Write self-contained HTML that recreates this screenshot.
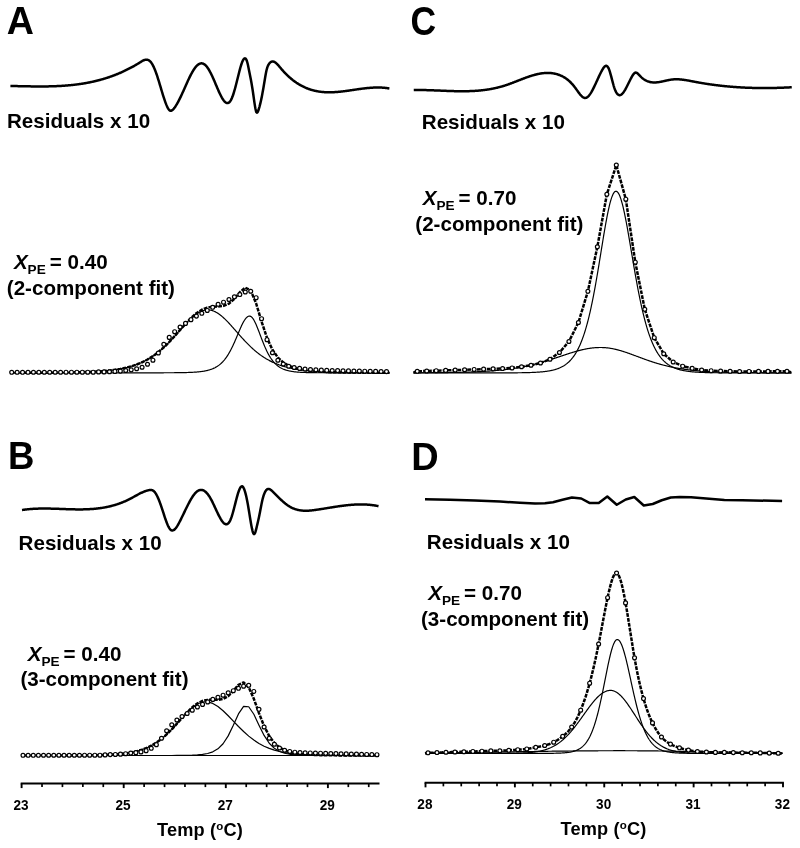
<!DOCTYPE html>
<html><head><meta charset="utf-8"><title>Figure</title>
<style>
html,body{margin:0;padding:0;background:#fff;}
body{width:800px;height:848px;overflow:hidden;}
svg{display:block;will-change:transform;}
text{font-family:"Liberation Sans", sans-serif;font-weight:bold;fill:#000;stroke:none;}
.pl{font-size:35.5px;}
.lb{font-size:20.6px;}
.it{font-style:italic;}
.sub{font-size:13.6px;}
.tl{font-size:13.6px;}
.tt{font-size:18.2px;letter-spacing:0.15px;}
.sup{font-size:11.5px;}
</style></head><body>
<svg width="800" height="848" viewBox="0 0 800 848">
<rect width="800" height="848" fill="#fff"/>
<g>
<path d="M10.00 372.78 L10.50 372.78 L11.00 372.78 L11.50 372.78 L12.00 372.78 L12.50 372.78 L13.00 372.78 L13.50 372.78 L14.00 372.78 L14.50 372.78 L15.00 372.78 L15.50 372.78 L16.00 372.77 L16.50 372.77 L17.00 372.77 L17.50 372.77 L18.00 372.77 L18.50 372.77 L19.00 372.77 L19.50 372.77 L20.00 372.77 L20.50 372.77 L21.00 372.77 L21.50 372.77 L22.00 372.77 L22.50 372.77 L23.00 372.76 L23.50 372.76 L24.00 372.76 L24.50 372.76 L25.00 372.76 L25.50 372.76 L26.00 372.76 L26.50 372.76 L27.00 372.76 L27.50 372.76 L28.00 372.75 L28.50 372.75 L29.00 372.75 L29.50 372.75 L30.00 372.75 L30.50 372.75 L31.00 372.75 L31.50 372.75 L32.00 372.74 L32.50 372.74 L33.00 372.74 L33.50 372.74 L34.00 372.74 L34.50 372.74 L35.00 372.74 L35.50 372.73 L36.00 372.73 L36.50 372.73 L37.00 372.73 L37.50 372.73 L38.00 372.73 L38.50 372.72 L39.00 372.72 L39.50 372.72 L40.00 372.72 L40.50 372.72 L41.00 372.71 L41.50 372.71 L42.00 372.71 L42.50 372.71 L43.00 372.71 L43.50 372.70 L44.00 372.70 L44.50 372.70 L45.00 372.70 L45.50 372.69 L46.00 372.69 L46.50 372.69 L47.00 372.69 L47.50 372.68 L48.00 372.68 L48.50 372.68 L49.00 372.67 L49.50 372.67 L50.00 372.67 L50.50 372.66 L51.00 372.66 L51.50 372.66 L52.00 372.65 L52.50 372.65 L53.00 372.65 L53.50 372.64 L54.00 372.64 L54.50 372.64 L55.00 372.63 L55.50 372.63 L56.00 372.62 L56.50 372.62 L57.00 372.61 L57.50 372.61 L58.00 372.60 L58.50 372.60 L59.00 372.59 L59.50 372.59 L60.00 372.58 L60.50 372.58 L61.00 372.57 L61.50 372.57 L62.00 372.56 L62.50 372.56 L63.00 372.55 L63.50 372.54 L64.00 372.54 L64.50 372.53 L65.00 372.53 L65.50 372.52 L66.00 372.51 L66.50 372.50 L67.00 372.50 L67.50 372.49 L68.00 372.48 L68.50 372.47 L69.00 372.47 L69.50 372.46 L70.00 372.45 L70.50 372.44 L71.00 372.43 L71.50 372.42 L72.00 372.41 L72.50 372.40 L73.00 372.39 L73.50 372.38 L74.00 372.37 L74.50 372.36 L75.00 372.35 L75.50 372.34 L76.00 372.33 L76.50 372.32 L77.00 372.31 L77.50 372.30 L78.00 372.28 L78.50 372.27 L79.00 372.26 L79.50 372.24 L80.00 372.23 L80.50 372.22 L81.00 372.20 L81.50 372.19 L82.00 372.17 L82.50 372.16 L83.00 372.14 L83.50 372.13 L84.00 372.11 L84.50 372.09 L85.00 372.07 L85.50 372.06 L86.00 372.04 L86.50 372.02 L87.00 372.00 L87.50 371.98 L88.00 371.96 L88.50 371.94 L89.00 371.92 L89.50 371.90 L90.00 371.88 L90.50 371.85 L91.00 371.83 L91.50 371.81 L92.00 371.78 L92.50 371.76 L93.00 371.73 L93.50 371.71 L94.00 371.68 L94.50 371.65 L95.00 371.63 L95.50 371.60 L96.00 371.57 L96.50 371.54 L97.00 371.51 L97.50 371.48 L98.00 371.44 L98.50 371.41 L99.00 371.38 L99.50 371.34 L100.00 371.31 L100.50 371.27 L101.00 371.23 L101.50 371.20 L102.00 371.16 L102.50 371.12 L103.00 371.08 L103.50 371.03 L104.00 370.99 L104.50 370.95 L105.00 370.90 L105.50 370.86 L106.00 370.81 L106.50 370.76 L107.00 370.71 L107.50 370.66 L108.00 370.61 L108.50 370.56 L109.00 370.50 L109.50 370.45 L110.00 370.39 L110.50 370.34 L111.00 370.28 L111.50 370.22 L112.00 370.15 L112.50 370.09 L113.00 370.03 L113.50 369.96 L114.00 369.89 L114.50 369.82 L115.00 369.75 L115.50 369.68 L116.00 369.60 L116.50 369.53 L117.00 369.45 L117.50 369.37 L118.00 369.29 L118.50 369.20 L119.00 369.12 L119.50 369.03 L120.00 368.94 L120.50 368.85 L121.00 368.76 L121.50 368.66 L122.00 368.56 L122.50 368.47 L123.00 368.36 L123.50 368.26 L124.00 368.15 L124.50 368.04 L125.00 367.93 L125.50 367.82 L126.00 367.70 L126.50 367.58 L127.00 367.46 L127.50 367.34 L128.00 367.21 L128.50 367.08 L129.00 366.95 L129.50 366.81 L130.00 366.67 L130.50 366.53 L131.00 366.39 L131.50 366.24 L132.00 366.09 L132.50 365.93 L133.00 365.78 L133.50 365.61 L134.00 365.45 L134.50 365.28 L135.00 365.11 L135.50 364.94 L136.00 364.76 L136.50 364.58 L137.00 364.39 L137.50 364.20 L138.00 364.01 L138.50 363.81 L139.00 363.61 L139.50 363.40 L140.00 363.19 L140.50 362.98 L141.00 362.76 L141.50 362.54 L142.00 362.31 L142.50 362.08 L143.00 361.84 L143.50 361.60 L144.00 361.36 L144.50 361.11 L145.00 360.85 L145.50 360.59 L146.00 360.33 L146.50 360.06 L147.00 359.79 L147.50 359.51 L148.00 359.22 L148.50 358.93 L149.00 358.64 L149.50 358.34 L150.00 358.03 L150.50 357.72 L151.00 357.41 L151.50 357.09 L152.00 356.76 L152.50 356.43 L153.00 356.09 L153.50 355.75 L154.00 355.40 L154.50 355.04 L155.00 354.68 L155.50 354.32 L156.00 353.94 L156.50 353.57 L157.00 353.18 L157.50 352.79 L158.00 352.40 L158.50 352.00 L159.00 351.59 L159.50 351.18 L160.00 350.76 L160.50 350.34 L161.00 349.91 L161.50 349.47 L162.00 349.03 L162.50 348.59 L163.00 348.14 L163.50 347.68 L164.00 347.22 L164.50 346.75 L165.00 346.27 L165.50 345.79 L166.00 345.31 L166.50 344.82 L167.00 344.33 L167.50 343.83 L168.00 343.32 L168.50 342.81 L169.00 342.30 L169.50 341.78 L170.00 341.26 L170.50 340.73 L171.00 340.20 L171.50 339.67 L172.00 339.13 L172.50 338.59 L173.00 338.05 L173.50 337.50 L174.00 336.95 L174.50 336.39 L175.00 335.84 L175.50 335.28 L176.00 334.72 L176.50 334.16 L177.00 333.59 L177.50 333.03 L178.00 332.46 L178.50 331.90 L179.00 331.33 L179.50 330.76 L180.00 330.20 L180.50 329.63 L181.00 329.06 L181.50 328.50 L182.00 327.94 L182.50 327.38 L183.00 326.82 L183.50 326.26 L184.00 325.71 L184.50 325.16 L185.00 324.61 L185.50 324.07 L186.00 323.53 L186.50 323.00 L187.00 322.47 L187.50 321.95 L188.00 321.43 L188.50 320.92 L189.00 320.42 L189.50 319.93 L190.00 319.44 L190.50 318.96 L191.00 318.48 L191.50 318.02 L192.00 317.57 L192.50 317.12 L193.00 316.69 L193.50 316.26 L194.00 315.85 L194.50 315.45 L195.00 315.06 L195.50 314.68 L196.00 314.31 L196.50 313.96 L197.00 313.62 L197.50 313.29 L198.00 312.97 L198.50 312.67 L199.00 312.38 L199.50 312.11 L200.00 311.85 L200.50 311.61 L201.00 311.38 L201.50 311.17 L202.00 310.97 L202.50 310.79 L203.00 310.62 L203.50 310.48 L204.00 310.34 L204.50 310.23 L205.00 310.13 L205.50 310.04 L206.00 309.98 L206.50 309.93 L207.00 309.89 L207.50 309.88 L208.00 309.88 L208.50 309.90 L209.00 309.93 L209.50 309.99 L210.00 310.06 L210.50 310.14 L211.00 310.25 L211.50 310.37 L212.00 310.50 L212.50 310.66 L213.00 310.83 L213.50 311.01 L214.00 311.21 L214.50 311.43 L215.00 311.66 L215.50 311.91 L216.00 312.18 L216.50 312.46 L217.00 312.75 L217.50 313.06 L218.00 313.38 L218.50 313.71 L219.00 314.06 L219.50 314.42 L220.00 314.79 L220.50 315.18 L221.00 315.58 L221.50 315.99 L222.00 316.41 L222.50 316.84 L223.00 317.28 L223.50 317.73 L224.00 318.19 L224.50 318.66 L225.00 319.14 L225.50 319.63 L226.00 320.12 L226.50 320.63 L227.00 321.14 L227.50 321.65 L228.00 322.17 L228.50 322.70 L229.00 323.24 L229.50 323.78 L230.00 324.32 L230.50 324.87 L231.00 325.42 L231.50 325.98 L232.00 326.53 L232.50 327.10 L233.00 327.66 L233.50 328.23 L234.00 328.79 L234.50 329.36 L235.00 329.93 L235.50 330.50 L236.00 331.08 L236.50 331.65 L237.00 332.22 L237.50 332.79 L238.00 333.36 L238.50 333.93 L239.00 334.49 L239.50 335.06 L240.00 335.62 L240.50 336.18 L241.00 336.74 L241.50 337.30 L242.00 337.85 L242.50 338.40 L243.00 338.95 L243.50 339.49 L244.00 340.03 L244.50 340.57 L245.00 341.10 L245.50 341.62 L246.00 342.15 L246.50 342.67 L247.00 343.18 L247.50 343.69 L248.00 344.19 L248.50 344.69 L249.00 345.19 L249.50 345.68 L250.00 346.16 L250.50 346.64 L251.00 347.11 L251.50 347.58 L252.00 348.04 L252.50 348.50 L253.00 348.95 L253.50 349.40 L254.00 349.83 L254.50 350.27 L255.00 350.70 L255.50 351.12 L256.00 351.53 L256.50 351.94 L257.00 352.35 L257.50 352.75 L258.00 353.14 L258.50 353.53 L259.00 353.91 L259.50 354.28 L260.00 354.65 L260.50 355.02 L261.00 355.37 L261.50 355.73 L262.00 356.07 L262.50 356.41 L263.00 356.75 L263.50 357.08 L264.00 357.40 L264.50 357.72 L265.00 358.03 L265.50 358.34 L266.00 358.64 L266.50 358.94 L267.00 359.23 L267.50 359.52 L268.00 359.80 L268.50 360.07 L269.00 360.34 L269.50 360.61 L270.00 360.87 L270.50 361.13 L271.00 361.38 L271.50 361.63 L272.00 361.87 L272.50 362.10 L273.00 362.34 L273.50 362.57 L274.00 362.79 L274.50 363.01 L275.00 363.22 L275.50 363.43 L276.00 363.64 L276.50 363.84 L277.00 364.04 L277.50 364.24 L278.00 364.43 L278.50 364.61 L279.00 364.80 L279.50 364.97 L280.00 365.15 L280.50 365.32 L281.00 365.49 L281.50 365.65 L282.00 365.82 L282.50 365.97 L283.00 366.13 L283.50 366.28 L284.00 366.43 L284.50 366.57 L285.00 366.71 L285.50 366.85 L286.00 366.99 L286.50 367.12 L287.00 367.25 L287.50 367.38 L288.00 367.50 L288.50 367.62 L289.00 367.74 L289.50 367.86 L290.00 367.97 L290.50 368.08 L291.00 368.19 L291.50 368.30 L292.00 368.40 L292.50 368.51 L293.00 368.61 L293.50 368.70 L294.00 368.80 L294.50 368.89 L295.00 368.98 L295.50 369.07 L296.00 369.16 L296.50 369.24 L297.00 369.33 L297.50 369.41 L298.00 369.49 L298.50 369.57 L299.00 369.64 L299.50 369.72 L300.00 369.79 L300.50 369.86 L301.00 369.93 L301.50 370.00 L302.00 370.06 L302.50 370.13 L303.00 370.19 L303.50 370.25 L304.00 370.31 L304.50 370.37 L305.00 370.43 L305.50 370.48 L306.00 370.54 L306.50 370.59 L307.00 370.64 L307.50 370.70 L308.00 370.75 L308.50 370.79 L309.00 370.84 L309.50 370.89 L310.00 370.93 L310.50 370.98 L311.00 371.02 L311.50 371.06 L312.00 371.10 L312.50 371.15 L313.00 371.18 L313.50 371.22 L314.00 371.26 L314.50 371.30 L315.00 371.33 L315.50 371.37 L316.00 371.40 L316.50 371.44 L317.00 371.47 L317.50 371.50 L318.00 371.53 L318.50 371.56 L319.00 371.59 L319.50 371.62 L320.00 371.65 L320.50 371.68 L321.00 371.70 L321.50 371.73 L322.00 371.76 L322.50 371.78 L323.00 371.80 L323.50 371.83 L324.00 371.85 L324.50 371.87 L325.00 371.90 L325.50 371.92 L326.00 371.94 L326.50 371.96 L327.00 371.98 L327.50 372.00 L328.00 372.02 L328.50 372.04 L329.00 372.06 L329.50 372.07 L330.00 372.09 L330.50 372.11 L331.00 372.13 L331.50 372.14 L332.00 372.16 L332.50 372.17 L333.00 372.19 L333.50 372.20 L334.00 372.22 L334.50 372.23 L335.00 372.25 L335.50 372.26 L336.00 372.27 L336.50 372.28 L337.00 372.30 L337.50 372.31 L338.00 372.32 L338.50 372.33 L339.00 372.34 L339.50 372.35 L340.00 372.37 L340.50 372.38 L341.00 372.39 L341.50 372.40 L342.00 372.41 L342.50 372.42 L343.00 372.42 L343.50 372.43 L344.00 372.44 L344.50 372.45 L345.00 372.46 L345.50 372.47 L346.00 372.48 L346.50 372.48 L347.00 372.49 L347.50 372.50 L348.00 372.51 L348.50 372.51 L349.00 372.52 L349.50 372.53 L350.00 372.53 L350.50 372.54 L351.00 372.55 L351.50 372.55 L352.00 372.56 L352.50 372.56 L353.00 372.57 L353.50 372.58 L354.00 372.58 L354.50 372.59 L355.00 372.59 L355.50 372.60 L356.00 372.60 L356.50 372.61 L357.00 372.61 L357.50 372.62 L358.00 372.62 L358.50 372.62 L359.00 372.63 L359.50 372.63 L360.00 372.64 L360.50 372.64 L361.00 372.64 L361.50 372.65 L362.00 372.65 L362.50 372.66 L363.00 372.66 L363.50 372.66 L364.00 372.67 L364.50 372.67 L365.00 372.67 L365.50 372.68 L366.00 372.68 L366.50 372.68 L367.00 372.68 L367.50 372.69 L368.00 372.69 L368.50 372.69 L369.00 372.70 L369.50 372.70 L370.00 372.70 L370.50 372.70 L371.00 372.70 L371.50 372.71 L372.00 372.71 L372.50 372.71 L373.00 372.71 L373.50 372.72 L374.00 372.72 L374.50 372.72 L375.00 372.72 L375.50 372.72 L376.00 372.73 L376.50 372.73 L377.00 372.73 L377.50 372.73 L378.00 372.73 L378.50 372.73 L379.00 372.74 L379.50 372.74 L380.00 372.74 L380.50 372.74 L381.00 372.74 L381.50 372.74 L382.00 372.74 L382.50 372.75 L383.00 372.75 L383.50 372.75 L384.00 372.75 L384.50 372.75 L385.00 372.75 L385.50 372.75 L386.00 372.75 L386.50 372.76 L387.00 372.76 L387.50 372.76 L388.00 372.76 L388.50 372.76 L389.00 372.76 L389.50 372.76" fill="none" stroke="#000" stroke-width="1.20" stroke-linejoin="round"/>
<path d="M10.00 372.80 L10.50 372.80 L11.00 372.80 L11.50 372.80 L12.00 372.80 L12.50 372.80 L13.00 372.80 L13.50 372.80 L14.00 372.80 L14.50 372.80 L15.00 372.80 L15.50 372.80 L16.00 372.80 L16.50 372.80 L17.00 372.80 L17.50 372.80 L18.00 372.80 L18.50 372.80 L19.00 372.80 L19.50 372.80 L20.00 372.80 L20.50 372.80 L21.00 372.80 L21.50 372.80 L22.00 372.80 L22.50 372.80 L23.00 372.80 L23.50 372.80 L24.00 372.80 L24.50 372.80 L25.00 372.80 L25.50 372.80 L26.00 372.80 L26.50 372.80 L27.00 372.80 L27.50 372.80 L28.00 372.80 L28.50 372.80 L29.00 372.80 L29.50 372.80 L30.00 372.80 L30.50 372.80 L31.00 372.80 L31.50 372.80 L32.00 372.80 L32.50 372.80 L33.00 372.80 L33.50 372.80 L34.00 372.80 L34.50 372.80 L35.00 372.80 L35.50 372.80 L36.00 372.80 L36.50 372.80 L37.00 372.80 L37.50 372.80 L38.00 372.80 L38.50 372.80 L39.00 372.80 L39.50 372.80 L40.00 372.80 L40.50 372.80 L41.00 372.80 L41.50 372.80 L42.00 372.80 L42.50 372.80 L43.00 372.80 L43.50 372.80 L44.00 372.80 L44.50 372.80 L45.00 372.80 L45.50 372.80 L46.00 372.80 L46.50 372.80 L47.00 372.80 L47.50 372.80 L48.00 372.80 L48.50 372.80 L49.00 372.80 L49.50 372.80 L50.00 372.80 L50.50 372.80 L51.00 372.80 L51.50 372.80 L52.00 372.80 L52.50 372.80 L53.00 372.80 L53.50 372.80 L54.00 372.80 L54.50 372.80 L55.00 372.80 L55.50 372.80 L56.00 372.80 L56.50 372.80 L57.00 372.80 L57.50 372.80 L58.00 372.80 L58.50 372.80 L59.00 372.80 L59.50 372.80 L60.00 372.80 L60.50 372.80 L61.00 372.80 L61.50 372.80 L62.00 372.80 L62.50 372.80 L63.00 372.80 L63.50 372.80 L64.00 372.80 L64.50 372.80 L65.00 372.80 L65.50 372.80 L66.00 372.80 L66.50 372.80 L67.00 372.80 L67.50 372.80 L68.00 372.80 L68.50 372.80 L69.00 372.80 L69.50 372.80 L70.00 372.80 L70.50 372.80 L71.00 372.80 L71.50 372.80 L72.00 372.80 L72.50 372.80 L73.00 372.80 L73.50 372.80 L74.00 372.80 L74.50 372.80 L75.00 372.80 L75.50 372.80 L76.00 372.80 L76.50 372.80 L77.00 372.80 L77.50 372.80 L78.00 372.80 L78.50 372.80 L79.00 372.80 L79.50 372.80 L80.00 372.80 L80.50 372.80 L81.00 372.80 L81.50 372.80 L82.00 372.80 L82.50 372.80 L83.00 372.80 L83.50 372.80 L84.00 372.80 L84.50 372.80 L85.00 372.80 L85.50 372.80 L86.00 372.80 L86.50 372.80 L87.00 372.80 L87.50 372.80 L88.00 372.80 L88.50 372.80 L89.00 372.80 L89.50 372.80 L90.00 372.80 L90.50 372.80 L91.00 372.80 L91.50 372.80 L92.00 372.80 L92.50 372.80 L93.00 372.80 L93.50 372.80 L94.00 372.80 L94.50 372.80 L95.00 372.80 L95.50 372.80 L96.00 372.80 L96.50 372.80 L97.00 372.80 L97.50 372.80 L98.00 372.80 L98.50 372.80 L99.00 372.80 L99.50 372.80 L100.00 372.80 L100.50 372.80 L101.00 372.80 L101.50 372.80 L102.00 372.80 L102.50 372.80 L103.00 372.80 L103.50 372.80 L104.00 372.80 L104.50 372.80 L105.00 372.80 L105.50 372.80 L106.00 372.80 L106.50 372.80 L107.00 372.80 L107.50 372.80 L108.00 372.80 L108.50 372.80 L109.00 372.80 L109.50 372.80 L110.00 372.80 L110.50 372.80 L111.00 372.80 L111.50 372.80 L112.00 372.80 L112.50 372.80 L113.00 372.80 L113.50 372.80 L114.00 372.80 L114.50 372.80 L115.00 372.80 L115.50 372.80 L116.00 372.80 L116.50 372.80 L117.00 372.80 L117.50 372.80 L118.00 372.80 L118.50 372.80 L119.00 372.80 L119.50 372.80 L120.00 372.80 L120.50 372.80 L121.00 372.80 L121.50 372.80 L122.00 372.80 L122.50 372.80 L123.00 372.80 L123.50 372.80 L124.00 372.80 L124.50 372.80 L125.00 372.80 L125.50 372.80 L126.00 372.80 L126.50 372.80 L127.00 372.80 L127.50 372.80 L128.00 372.80 L128.50 372.80 L129.00 372.80 L129.50 372.80 L130.00 372.80 L130.50 372.80 L131.00 372.80 L131.50 372.80 L132.00 372.80 L132.50 372.80 L133.00 372.80 L133.50 372.80 L134.00 372.80 L134.50 372.80 L135.00 372.80 L135.50 372.80 L136.00 372.80 L136.50 372.80 L137.00 372.80 L137.50 372.80 L138.00 372.80 L138.50 372.80 L139.00 372.80 L139.50 372.80 L140.00 372.80 L140.50 372.80 L141.00 372.80 L141.50 372.80 L142.00 372.80 L142.50 372.80 L143.00 372.80 L143.50 372.80 L144.00 372.80 L144.50 372.80 L145.00 372.80 L145.50 372.80 L146.00 372.80 L146.50 372.80 L147.00 372.80 L147.50 372.80 L148.00 372.80 L148.50 372.79 L149.00 372.79 L149.50 372.79 L150.00 372.79 L150.50 372.79 L151.00 372.79 L151.50 372.79 L152.00 372.79 L152.50 372.79 L153.00 372.79 L153.50 372.79 L154.00 372.79 L154.50 372.79 L155.00 372.79 L155.50 372.79 L156.00 372.79 L156.50 372.79 L157.00 372.79 L157.50 372.79 L158.00 372.79 L158.50 372.79 L159.00 372.78 L159.50 372.78 L160.00 372.78 L160.50 372.78 L161.00 372.78 L161.50 372.78 L162.00 372.78 L162.50 372.78 L163.00 372.78 L163.50 372.78 L164.00 372.77 L164.50 372.77 L165.00 372.77 L165.50 372.77 L166.00 372.77 L166.50 372.77 L167.00 372.77 L167.50 372.76 L168.00 372.76 L168.50 372.76 L169.00 372.76 L169.50 372.75 L170.00 372.75 L170.50 372.75 L171.00 372.75 L171.50 372.74 L172.00 372.74 L172.50 372.74 L173.00 372.73 L173.50 372.73 L174.00 372.73 L174.50 372.72 L175.00 372.72 L175.50 372.72 L176.00 372.71 L176.50 372.71 L177.00 372.70 L177.50 372.70 L178.00 372.69 L178.50 372.68 L179.00 372.68 L179.50 372.67 L180.00 372.66 L180.50 372.66 L181.00 372.65 L181.50 372.64 L182.00 372.63 L182.50 372.62 L183.00 372.61 L183.50 372.60 L184.00 372.59 L184.50 372.58 L185.00 372.57 L185.50 372.56 L186.00 372.55 L186.50 372.53 L187.00 372.52 L187.50 372.50 L188.00 372.49 L188.50 372.47 L189.00 372.45 L189.50 372.43 L190.00 372.41 L190.50 372.39 L191.00 372.37 L191.50 372.35 L192.00 372.32 L192.50 372.30 L193.00 372.27 L193.50 372.24 L194.00 372.21 L194.50 372.18 L195.00 372.15 L195.50 372.11 L196.00 372.08 L196.50 372.04 L197.00 372.00 L197.50 371.96 L198.00 371.91 L198.50 371.86 L199.00 371.81 L199.50 371.76 L200.00 371.70 L200.50 371.65 L201.00 371.58 L201.50 371.52 L202.00 371.45 L202.50 371.38 L203.00 371.30 L203.50 371.22 L204.00 371.14 L204.50 371.05 L205.00 370.96 L205.50 370.86 L206.00 370.76 L206.50 370.65 L207.00 370.54 L207.50 370.42 L208.00 370.29 L208.50 370.16 L209.00 370.02 L209.50 369.87 L210.00 369.72 L210.50 369.55 L211.00 369.38 L211.50 369.20 L212.00 369.01 L212.50 368.82 L213.00 368.61 L213.50 368.39 L214.00 368.16 L214.50 367.92 L215.00 367.67 L215.50 367.40 L216.00 367.12 L216.50 366.83 L217.00 366.52 L217.50 366.20 L218.00 365.86 L218.50 365.51 L219.00 365.14 L219.50 364.75 L220.00 364.34 L220.50 363.92 L221.00 363.47 L221.50 363.01 L222.00 362.52 L222.50 362.02 L223.00 361.49 L223.50 360.93 L224.00 360.36 L224.50 359.76 L225.00 359.13 L225.50 358.48 L226.00 357.80 L226.50 357.10 L227.00 356.37 L227.50 355.61 L228.00 354.82 L228.50 354.01 L229.00 353.17 L229.50 352.30 L230.00 351.40 L230.50 350.47 L231.00 349.52 L231.50 348.54 L232.00 347.53 L232.50 346.50 L233.00 345.44 L233.50 344.36 L234.00 343.26 L234.50 342.14 L235.00 341.00 L235.50 339.85 L236.00 338.68 L236.50 337.50 L237.00 336.31 L237.50 335.12 L238.00 333.93 L238.50 332.73 L239.00 331.55 L239.50 330.38 L240.00 329.22 L240.50 328.08 L241.00 326.96 L241.50 325.87 L242.00 324.82 L242.50 323.81 L243.00 322.83 L243.50 321.91 L244.00 321.04 L244.50 320.23 L245.00 319.48 L245.50 318.80 L246.00 318.18 L246.50 317.64 L247.00 317.18 L247.50 316.80 L248.00 316.50 L248.50 316.28 L249.00 316.15 L249.50 316.11 L250.00 316.16 L250.50 316.33 L251.00 316.59 L251.50 316.96 L252.00 317.44 L252.50 318.01 L253.00 318.67 L253.50 319.43 L254.00 320.26 L254.50 321.18 L255.00 322.16 L255.50 323.21 L256.00 324.32 L256.50 325.47 L257.00 326.68 L257.50 327.92 L258.00 329.19 L258.50 330.48 L259.00 331.80 L259.50 333.12 L260.00 334.45 L260.50 335.78 L261.00 337.11 L261.50 338.43 L262.00 339.74 L262.50 341.03 L263.00 342.30 L263.50 343.55 L264.00 344.77 L264.50 345.96 L265.00 347.13 L265.50 348.26 L266.00 349.36 L266.50 350.43 L267.00 351.47 L267.50 352.46 L268.00 353.43 L268.50 354.36 L269.00 355.25 L269.50 356.11 L270.00 356.93 L270.50 357.73 L271.00 358.48 L271.50 359.21 L272.00 359.90 L272.50 360.56 L273.00 361.20 L273.50 361.80 L274.00 362.38 L274.50 362.92 L275.00 363.45 L275.50 363.94 L276.00 364.41 L276.50 364.86 L277.00 365.29 L277.50 365.69 L278.00 366.08 L278.50 366.44 L279.00 366.79 L279.50 367.12 L280.00 367.43 L280.50 367.72 L281.00 368.00 L281.50 368.27 L282.00 368.52 L282.50 368.75 L283.00 368.98 L283.50 369.19 L284.00 369.39 L284.50 369.58 L285.00 369.76 L285.50 369.93 L286.00 370.09 L286.50 370.24 L287.00 370.38 L287.50 370.52 L288.00 370.65 L288.50 370.77 L289.00 370.88 L289.50 370.99 L290.00 371.09 L290.50 371.19 L291.00 371.28 L291.50 371.36 L292.00 371.44 L292.50 371.52 L293.00 371.59 L293.50 371.66 L294.00 371.73 L294.50 371.79 L295.00 371.84 L295.50 371.90 L296.00 371.95 L296.50 372.00 L297.00 372.04 L297.50 372.08 L298.00 372.13 L298.50 372.16 L299.00 372.20 L299.50 372.23 L300.00 372.27 L300.50 372.30 L301.00 372.32 L301.50 372.35 L302.00 372.38 L302.50 372.40 L303.00 372.42 L303.50 372.44 L304.00 372.46 L304.50 372.48 L305.00 372.50 L305.50 372.52 L306.00 372.53 L306.50 372.55 L307.00 372.56 L307.50 372.58 L308.00 372.59 L308.50 372.60 L309.00 372.61 L309.50 372.62 L310.00 372.63 L310.50 372.64 L311.00 372.65 L311.50 372.66 L312.00 372.67 L312.50 372.68 L313.00 372.68 L313.50 372.69 L314.00 372.70 L314.50 372.70 L315.00 372.71 L315.50 372.71 L316.00 372.72 L316.50 372.72 L317.00 372.73 L317.50 372.73 L318.00 372.73 L318.50 372.74 L319.00 372.74 L319.50 372.75 L320.00 372.75 L320.50 372.75 L321.00 372.75 L321.50 372.76 L322.00 372.76 L322.50 372.76 L323.00 372.76 L323.50 372.77 L324.00 372.77 L324.50 372.77 L325.00 372.77 L325.50 372.77 L326.00 372.77 L326.50 372.78 L327.00 372.78 L327.50 372.78 L328.00 372.78 L328.50 372.78 L329.00 372.78 L329.50 372.78 L330.00 372.78 L330.50 372.78 L331.00 372.79 L331.50 372.79 L332.00 372.79 L332.50 372.79 L333.00 372.79 L333.50 372.79 L334.00 372.79 L334.50 372.79 L335.00 372.79 L335.50 372.79 L336.00 372.79 L336.50 372.79 L337.00 372.79 L337.50 372.79 L338.00 372.79 L338.50 372.79 L339.00 372.79 L339.50 372.79 L340.00 372.80 L340.50 372.80 L341.00 372.80 L341.50 372.80 L342.00 372.80 L342.50 372.80 L343.00 372.80 L343.50 372.80 L344.00 372.80 L344.50 372.80 L345.00 372.80 L345.50 372.80 L346.00 372.80 L346.50 372.80 L347.00 372.80 L347.50 372.80 L348.00 372.80 L348.50 372.80 L349.00 372.80 L349.50 372.80 L350.00 372.80 L350.50 372.80 L351.00 372.80 L351.50 372.80 L352.00 372.80 L352.50 372.80 L353.00 372.80 L353.50 372.80 L354.00 372.80 L354.50 372.80 L355.00 372.80 L355.50 372.80 L356.00 372.80 L356.50 372.80 L357.00 372.80 L357.50 372.80 L358.00 372.80 L358.50 372.80 L359.00 372.80 L359.50 372.80 L360.00 372.80 L360.50 372.80 L361.00 372.80 L361.50 372.80 L362.00 372.80 L362.50 372.80 L363.00 372.80 L363.50 372.80 L364.00 372.80 L364.50 372.80 L365.00 372.80 L365.50 372.80 L366.00 372.80 L366.50 372.80 L367.00 372.80 L367.50 372.80 L368.00 372.80 L368.50 372.80 L369.00 372.80 L369.50 372.80 L370.00 372.80 L370.50 372.80 L371.00 372.80 L371.50 372.80 L372.00 372.80 L372.50 372.80 L373.00 372.80 L373.50 372.80 L374.00 372.80 L374.50 372.80 L375.00 372.80 L375.50 372.80 L376.00 372.80 L376.50 372.80 L377.00 372.80 L377.50 372.80 L378.00 372.80 L378.50 372.80 L379.00 372.80 L379.50 372.80 L380.00 372.80 L380.50 372.80 L381.00 372.80 L381.50 372.80 L382.00 372.80 L382.50 372.80 L383.00 372.80 L383.50 372.80 L384.00 372.80 L384.50 372.80 L385.00 372.80 L385.50 372.80 L386.00 372.80 L386.50 372.80 L387.00 372.80 L387.50 372.80 L388.00 372.80 L388.50 372.80 L389.00 372.80 L389.50 372.80" fill="none" stroke="#000" stroke-width="1.20" stroke-linejoin="round"/>
<path d="M10.00 372.78 L11.70 372.78 L17.13 372.77 L22.56 372.77 L28.00 372.75 L33.43 372.74 L38.86 372.72 L44.29 372.70 L49.72 372.67 L55.16 372.63 L60.59 372.58 L66.02 372.51 L71.45 372.42 L76.88 372.31 L82.32 372.16 L87.75 371.97 L93.18 371.72 L98.61 371.40 L104.04 370.99 L109.48 370.45 L114.91 369.76 L120.34 368.88 L125.77 367.75 L131.20 366.32 L136.64 364.52 L142.07 362.28 L147.50 359.50 L152.93 356.13 L158.36 352.09 L163.80 347.38 L169.23 342.02 L174.66 336.14 L180.09 329.95 L185.52 323.80 L190.96 318.10 L196.39 313.28 L201.82 309.72 L207.25 307.56 L212.68 306.66 L218.12 306.43 L223.55 305.85 L228.98 303.62 L234.41 298.80 L239.84 292.22 L245.28 287.68 L250.71 290.46 L256.14 303.49 L261.57 321.60 L267.00 337.91 L272.44 349.76 L277.87 357.56 L283.30 362.52 L288.73 365.70 L294.16 367.78 L299.60 369.17 L305.03 370.13 L310.46 370.82 L315.89 371.31 L321.32 371.68 L326.76 371.95 L332.19 372.15 L337.62 372.31 L343.05 372.42 L348.48 372.51 L353.92 372.58 L359.35 372.63 L364.78 372.67 L370.21 372.70 L375.64 372.72 L381.08 372.74 L386.51 372.76 L389.50 372.76" fill="none" stroke="#000" stroke-width="2.50" stroke-dasharray="3.8 1.1" stroke-linejoin="round"/>
<circle cx="11.70" cy="372.30" r="1.95" fill="#fff" stroke="#000" stroke-width="1.20"/>
<circle cx="17.13" cy="372.29" r="1.95" fill="#fff" stroke="#000" stroke-width="1.20"/>
<circle cx="22.56" cy="372.28" r="1.95" fill="#fff" stroke="#000" stroke-width="1.20"/>
<circle cx="28.00" cy="372.28" r="1.95" fill="#fff" stroke="#000" stroke-width="1.20"/>
<circle cx="33.43" cy="372.27" r="1.95" fill="#fff" stroke="#000" stroke-width="1.20"/>
<circle cx="38.86" cy="372.26" r="1.95" fill="#fff" stroke="#000" stroke-width="1.20"/>
<circle cx="44.29" cy="372.25" r="1.95" fill="#fff" stroke="#000" stroke-width="1.20"/>
<circle cx="49.72" cy="372.25" r="1.95" fill="#fff" stroke="#000" stroke-width="1.20"/>
<circle cx="55.16" cy="372.24" r="1.95" fill="#fff" stroke="#000" stroke-width="1.20"/>
<circle cx="60.59" cy="372.23" r="1.95" fill="#fff" stroke="#000" stroke-width="1.20"/>
<circle cx="66.02" cy="372.22" r="1.95" fill="#fff" stroke="#000" stroke-width="1.20"/>
<circle cx="71.45" cy="372.22" r="1.95" fill="#fff" stroke="#000" stroke-width="1.20"/>
<circle cx="76.88" cy="372.21" r="1.95" fill="#fff" stroke="#000" stroke-width="1.20"/>
<circle cx="82.32" cy="372.20" r="1.95" fill="#fff" stroke="#000" stroke-width="1.20"/>
<circle cx="87.75" cy="372.20" r="1.95" fill="#fff" stroke="#000" stroke-width="1.20"/>
<circle cx="93.18" cy="372.20" r="1.95" fill="#fff" stroke="#000" stroke-width="1.20"/>
<circle cx="98.61" cy="371.90" r="1.95" fill="#fff" stroke="#000" stroke-width="1.20"/>
<circle cx="104.04" cy="371.90" r="1.95" fill="#fff" stroke="#000" stroke-width="1.20"/>
<circle cx="109.48" cy="371.75" r="1.95" fill="#fff" stroke="#000" stroke-width="1.20"/>
<circle cx="114.91" cy="371.40" r="1.95" fill="#fff" stroke="#000" stroke-width="1.20"/>
<circle cx="120.34" cy="371.10" r="1.95" fill="#fff" stroke="#000" stroke-width="1.20"/>
<circle cx="125.77" cy="370.50" r="1.95" fill="#fff" stroke="#000" stroke-width="1.20"/>
<circle cx="131.20" cy="369.80" r="1.95" fill="#fff" stroke="#000" stroke-width="1.20"/>
<circle cx="136.64" cy="368.75" r="1.95" fill="#fff" stroke="#000" stroke-width="1.20"/>
<circle cx="142.07" cy="367.25" r="1.95" fill="#fff" stroke="#000" stroke-width="1.20"/>
<circle cx="147.50" cy="364.25" r="1.95" fill="#fff" stroke="#000" stroke-width="1.20"/>
<circle cx="152.93" cy="360.20" r="1.95" fill="#fff" stroke="#000" stroke-width="1.20"/>
<circle cx="158.36" cy="353.00" r="1.95" fill="#fff" stroke="#000" stroke-width="1.20"/>
<circle cx="163.80" cy="344.30" r="1.95" fill="#fff" stroke="#000" stroke-width="1.20"/>
<circle cx="169.23" cy="337.40" r="1.95" fill="#fff" stroke="#000" stroke-width="1.20"/>
<circle cx="174.66" cy="331.70" r="1.95" fill="#fff" stroke="#000" stroke-width="1.20"/>
<circle cx="180.09" cy="327.00" r="1.95" fill="#fff" stroke="#000" stroke-width="1.20"/>
<circle cx="185.52" cy="323.40" r="1.95" fill="#fff" stroke="#000" stroke-width="1.20"/>
<circle cx="190.96" cy="319.70" r="1.95" fill="#fff" stroke="#000" stroke-width="1.20"/>
<circle cx="196.39" cy="316.10" r="1.95" fill="#fff" stroke="#000" stroke-width="1.20"/>
<circle cx="201.82" cy="313.30" r="1.95" fill="#fff" stroke="#000" stroke-width="1.20"/>
<circle cx="207.25" cy="310.45" r="1.95" fill="#fff" stroke="#000" stroke-width="1.20"/>
<circle cx="212.68" cy="307.30" r="1.95" fill="#fff" stroke="#000" stroke-width="1.20"/>
<circle cx="218.12" cy="304.30" r="1.95" fill="#fff" stroke="#000" stroke-width="1.20"/>
<circle cx="223.55" cy="302.20" r="1.95" fill="#fff" stroke="#000" stroke-width="1.20"/>
<circle cx="228.98" cy="299.50" r="1.95" fill="#fff" stroke="#000" stroke-width="1.20"/>
<circle cx="234.41" cy="296.80" r="1.95" fill="#fff" stroke="#000" stroke-width="1.20"/>
<circle cx="239.84" cy="294.55" r="1.95" fill="#fff" stroke="#000" stroke-width="1.20"/>
<circle cx="245.28" cy="292.00" r="1.95" fill="#fff" stroke="#000" stroke-width="1.20"/>
<circle cx="250.71" cy="291.25" r="1.95" fill="#fff" stroke="#000" stroke-width="1.20"/>
<circle cx="256.14" cy="297.70" r="1.95" fill="#fff" stroke="#000" stroke-width="1.20"/>
<circle cx="261.57" cy="318.70" r="1.95" fill="#fff" stroke="#000" stroke-width="1.20"/>
<circle cx="267.00" cy="339.70" r="1.95" fill="#fff" stroke="#000" stroke-width="1.20"/>
<circle cx="272.44" cy="352.75" r="1.95" fill="#fff" stroke="#000" stroke-width="1.20"/>
<circle cx="277.87" cy="360.25" r="1.95" fill="#fff" stroke="#000" stroke-width="1.20"/>
<circle cx="283.30" cy="364.00" r="1.95" fill="#fff" stroke="#000" stroke-width="1.20"/>
<circle cx="288.73" cy="366.25" r="1.95" fill="#fff" stroke="#000" stroke-width="1.20"/>
<circle cx="294.16" cy="367.50" r="1.95" fill="#fff" stroke="#000" stroke-width="1.20"/>
<circle cx="299.60" cy="368.40" r="1.95" fill="#fff" stroke="#000" stroke-width="1.20"/>
<circle cx="305.03" cy="369.10" r="1.95" fill="#fff" stroke="#000" stroke-width="1.20"/>
<circle cx="310.46" cy="369.50" r="1.95" fill="#fff" stroke="#000" stroke-width="1.20"/>
<circle cx="315.89" cy="369.80" r="1.95" fill="#fff" stroke="#000" stroke-width="1.20"/>
<circle cx="321.32" cy="370.15" r="1.95" fill="#fff" stroke="#000" stroke-width="1.20"/>
<circle cx="326.76" cy="370.40" r="1.95" fill="#fff" stroke="#000" stroke-width="1.20"/>
<circle cx="332.19" cy="370.50" r="1.95" fill="#fff" stroke="#000" stroke-width="1.20"/>
<circle cx="337.62" cy="370.60" r="1.95" fill="#fff" stroke="#000" stroke-width="1.20"/>
<circle cx="343.05" cy="370.75" r="1.95" fill="#fff" stroke="#000" stroke-width="1.20"/>
<circle cx="348.48" cy="370.90" r="1.95" fill="#fff" stroke="#000" stroke-width="1.20"/>
<circle cx="353.92" cy="371.00" r="1.95" fill="#fff" stroke="#000" stroke-width="1.20"/>
<circle cx="359.35" cy="371.10" r="1.95" fill="#fff" stroke="#000" stroke-width="1.20"/>
<circle cx="364.78" cy="371.20" r="1.95" fill="#fff" stroke="#000" stroke-width="1.20"/>
<circle cx="370.21" cy="371.30" r="1.95" fill="#fff" stroke="#000" stroke-width="1.20"/>
<circle cx="375.64" cy="371.40" r="1.95" fill="#fff" stroke="#000" stroke-width="1.20"/>
<circle cx="381.08" cy="371.50" r="1.95" fill="#fff" stroke="#000" stroke-width="1.20"/>
<circle cx="386.51" cy="371.60" r="1.95" fill="#fff" stroke="#000" stroke-width="1.20"/>
<path d="M10.40 85.98 L10.90 85.99 L11.40 86.00 L11.90 86.01 L12.40 86.02 L12.90 86.03 L13.40 86.04 L13.90 86.05 L14.40 86.06 L14.90 86.07 L15.40 86.08 L15.90 86.09 L16.40 86.10 L16.90 86.11 L17.40 86.12 L17.90 86.13 L18.40 86.14 L18.90 86.15 L19.40 86.16 L19.90 86.17 L20.40 86.18 L20.90 86.20 L21.40 86.21 L21.90 86.22 L22.40 86.23 L22.90 86.24 L23.40 86.25 L23.90 86.26 L24.40 86.27 L24.90 86.28 L25.40 86.29 L25.90 86.30 L26.40 86.31 L26.90 86.31 L27.40 86.32 L27.90 86.33 L28.40 86.34 L28.90 86.35 L29.40 86.36 L29.90 86.37 L30.40 86.37 L30.90 86.38 L31.40 86.39 L31.90 86.39 L32.40 86.40 L32.90 86.41 L33.40 86.41 L33.90 86.42 L34.40 86.42 L34.90 86.43 L35.40 86.43 L35.90 86.44 L36.40 86.44 L36.90 86.44 L37.40 86.45 L37.90 86.45 L38.40 86.45 L38.90 86.45 L39.40 86.45 L39.90 86.45 L40.40 86.45 L40.90 86.45 L41.40 86.45 L41.90 86.45 L42.40 86.45 L42.90 86.45 L43.40 86.44 L43.90 86.44 L44.40 86.44 L44.90 86.43 L45.40 86.43 L45.90 86.42 L46.40 86.41 L46.90 86.41 L47.40 86.40 L47.90 86.39 L48.40 86.38 L48.90 86.37 L49.40 86.36 L49.90 86.35 L50.40 86.34 L50.90 86.33 L51.40 86.31 L51.90 86.30 L52.40 86.29 L52.90 86.27 L53.40 86.25 L53.90 86.24 L54.40 86.22 L54.90 86.20 L55.40 86.18 L55.90 86.16 L56.40 86.14 L56.90 86.12 L57.40 86.10 L57.90 86.07 L58.40 86.05 L58.90 86.03 L59.40 86.00 L59.90 85.97 L60.40 85.94 L60.90 85.92 L61.40 85.89 L61.90 85.86 L62.40 85.82 L62.90 85.79 L63.40 85.76 L63.90 85.72 L64.40 85.69 L64.90 85.65 L65.40 85.61 L65.90 85.58 L66.40 85.54 L66.90 85.49 L67.40 85.45 L67.90 85.41 L68.40 85.37 L68.90 85.32 L69.40 85.28 L69.90 85.23 L70.40 85.18 L70.90 85.13 L71.40 85.08 L71.90 85.03 L72.40 84.98 L72.90 84.92 L73.40 84.87 L73.90 84.81 L74.40 84.75 L74.90 84.69 L75.40 84.63 L75.90 84.57 L76.40 84.51 L76.90 84.44 L77.40 84.38 L77.90 84.31 L78.40 84.24 L78.90 84.17 L79.40 84.10 L79.90 84.03 L80.40 83.96 L80.90 83.88 L81.40 83.81 L81.90 83.73 L82.40 83.65 L82.90 83.57 L83.40 83.49 L83.90 83.41 L84.40 83.32 L84.90 83.24 L85.40 83.15 L85.90 83.06 L86.40 82.97 L86.90 82.88 L87.40 82.79 L87.90 82.69 L88.40 82.59 L88.90 82.50 L89.40 82.40 L89.90 82.30 L90.40 82.19 L90.90 82.09 L91.40 81.98 L91.90 81.88 L92.40 81.77 L92.90 81.66 L93.40 81.55 L93.90 81.43 L94.40 81.32 L94.90 81.20 L95.40 81.08 L95.90 80.96 L96.40 80.84 L96.90 80.71 L97.40 80.59 L97.90 80.46 L98.40 80.33 L98.90 80.20 L99.40 80.07 L99.90 79.93 L100.40 79.80 L100.90 79.66 L101.40 79.52 L101.90 79.38 L102.40 79.24 L102.90 79.09 L103.40 78.94 L103.90 78.79 L104.40 78.64 L104.90 78.49 L105.40 78.34 L105.90 78.18 L106.40 78.02 L106.90 77.86 L107.40 77.70 L107.90 77.53 L108.40 77.37 L108.90 77.20 L109.40 77.03 L109.90 76.86 L110.40 76.68 L110.90 76.51 L111.40 76.33 L111.90 76.15 L112.40 75.97 L112.90 75.78 L113.40 75.60 L113.90 75.41 L114.40 75.22 L114.90 75.02 L115.40 74.83 L115.90 74.63 L116.40 74.43 L116.90 74.23 L117.40 74.03 L117.90 73.82 L118.40 73.62 L118.90 73.41 L119.40 73.19 L119.90 72.98 L120.40 72.76 L120.90 72.55 L121.40 72.32 L121.90 72.10 L122.40 71.88 L122.90 71.65 L123.40 71.42 L123.90 71.19 L124.40 70.95 L124.90 70.71 L125.40 70.47 L125.90 70.23 L126.40 69.99 L126.90 69.74 L127.40 69.49 L127.90 69.24 L128.40 68.99 L128.90 68.73 L129.40 68.47 L129.90 68.21 L130.40 67.95 L130.90 67.69 L131.40 67.42 L131.90 67.15 L132.40 66.87 L132.90 66.60 L133.40 66.32 L133.90 66.04 L134.40 65.76 L134.90 65.47 L135.40 65.18 L135.90 64.89 L136.40 64.60 L136.90 64.30 L137.40 64.00 L137.90 63.70 L138.40 63.40 L138.90 63.09 L139.40 62.78 L139.90 62.47 L140.40 62.16 L140.90 61.84 L141.40 61.54 L141.90 61.24 L142.40 60.95 L142.90 60.68 L143.40 60.43 L143.90 60.21 L144.40 60.02 L144.90 59.86 L145.40 59.75 L145.90 59.67 L146.40 59.64 L146.90 59.66 L147.40 59.74 L147.90 59.87 L148.40 60.07 L148.90 60.34 L149.40 60.67 L149.90 61.09 L150.40 61.58 L150.90 62.16 L151.40 62.83 L151.90 63.58 L152.40 64.41 L152.90 65.33 L153.40 66.33 L153.90 67.40 L154.40 68.54 L154.90 69.75 L155.40 71.02 L155.90 72.36 L156.40 73.75 L156.90 75.21 L157.40 76.71 L157.90 78.26 L158.40 79.86 L158.90 81.48 L159.40 83.13 L159.90 84.80 L160.40 86.47 L160.90 88.16 L161.40 89.84 L161.90 91.51 L162.40 93.16 L162.90 94.78 L163.40 96.38 L163.90 97.93 L164.40 99.44 L164.90 100.90 L165.40 102.30 L165.90 103.63 L166.40 104.88 L166.90 106.05 L167.40 107.12 L167.90 108.07 L168.40 108.90 L168.90 109.60 L169.40 110.14 L169.90 110.52 L170.40 110.73 L170.90 110.78 L171.40 110.67 L171.90 110.44 L172.40 110.09 L172.90 109.64 L173.40 109.11 L173.90 108.51 L174.40 107.87 L174.90 107.19 L175.40 106.46 L175.90 105.69 L176.40 104.89 L176.90 104.05 L177.40 103.18 L177.90 102.28 L178.40 101.35 L178.90 100.40 L179.40 99.42 L179.90 98.41 L180.40 97.38 L180.90 96.34 L181.40 95.27 L181.90 94.20 L182.40 93.10 L182.90 92.00 L183.40 90.89 L183.90 89.77 L184.40 88.65 L184.90 87.52 L185.40 86.40 L185.90 85.27 L186.40 84.15 L186.90 83.04 L187.40 81.94 L187.90 80.85 L188.40 79.77 L188.90 78.71 L189.40 77.66 L189.90 76.64 L190.40 75.64 L190.90 74.66 L191.40 73.71 L191.90 72.79 L192.40 71.90 L192.90 71.04 L193.40 70.22 L193.90 69.44 L194.40 68.70 L194.90 68.00 L195.40 67.35 L195.90 66.74 L196.40 66.18 L196.90 65.67 L197.40 65.20 L197.90 64.79 L198.40 64.42 L198.90 64.11 L199.40 63.85 L199.90 63.64 L200.40 63.49 L200.90 63.39 L201.40 63.35 L201.90 63.37 L202.40 63.44 L202.90 63.57 L203.40 63.76 L203.90 64.01 L204.40 64.32 L204.90 64.70 L205.40 65.13 L205.90 65.63 L206.40 66.19 L206.90 66.80 L207.40 67.47 L207.90 68.18 L208.40 68.95 L208.90 69.77 L209.40 70.62 L209.90 71.53 L210.40 72.47 L210.90 73.44 L211.40 74.45 L211.90 75.50 L212.40 76.57 L212.90 77.67 L213.40 78.80 L213.90 79.95 L214.40 81.11 L214.90 82.29 L215.40 83.47 L215.90 84.66 L216.40 85.85 L216.90 87.03 L217.40 88.20 L217.90 89.36 L218.40 90.51 L218.90 91.63 L219.40 92.72 L219.90 93.79 L220.40 94.82 L220.90 95.81 L221.40 96.75 L221.90 97.65 L222.40 98.50 L222.90 99.29 L223.40 100.02 L223.90 100.68 L224.40 101.28 L224.90 101.80 L225.40 102.24 L225.90 102.60 L226.40 102.86 L226.90 103.03 L227.40 103.09 L227.90 103.04 L228.40 102.88 L228.90 102.60 L229.40 102.19 L229.90 101.65 L230.40 100.97 L230.90 100.15 L231.40 99.18 L231.90 98.07 L232.40 96.83 L232.90 95.46 L233.40 93.99 L233.90 92.41 L234.40 90.73 L234.90 88.98 L235.40 87.15 L235.90 85.25 L236.40 83.31 L236.90 81.32 L237.40 79.30 L237.90 77.26 L238.40 75.23 L238.90 73.22 L239.40 71.26 L239.90 69.36 L240.40 67.54 L240.90 65.83 L241.40 64.25 L241.90 62.81 L242.40 61.53 L242.90 60.45 L243.40 59.56 L243.90 58.90 L244.40 58.49 L244.90 58.34 L245.40 58.48 L245.90 58.95 L246.40 59.78 L246.90 61.04 L247.40 62.74 L247.90 64.83 L248.40 67.16 L248.90 69.63 L249.40 72.13 L249.90 74.65 L250.40 77.21 L250.90 79.84 L251.40 82.59 L251.90 85.48 L252.40 88.55 L252.90 91.81 L253.40 95.30 L253.90 98.89 L254.40 102.41 L254.90 105.67 L255.40 108.52 L255.90 110.76 L256.40 112.23 L256.90 112.77 L257.40 112.50 L257.90 111.61 L258.40 110.29 L258.90 108.75 L259.40 107.04 L259.90 105.16 L260.40 103.13 L260.90 100.95 L261.40 98.62 L261.90 96.16 L262.40 93.56 L262.90 90.85 L263.40 88.01 L263.90 85.06 L264.40 82.01 L264.90 78.95 L265.40 75.98 L265.90 73.23 L266.40 70.79 L266.90 68.77 L267.40 67.16 L267.90 65.88 L268.40 64.86 L268.90 64.05 L269.40 63.37 L269.90 62.80 L270.40 62.34 L270.90 61.99 L271.40 61.73 L271.90 61.57 L272.40 61.49 L272.90 61.50 L273.40 61.58 L273.90 61.73 L274.40 61.95 L274.90 62.23 L275.40 62.57 L275.90 62.95 L276.40 63.38 L276.90 63.85 L277.40 64.36 L277.90 64.89 L278.40 65.45 L278.90 66.02 L279.40 66.61 L279.90 67.21 L280.40 67.81 L280.90 68.40 L281.40 68.99 L281.90 69.57 L282.40 70.14 L282.90 70.70 L283.40 71.25 L283.90 71.80 L284.40 72.33 L284.90 72.86 L285.40 73.37 L285.90 73.88 L286.40 74.38 L286.90 74.87 L287.40 75.36 L287.90 75.83 L288.40 76.30 L288.90 76.75 L289.40 77.20 L289.90 77.64 L290.40 78.08 L290.90 78.50 L291.40 78.92 L291.90 79.33 L292.40 79.73 L292.90 80.13 L293.40 80.51 L293.90 80.89 L294.40 81.26 L294.90 81.63 L295.40 81.98 L295.90 82.33 L296.40 82.68 L296.90 83.01 L297.40 83.34 L297.90 83.66 L298.40 83.97 L298.90 84.28 L299.40 84.58 L299.90 84.87 L300.40 85.16 L300.90 85.43 L301.40 85.71 L301.90 85.97 L302.40 86.23 L302.90 86.49 L303.40 86.73 L303.90 86.97 L304.40 87.21 L304.90 87.43 L305.40 87.65 L305.90 87.87 L306.40 88.08 L306.90 88.28 L307.40 88.48 L307.90 88.67 L308.40 88.86 L308.90 89.04 L309.40 89.21 L309.90 89.38 L310.40 89.54 L310.90 89.70 L311.40 89.86 L311.90 90.00 L312.40 90.14 L312.90 90.28 L313.40 90.41 L313.90 90.54 L314.40 90.66 L314.90 90.78 L315.40 90.89 L315.90 91.00 L316.40 91.10 L316.90 91.20 L317.40 91.29 L317.90 91.38 L318.40 91.46 L318.90 91.54 L319.40 91.62 L319.90 91.69 L320.40 91.75 L320.90 91.81 L321.40 91.87 L321.90 91.93 L322.40 91.98 L322.90 92.02 L323.40 92.06 L323.90 92.10 L324.40 92.14 L324.90 92.17 L325.40 92.20 L325.90 92.22 L326.40 92.24 L326.90 92.26 L327.40 92.27 L327.90 92.28 L328.40 92.29 L328.90 92.29 L329.40 92.29 L329.90 92.29 L330.40 92.28 L330.90 92.28 L331.40 92.27 L331.90 92.25 L332.40 92.23 L332.90 92.22 L333.40 92.19 L333.90 92.17 L334.40 92.14 L334.90 92.11 L335.40 92.08 L335.90 92.05 L336.40 92.01 L336.90 91.97 L337.40 91.93 L337.90 91.89 L338.40 91.85 L338.90 91.80 L339.40 91.75 L339.90 91.70 L340.40 91.65 L340.90 91.60 L341.40 91.54 L341.90 91.48 L342.40 91.43 L342.90 91.37 L343.40 91.31 L343.90 91.24 L344.40 91.18 L344.90 91.12 L345.40 91.05 L345.90 90.98 L346.40 90.92 L346.90 90.85 L347.40 90.78 L347.90 90.71 L348.40 90.64 L348.90 90.57 L349.40 90.50 L349.90 90.42 L350.40 90.35 L350.90 90.28 L351.40 90.20 L351.90 90.13 L352.40 90.06 L352.90 89.98 L353.40 89.91 L353.90 89.83 L354.40 89.76 L354.90 89.69 L355.40 89.61 L355.90 89.54 L356.40 89.47 L356.90 89.39 L357.40 89.32 L357.90 89.25 L358.40 89.18 L358.90 89.11 L359.40 89.04 L359.90 88.97 L360.40 88.90 L360.90 88.83 L361.40 88.76 L361.90 88.70 L362.40 88.63 L362.90 88.57 L363.40 88.51 L363.90 88.45 L364.40 88.39 L364.90 88.33 L365.40 88.27 L365.90 88.22 L366.40 88.16 L366.90 88.11 L367.40 88.06 L367.90 88.01 L368.40 87.96 L368.90 87.92 L369.40 87.88 L369.90 87.83 L370.40 87.80 L370.90 87.76 L371.40 87.72 L371.90 87.69 L372.40 87.66 L372.90 87.63 L373.40 87.61 L373.90 87.59 L374.40 87.57 L374.90 87.55 L375.40 87.53 L375.90 87.52 L376.40 87.51 L376.90 87.51 L377.40 87.50 L377.90 87.50 L378.40 87.51 L378.90 87.51 L379.40 87.52 L379.90 87.54 L380.40 87.55 L380.90 87.57 L381.40 87.59 L381.90 87.62 L382.40 87.65 L382.90 87.68 L383.40 87.72 L383.90 87.76 L384.40 87.81 L384.90 87.86 L385.40 87.91 L385.90 87.97 L386.40 88.03 L386.90 88.09 L387.40 88.16 L387.90 88.24 L388.40 88.31 L388.90 88.40 L389.40 88.48" fill="none" stroke="#000" stroke-width="2.50" stroke-linejoin="round" stroke-linecap="butt"/>
<path d="M22.00 755.50 L23.00 755.50 L28.13 755.50 L33.26 755.50 L38.39 755.49 L43.52 755.49 L48.65 755.49 L53.78 755.48 L58.91 755.48 L64.04 755.47 L69.17 755.45 L74.30 755.43 L79.43 755.40 L84.56 755.36 L89.69 755.30 L94.82 755.22 L99.95 755.11 L105.08 754.95 L110.21 754.72 L115.34 754.41 L120.47 753.98 L125.60 753.39 L130.73 752.58 L135.86 751.50 L140.99 750.06 L146.12 748.17 L151.25 745.73 L156.38 742.67 L161.51 738.91 L166.64 734.44 L171.77 729.32 L176.90 723.73 L182.03 717.95 L187.16 712.40 L192.29 707.57 L197.42 703.96 L202.55 701.98 L207.68 701.85 L212.81 703.42 L217.94 706.48 L223.07 710.71 L228.20 715.73 L233.33 721.10 L238.46 726.47 L243.59 731.54 L248.72 736.11 L253.85 740.09 L258.98 743.43 L264.11 746.18 L269.24 748.39 L274.37 750.13 L279.50 751.47 L284.63 752.50 L289.76 753.29 L294.89 753.87 L300.02 754.31 L305.15 754.63 L310.28 754.87 L315.41 755.04 L320.54 755.17 L325.67 755.26 L330.80 755.33 L335.93 755.37 L341.06 755.41 L346.19 755.44 L351.32 755.45 L356.45 755.47 L361.58 755.48 L366.71 755.48 L371.84 755.49 L376.97 755.49 L379.00 755.49" fill="none" stroke="#000" stroke-width="1.20" stroke-linejoin="round"/>
<path d="M22.00 755.50 L23.00 755.50 L28.13 755.50 L33.26 755.50 L38.39 755.50 L43.52 755.50 L48.65 755.50 L53.78 755.50 L58.91 755.50 L64.04 755.50 L69.17 755.50 L74.30 755.50 L79.43 755.50 L84.56 755.50 L89.69 755.50 L94.82 755.50 L99.95 755.50 L105.08 755.50 L110.21 755.50 L115.34 755.50 L120.47 755.50 L125.60 755.50 L130.73 755.50 L135.86 755.50 L140.99 755.50 L146.12 755.50 L151.25 755.50 L156.38 755.50 L161.51 755.49 L166.64 755.49 L171.77 755.48 L176.90 755.46 L182.03 755.42 L187.16 755.35 L192.29 755.21 L197.42 754.95 L202.55 754.45 L207.68 753.53 L212.81 751.85 L217.94 748.85 L223.07 743.77 L228.20 735.88 L233.33 725.22 L238.46 713.92 L243.59 706.44 L248.72 706.75 L253.85 714.27 L258.98 725.15 L264.11 735.44 L269.24 743.21 L274.37 748.34 L279.50 751.46 L284.63 753.26 L289.76 754.28 L294.89 754.84 L300.02 755.14 L305.15 755.31 L310.28 755.40 L315.41 755.44 L320.54 755.47 L325.67 755.48 L330.80 755.49 L335.93 755.50 L341.06 755.50 L346.19 755.50 L351.32 755.50 L356.45 755.50 L361.58 755.50 L366.71 755.50 L371.84 755.50 L376.97 755.50 L379.00 755.50" fill="none" stroke="#000" stroke-width="1.20" stroke-linejoin="round"/>
<path d="M22.00 755.50 L23.00 755.50 L28.13 755.50 L33.26 755.50 L38.39 755.50 L43.52 755.50 L48.65 755.50 L53.78 755.50 L58.91 755.50 L64.04 755.50 L69.17 755.50 L74.30 755.50 L79.43 755.50 L84.56 755.50 L89.69 755.50 L94.82 755.50 L99.95 755.50 L105.08 755.50 L110.21 755.50 L115.34 755.50 L120.47 755.50 L125.60 755.50 L130.73 755.50 L135.86 755.50 L140.99 755.50 L146.12 755.50 L151.25 755.50 L156.38 755.50 L161.51 755.50 L166.64 755.50 L171.77 755.50 L176.90 755.50 L182.03 755.50 L187.16 755.50 L192.29 755.50 L197.42 755.50 L202.55 755.50 L207.68 755.50 L212.81 755.50 L217.94 755.50 L223.07 755.50 L228.20 755.50 L233.33 755.50 L238.46 755.50 L243.59 755.50 L248.72 755.50 L253.85 755.50 L258.98 755.50 L264.11 755.50 L269.24 755.50 L274.37 755.50 L279.50 755.50 L284.63 755.50 L289.76 755.50 L294.89 755.50 L300.02 755.50 L305.15 755.50 L310.28 755.50 L315.41 755.50 L320.54 755.50 L325.67 755.50 L330.80 755.50 L335.93 755.50 L341.06 755.50 L346.19 755.50 L351.32 755.50 L356.45 755.50 L361.58 755.50 L366.71 755.50 L371.84 755.50 L376.97 755.50 L379.00 755.50" fill="none" stroke="#000" stroke-width="1.20" stroke-linejoin="round"/>
<path d="M22.00 755.50 L23.00 755.50 L28.13 755.50 L33.26 755.50 L38.39 755.49 L43.52 755.49 L48.65 755.49 L53.78 755.48 L58.91 755.48 L64.04 755.47 L69.17 755.45 L74.30 755.43 L79.43 755.40 L84.56 755.36 L89.69 755.30 L94.82 755.22 L99.95 755.11 L105.08 754.95 L110.21 754.72 L115.34 754.41 L120.47 753.98 L125.60 753.39 L130.73 752.58 L135.86 751.50 L140.99 750.06 L146.12 748.17 L151.25 745.73 L156.38 742.66 L161.51 738.90 L166.64 734.42 L171.77 729.30 L176.90 723.68 L182.03 717.87 L187.16 712.25 L192.29 707.28 L197.42 703.41 L202.55 700.93 L207.68 699.88 L212.81 699.76 L217.94 699.82 L223.07 698.98 L228.20 696.10 L233.33 690.83 L238.46 684.89 L243.59 682.48 L248.72 687.36 L253.85 698.85 L258.98 713.09 L264.11 726.12 L269.24 736.10 L274.37 742.97 L279.50 747.43 L284.63 750.27 L289.76 752.06 L294.89 753.21 L300.02 753.95 L305.15 754.44 L310.28 754.76 L315.41 754.98 L320.54 755.14 L325.67 755.24 L330.80 755.32 L335.93 755.37 L341.06 755.41 L346.19 755.43 L351.32 755.45 L356.45 755.47 L361.58 755.48 L366.71 755.48 L371.84 755.49 L376.97 755.49 L379.00 755.49" fill="none" stroke="#000" stroke-width="2.50" stroke-dasharray="3.8 1.1" stroke-linejoin="round"/>
<circle cx="23.00" cy="755.30" r="1.95" fill="#fff" stroke="#000" stroke-width="1.20"/>
<circle cx="28.13" cy="755.29" r="1.95" fill="#fff" stroke="#000" stroke-width="1.20"/>
<circle cx="33.26" cy="755.29" r="1.95" fill="#fff" stroke="#000" stroke-width="1.20"/>
<circle cx="38.39" cy="755.28" r="1.95" fill="#fff" stroke="#000" stroke-width="1.20"/>
<circle cx="43.52" cy="755.27" r="1.95" fill="#fff" stroke="#000" stroke-width="1.20"/>
<circle cx="48.65" cy="755.27" r="1.95" fill="#fff" stroke="#000" stroke-width="1.20"/>
<circle cx="53.78" cy="755.26" r="1.95" fill="#fff" stroke="#000" stroke-width="1.20"/>
<circle cx="58.91" cy="755.25" r="1.95" fill="#fff" stroke="#000" stroke-width="1.20"/>
<circle cx="64.04" cy="755.25" r="1.95" fill="#fff" stroke="#000" stroke-width="1.20"/>
<circle cx="69.17" cy="755.24" r="1.95" fill="#fff" stroke="#000" stroke-width="1.20"/>
<circle cx="74.30" cy="755.23" r="1.95" fill="#fff" stroke="#000" stroke-width="1.20"/>
<circle cx="79.43" cy="755.23" r="1.95" fill="#fff" stroke="#000" stroke-width="1.20"/>
<circle cx="84.56" cy="755.22" r="1.95" fill="#fff" stroke="#000" stroke-width="1.20"/>
<circle cx="89.69" cy="755.21" r="1.95" fill="#fff" stroke="#000" stroke-width="1.20"/>
<circle cx="94.82" cy="755.21" r="1.95" fill="#fff" stroke="#000" stroke-width="1.20"/>
<circle cx="99.95" cy="755.20" r="1.95" fill="#fff" stroke="#000" stroke-width="1.20"/>
<circle cx="105.08" cy="754.90" r="1.95" fill="#fff" stroke="#000" stroke-width="1.20"/>
<circle cx="110.21" cy="754.60" r="1.95" fill="#fff" stroke="#000" stroke-width="1.20"/>
<circle cx="115.34" cy="754.45" r="1.95" fill="#fff" stroke="#000" stroke-width="1.20"/>
<circle cx="120.47" cy="754.15" r="1.95" fill="#fff" stroke="#000" stroke-width="1.20"/>
<circle cx="125.60" cy="753.70" r="1.95" fill="#fff" stroke="#000" stroke-width="1.20"/>
<circle cx="130.73" cy="753.10" r="1.95" fill="#fff" stroke="#000" stroke-width="1.20"/>
<circle cx="135.86" cy="752.65" r="1.95" fill="#fff" stroke="#000" stroke-width="1.20"/>
<circle cx="140.99" cy="751.90" r="1.95" fill="#fff" stroke="#000" stroke-width="1.20"/>
<circle cx="146.12" cy="750.70" r="1.95" fill="#fff" stroke="#000" stroke-width="1.20"/>
<circle cx="151.25" cy="748.30" r="1.95" fill="#fff" stroke="#000" stroke-width="1.20"/>
<circle cx="156.38" cy="744.70" r="1.95" fill="#fff" stroke="#000" stroke-width="1.20"/>
<circle cx="161.51" cy="738.25" r="1.95" fill="#fff" stroke="#000" stroke-width="1.20"/>
<circle cx="166.64" cy="730.75" r="1.95" fill="#fff" stroke="#000" stroke-width="1.20"/>
<circle cx="171.77" cy="724.75" r="1.95" fill="#fff" stroke="#000" stroke-width="1.20"/>
<circle cx="176.90" cy="720.00" r="1.95" fill="#fff" stroke="#000" stroke-width="1.20"/>
<circle cx="182.03" cy="716.50" r="1.95" fill="#fff" stroke="#000" stroke-width="1.20"/>
<circle cx="187.16" cy="713.50" r="1.95" fill="#fff" stroke="#000" stroke-width="1.20"/>
<circle cx="192.29" cy="710.20" r="1.95" fill="#fff" stroke="#000" stroke-width="1.20"/>
<circle cx="197.42" cy="707.00" r="1.95" fill="#fff" stroke="#000" stroke-width="1.20"/>
<circle cx="202.55" cy="704.40" r="1.95" fill="#fff" stroke="#000" stroke-width="1.20"/>
<circle cx="207.68" cy="701.90" r="1.95" fill="#fff" stroke="#000" stroke-width="1.20"/>
<circle cx="212.81" cy="699.40" r="1.95" fill="#fff" stroke="#000" stroke-width="1.20"/>
<circle cx="217.94" cy="697.30" r="1.95" fill="#fff" stroke="#000" stroke-width="1.20"/>
<circle cx="223.07" cy="695.20" r="1.95" fill="#fff" stroke="#000" stroke-width="1.20"/>
<circle cx="228.20" cy="692.80" r="1.95" fill="#fff" stroke="#000" stroke-width="1.20"/>
<circle cx="233.33" cy="690.70" r="1.95" fill="#fff" stroke="#000" stroke-width="1.20"/>
<circle cx="238.46" cy="688.30" r="1.95" fill="#fff" stroke="#000" stroke-width="1.20"/>
<circle cx="243.59" cy="686.20" r="1.95" fill="#fff" stroke="#000" stroke-width="1.20"/>
<circle cx="248.72" cy="685.30" r="1.95" fill="#fff" stroke="#000" stroke-width="1.20"/>
<circle cx="253.85" cy="691.45" r="1.95" fill="#fff" stroke="#000" stroke-width="1.20"/>
<circle cx="258.98" cy="709.30" r="1.95" fill="#fff" stroke="#000" stroke-width="1.20"/>
<circle cx="264.11" cy="727.00" r="1.95" fill="#fff" stroke="#000" stroke-width="1.20"/>
<circle cx="269.24" cy="738.25" r="1.95" fill="#fff" stroke="#000" stroke-width="1.20"/>
<circle cx="274.37" cy="744.25" r="1.95" fill="#fff" stroke="#000" stroke-width="1.20"/>
<circle cx="279.50" cy="748.00" r="1.95" fill="#fff" stroke="#000" stroke-width="1.20"/>
<circle cx="284.63" cy="750.25" r="1.95" fill="#fff" stroke="#000" stroke-width="1.20"/>
<circle cx="289.76" cy="751.45" r="1.95" fill="#fff" stroke="#000" stroke-width="1.20"/>
<circle cx="294.89" cy="752.20" r="1.95" fill="#fff" stroke="#000" stroke-width="1.20"/>
<circle cx="300.02" cy="752.50" r="1.95" fill="#fff" stroke="#000" stroke-width="1.20"/>
<circle cx="305.15" cy="752.80" r="1.95" fill="#fff" stroke="#000" stroke-width="1.20"/>
<circle cx="310.28" cy="752.94" r="1.95" fill="#fff" stroke="#000" stroke-width="1.20"/>
<circle cx="315.41" cy="753.07" r="1.95" fill="#fff" stroke="#000" stroke-width="1.20"/>
<circle cx="320.54" cy="753.21" r="1.95" fill="#fff" stroke="#000" stroke-width="1.20"/>
<circle cx="325.67" cy="753.34" r="1.95" fill="#fff" stroke="#000" stroke-width="1.20"/>
<circle cx="330.80" cy="753.48" r="1.95" fill="#fff" stroke="#000" stroke-width="1.20"/>
<circle cx="335.93" cy="753.61" r="1.95" fill="#fff" stroke="#000" stroke-width="1.20"/>
<circle cx="341.06" cy="753.75" r="1.95" fill="#fff" stroke="#000" stroke-width="1.20"/>
<circle cx="346.19" cy="753.89" r="1.95" fill="#fff" stroke="#000" stroke-width="1.20"/>
<circle cx="351.32" cy="754.02" r="1.95" fill="#fff" stroke="#000" stroke-width="1.20"/>
<circle cx="356.45" cy="754.16" r="1.95" fill="#fff" stroke="#000" stroke-width="1.20"/>
<circle cx="361.58" cy="754.29" r="1.95" fill="#fff" stroke="#000" stroke-width="1.20"/>
<circle cx="366.71" cy="754.43" r="1.95" fill="#fff" stroke="#000" stroke-width="1.20"/>
<circle cx="371.84" cy="754.56" r="1.95" fill="#fff" stroke="#000" stroke-width="1.20"/>
<circle cx="376.97" cy="754.70" r="1.95" fill="#fff" stroke="#000" stroke-width="1.20"/>
<path d="M22.00 510.01 L22.50 509.94 L23.00 509.87 L23.50 509.80 L24.00 509.73 L24.50 509.66 L25.00 509.60 L25.50 509.54 L26.00 509.48 L26.50 509.42 L27.00 509.37 L27.50 509.32 L28.00 509.26 L28.50 509.22 L29.00 509.17 L29.50 509.12 L30.00 509.08 L30.50 509.04 L31.00 509.00 L31.50 508.97 L32.00 508.93 L32.50 508.90 L33.00 508.86 L33.50 508.83 L34.00 508.81 L34.50 508.78 L35.00 508.75 L35.50 508.73 L36.00 508.71 L36.50 508.69 L37.00 508.67 L37.50 508.65 L38.00 508.64 L38.50 508.62 L39.00 508.61 L39.50 508.60 L40.00 508.58 L40.50 508.58 L41.00 508.57 L41.50 508.56 L42.00 508.56 L42.50 508.55 L43.00 508.55 L43.50 508.55 L44.00 508.54 L44.50 508.54 L45.00 508.55 L45.50 508.55 L46.00 508.55 L46.50 508.55 L47.00 508.56 L47.50 508.57 L48.00 508.57 L48.50 508.58 L49.00 508.59 L49.50 508.60 L50.00 508.61 L50.50 508.62 L51.00 508.63 L51.50 508.64 L52.00 508.65 L52.50 508.67 L53.00 508.68 L53.50 508.69 L54.00 508.71 L54.50 508.72 L55.00 508.74 L55.50 508.75 L56.00 508.77 L56.50 508.79 L57.00 508.80 L57.50 508.82 L58.00 508.84 L58.50 508.86 L59.00 508.87 L59.50 508.89 L60.00 508.91 L60.50 508.93 L61.00 508.95 L61.50 508.97 L62.00 508.98 L62.50 509.00 L63.00 509.02 L63.50 509.04 L64.00 509.06 L64.50 509.07 L65.00 509.09 L65.50 509.11 L66.00 509.13 L66.50 509.15 L67.00 509.16 L67.50 509.18 L68.00 509.20 L68.50 509.21 L69.00 509.23 L69.50 509.24 L70.00 509.26 L70.50 509.27 L71.00 509.28 L71.50 509.30 L72.00 509.31 L72.50 509.32 L73.00 509.33 L73.50 509.34 L74.00 509.35 L74.50 509.36 L75.00 509.37 L75.50 509.38 L76.00 509.39 L76.50 509.39 L77.00 509.40 L77.50 509.40 L78.00 509.40 L78.50 509.41 L79.00 509.41 L79.50 509.41 L80.00 509.41 L80.50 509.41 L81.00 509.40 L81.50 509.40 L82.00 509.39 L82.50 509.39 L83.00 509.38 L83.50 509.37 L84.00 509.36 L84.50 509.35 L85.00 509.33 L85.50 509.32 L86.00 509.30 L86.50 509.29 L87.00 509.27 L87.50 509.25 L88.00 509.23 L88.50 509.20 L89.00 509.18 L89.50 509.15 L90.00 509.12 L90.50 509.09 L91.00 509.06 L91.50 509.03 L92.00 508.99 L92.50 508.96 L93.00 508.92 L93.50 508.88 L94.00 508.84 L94.50 508.79 L95.00 508.74 L95.50 508.70 L96.00 508.65 L96.50 508.59 L97.00 508.54 L97.50 508.48 L98.00 508.42 L98.50 508.36 L99.00 508.30 L99.50 508.24 L100.00 508.17 L100.50 508.10 L101.00 508.03 L101.50 507.95 L102.00 507.87 L102.50 507.80 L103.00 507.71 L103.50 507.63 L104.00 507.54 L104.50 507.45 L105.00 507.36 L105.50 507.27 L106.00 507.17 L106.50 507.07 L107.00 506.97 L107.50 506.87 L108.00 506.76 L108.50 506.65 L109.00 506.54 L109.50 506.42 L110.00 506.30 L110.50 506.18 L111.00 506.06 L111.50 505.93 L112.00 505.80 L112.50 505.66 L113.00 505.53 L113.50 505.39 L114.00 505.25 L114.50 505.10 L115.00 504.95 L115.50 504.80 L116.00 504.64 L116.50 504.49 L117.00 504.32 L117.50 504.16 L118.00 503.99 L118.50 503.82 L119.00 503.65 L119.50 503.47 L120.00 503.29 L120.50 503.10 L121.00 502.91 L121.50 502.72 L122.00 502.52 L122.50 502.32 L123.00 502.12 L123.50 501.91 L124.00 501.70 L124.50 501.49 L125.00 501.27 L125.50 501.05 L126.00 500.83 L126.50 500.60 L127.00 500.36 L127.50 500.13 L128.00 499.89 L128.50 499.64 L129.00 499.39 L129.50 499.14 L130.00 498.88 L130.50 498.62 L131.00 498.36 L131.50 498.09 L132.00 497.82 L132.50 497.55 L133.00 497.27 L133.50 497.00 L134.00 496.72 L134.50 496.44 L135.00 496.16 L135.50 495.89 L136.00 495.61 L136.50 495.34 L137.00 495.06 L137.50 494.79 L138.00 494.52 L138.50 494.26 L139.00 493.99 L139.50 493.73 L140.00 493.48 L140.50 493.23 L141.00 492.99 L141.50 492.75 L142.00 492.51 L142.50 492.29 L143.00 492.07 L143.50 491.86 L144.00 491.65 L144.50 491.46 L145.00 491.27 L145.50 491.09 L146.00 490.92 L146.50 490.76 L147.00 490.62 L147.50 490.48 L148.00 490.35 L148.50 490.24 L149.00 490.14 L149.50 490.05 L150.00 489.98 L150.50 489.95 L151.00 489.95 L151.50 490.00 L152.00 490.11 L152.50 490.28 L153.00 490.53 L153.50 490.86 L154.00 491.28 L154.50 491.80 L155.00 492.41 L155.50 493.12 L156.00 493.91 L156.50 494.79 L157.00 495.74 L157.50 496.77 L158.00 497.87 L158.50 499.03 L159.00 500.25 L159.50 501.53 L160.00 502.86 L160.50 504.24 L161.00 505.66 L161.50 507.11 L162.00 508.61 L162.50 510.12 L163.00 511.66 L163.50 513.21 L164.00 514.75 L164.50 516.28 L165.00 517.78 L165.50 519.25 L166.00 520.67 L166.50 522.04 L167.00 523.34 L167.50 524.56 L168.00 525.69 L168.50 526.72 L169.00 527.64 L169.50 528.44 L170.00 529.11 L170.50 529.64 L171.00 530.03 L171.50 530.29 L172.00 530.43 L172.50 530.45 L173.00 530.36 L173.50 530.17 L174.00 529.88 L174.50 529.50 L175.00 529.03 L175.50 528.48 L176.00 527.86 L176.50 527.17 L177.00 526.43 L177.50 525.63 L178.00 524.78 L178.50 523.90 L179.00 522.98 L179.50 522.03 L180.00 521.06 L180.50 520.07 L181.00 519.07 L181.50 518.06 L182.00 517.04 L182.50 516.01 L183.00 514.98 L183.50 513.94 L184.00 512.90 L184.50 511.86 L185.00 510.82 L185.50 509.79 L186.00 508.76 L186.50 507.74 L187.00 506.73 L187.50 505.73 L188.00 504.74 L188.50 503.77 L189.00 502.82 L189.50 501.88 L190.00 500.97 L190.50 500.08 L191.00 499.21 L191.50 498.38 L192.00 497.56 L192.50 496.79 L193.00 496.04 L193.50 495.33 L194.00 494.65 L194.50 494.01 L195.00 493.41 L195.50 492.86 L196.00 492.35 L196.50 491.88 L197.00 491.46 L197.50 491.09 L198.00 490.77 L198.50 490.50 L199.00 490.28 L199.50 490.11 L200.00 489.98 L200.50 489.91 L201.00 489.88 L201.50 489.90 L202.00 489.97 L202.50 490.09 L203.00 490.26 L203.50 490.47 L204.00 490.73 L204.50 491.04 L205.00 491.40 L205.50 491.80 L206.00 492.25 L206.50 492.74 L207.00 493.29 L207.50 493.87 L208.00 494.51 L208.50 495.19 L209.00 495.92 L209.50 496.69 L210.00 497.50 L210.50 498.37 L211.00 499.27 L211.50 500.21 L212.00 501.18 L212.50 502.18 L213.00 503.21 L213.50 504.25 L214.00 505.31 L214.50 506.38 L215.00 507.46 L215.50 508.54 L216.00 509.62 L216.50 510.70 L217.00 511.76 L217.50 512.81 L218.00 513.85 L218.50 514.86 L219.00 515.84 L219.50 516.79 L220.00 517.71 L220.50 518.59 L221.00 519.42 L221.50 520.21 L222.00 520.95 L222.50 521.62 L223.00 522.24 L223.50 522.79 L224.00 523.26 L224.50 523.65 L225.00 523.95 L225.50 524.16 L226.00 524.28 L226.50 524.28 L227.00 524.18 L227.50 523.95 L228.00 523.60 L228.50 523.13 L229.00 522.51 L229.50 521.76 L230.00 520.85 L230.50 519.79 L231.00 518.57 L231.50 517.19 L232.00 515.66 L232.50 514.01 L233.00 512.25 L233.50 510.40 L234.00 508.49 L234.50 506.55 L235.00 504.57 L235.50 502.60 L236.00 500.65 L236.50 498.73 L237.00 496.88 L237.50 495.11 L238.00 493.44 L238.50 491.90 L239.00 490.50 L239.50 489.26 L240.00 488.21 L240.50 487.37 L241.00 486.75 L241.50 486.38 L242.00 486.27 L242.50 486.46 L243.00 486.94 L243.50 487.70 L244.00 488.73 L244.50 490.02 L245.00 491.56 L245.50 493.33 L246.00 495.33 L246.50 497.54 L247.00 499.95 L247.50 502.56 L248.00 505.34 L248.50 508.28 L249.00 511.32 L249.50 514.42 L250.00 517.52 L250.50 520.54 L251.00 523.44 L251.50 526.16 L252.00 528.64 L252.50 530.81 L253.00 532.53 L253.50 533.67 L254.00 534.12 L254.50 533.89 L255.00 533.06 L255.50 531.70 L256.00 529.93 L256.50 527.90 L257.00 525.76 L257.50 523.62 L258.00 521.47 L258.50 519.27 L259.00 516.98 L259.50 514.56 L260.00 512.00 L260.50 509.35 L261.00 506.69 L261.50 504.12 L262.00 501.72 L262.50 499.55 L263.00 497.62 L263.50 495.91 L264.00 494.43 L264.50 493.15 L265.00 492.06 L265.50 491.15 L266.00 490.42 L266.50 489.85 L267.00 489.43 L267.50 489.14 L268.00 488.98 L268.50 488.94 L269.00 489.00 L269.50 489.15 L270.00 489.38 L270.50 489.69 L271.00 490.05 L271.50 490.47 L272.00 490.92 L272.50 491.39 L273.00 491.88 L273.50 492.37 L274.00 492.87 L274.50 493.36 L275.00 493.86 L275.50 494.36 L276.00 494.86 L276.50 495.36 L277.00 495.86 L277.50 496.36 L278.00 496.86 L278.50 497.35 L279.00 497.84 L279.50 498.33 L280.00 498.81 L280.50 499.29 L281.00 499.76 L281.50 500.23 L282.00 500.69 L282.50 501.14 L283.00 501.59 L283.50 502.03 L284.00 502.46 L284.50 502.88 L285.00 503.29 L285.50 503.70 L286.00 504.09 L286.50 504.47 L287.00 504.84 L287.50 505.19 L288.00 505.54 L288.50 505.87 L289.00 506.19 L289.50 506.49 L290.00 506.78 L290.50 507.06 L291.00 507.33 L291.50 507.59 L292.00 507.83 L292.50 508.06 L293.00 508.28 L293.50 508.49 L294.00 508.69 L294.50 508.88 L295.00 509.06 L295.50 509.23 L296.00 509.38 L296.50 509.53 L297.00 509.67 L297.50 509.80 L298.00 509.91 L298.50 510.02 L299.00 510.13 L299.50 510.22 L300.00 510.30 L300.50 510.38 L301.00 510.45 L301.50 510.51 L302.00 510.56 L302.50 510.61 L303.00 510.64 L303.50 510.68 L304.00 510.70 L304.50 510.72 L305.00 510.73 L305.50 510.74 L306.00 510.74 L306.50 510.73 L307.00 510.72 L307.50 510.71 L308.00 510.69 L308.50 510.66 L309.00 510.63 L309.50 510.60 L310.00 510.56 L310.50 510.52 L311.00 510.47 L311.50 510.42 L312.00 510.37 L312.50 510.31 L313.00 510.25 L313.50 510.19 L314.00 510.13 L314.50 510.06 L315.00 510.00 L315.50 509.93 L316.00 509.85 L316.50 509.78 L317.00 509.71 L317.50 509.63 L318.00 509.56 L318.50 509.48 L319.00 509.41 L319.50 509.33 L320.00 509.25 L320.50 509.17 L321.00 509.10 L321.50 509.02 L322.00 508.94 L322.50 508.86 L323.00 508.78 L323.50 508.70 L324.00 508.62 L324.50 508.54 L325.00 508.45 L325.50 508.37 L326.00 508.29 L326.50 508.21 L327.00 508.13 L327.50 508.05 L328.00 507.97 L328.50 507.88 L329.00 507.80 L329.50 507.72 L330.00 507.64 L330.50 507.56 L331.00 507.48 L331.50 507.40 L332.00 507.32 L332.50 507.24 L333.00 507.16 L333.50 507.08 L334.00 507.00 L334.50 506.92 L335.00 506.85 L335.50 506.77 L336.00 506.69 L336.50 506.62 L337.00 506.54 L337.50 506.47 L338.00 506.39 L338.50 506.32 L339.00 506.25 L339.50 506.18 L340.00 506.11 L340.50 506.04 L341.00 505.97 L341.50 505.90 L342.00 505.84 L342.50 505.77 L343.00 505.71 L343.50 505.64 L344.00 505.58 L344.50 505.52 L345.00 505.46 L345.50 505.40 L346.00 505.35 L346.50 505.29 L347.00 505.24 L347.50 505.18 L348.00 505.13 L348.50 505.08 L349.00 505.03 L349.50 504.99 L350.00 504.94 L350.50 504.90 L351.00 504.86 L351.50 504.82 L352.00 504.78 L352.50 504.74 L353.00 504.71 L353.50 504.67 L354.00 504.64 L354.50 504.61 L355.00 504.58 L355.50 504.56 L356.00 504.54 L356.50 504.52 L357.00 504.50 L357.50 504.48 L358.00 504.46 L358.50 504.45 L359.00 504.44 L359.50 504.43 L360.00 504.43 L360.50 504.42 L361.00 504.42 L361.50 504.42 L362.00 504.43 L362.50 504.43 L363.00 504.44 L363.50 504.45 L364.00 504.47 L364.50 504.49 L365.00 504.50 L365.50 504.53 L366.00 504.55 L366.50 504.58 L367.00 504.61 L367.50 504.64 L368.00 504.68 L368.50 504.72 L369.00 504.76 L369.50 504.80 L370.00 504.85 L370.50 504.90 L371.00 504.96 L371.50 505.02 L372.00 505.08 L372.50 505.14 L373.00 505.21 L373.50 505.28 L374.00 505.35 L374.50 505.43 L375.00 505.51 L375.50 505.59 L376.00 505.68 L376.50 505.77 L377.00 505.86 L377.50 505.96 L378.00 506.06 L378.50 506.17" fill="none" stroke="#000" stroke-width="2.50" stroke-linejoin="round" stroke-linecap="butt"/>
<path d="M413.50 372.81 L414.00 372.81 L414.50 372.80 L415.00 372.80 L415.50 372.80 L416.00 372.80 L416.50 372.80 L417.00 372.79 L417.50 372.79 L418.00 372.79 L418.50 372.79 L419.00 372.78 L419.50 372.78 L420.00 372.78 L420.50 372.78 L421.00 372.78 L421.50 372.77 L422.00 372.77 L422.50 372.77 L423.00 372.76 L423.50 372.76 L424.00 372.76 L424.50 372.76 L425.00 372.75 L425.50 372.75 L426.00 372.75 L426.50 372.74 L427.00 372.74 L427.50 372.74 L428.00 372.73 L428.50 372.73 L429.00 372.73 L429.50 372.72 L430.00 372.72 L430.50 372.72 L431.00 372.71 L431.50 372.71 L432.00 372.70 L432.50 372.70 L433.00 372.70 L433.50 372.69 L434.00 372.69 L434.50 372.68 L435.00 372.68 L435.50 372.67 L436.00 372.67 L436.50 372.67 L437.00 372.66 L437.50 372.66 L438.00 372.65 L438.50 372.65 L439.00 372.64 L439.50 372.64 L440.00 372.63 L440.50 372.62 L441.00 372.62 L441.50 372.61 L442.00 372.61 L442.50 372.60 L443.00 372.60 L443.50 372.59 L444.00 372.58 L444.50 372.58 L445.00 372.57 L445.50 372.56 L446.00 372.56 L446.50 372.55 L447.00 372.54 L447.50 372.54 L448.00 372.53 L448.50 372.52 L449.00 372.51 L449.50 372.50 L450.00 372.50 L450.50 372.49 L451.00 372.48 L451.50 372.47 L452.00 372.46 L452.50 372.45 L453.00 372.45 L453.50 372.44 L454.00 372.43 L454.50 372.42 L455.00 372.41 L455.50 372.40 L456.00 372.39 L456.50 372.38 L457.00 372.37 L457.50 372.36 L458.00 372.35 L458.50 372.33 L459.00 372.32 L459.50 372.31 L460.00 372.30 L460.50 372.29 L461.00 372.28 L461.50 372.26 L462.00 372.25 L462.50 372.24 L463.00 372.22 L463.50 372.21 L464.00 372.20 L464.50 372.18 L465.00 372.17 L465.50 372.16 L466.00 372.14 L466.50 372.13 L467.00 372.11 L467.50 372.09 L468.00 372.08 L468.50 372.06 L469.00 372.05 L469.50 372.03 L470.00 372.01 L470.50 371.99 L471.00 371.98 L471.50 371.96 L472.00 371.94 L472.50 371.92 L473.00 371.90 L473.50 371.88 L474.00 371.86 L474.50 371.84 L475.00 371.82 L475.50 371.80 L476.00 371.78 L476.50 371.76 L477.00 371.74 L477.50 371.71 L478.00 371.69 L478.50 371.67 L479.00 371.64 L479.50 371.62 L480.00 371.59 L480.50 371.57 L481.00 371.54 L481.50 371.52 L482.00 371.49 L482.50 371.46 L483.00 371.44 L483.50 371.41 L484.00 371.38 L484.50 371.35 L485.00 371.32 L485.50 371.29 L486.00 371.26 L486.50 371.23 L487.00 371.20 L487.50 371.16 L488.00 371.13 L488.50 371.10 L489.00 371.06 L489.50 371.03 L490.00 370.99 L490.50 370.96 L491.00 370.92 L491.50 370.88 L492.00 370.85 L492.50 370.81 L493.00 370.77 L493.50 370.73 L494.00 370.69 L494.50 370.65 L495.00 370.61 L495.50 370.56 L496.00 370.52 L496.50 370.48 L497.00 370.43 L497.50 370.39 L498.00 370.34 L498.50 370.29 L499.00 370.25 L499.50 370.20 L500.00 370.15 L500.50 370.10 L501.00 370.05 L501.50 370.00 L502.00 369.94 L502.50 369.89 L503.00 369.83 L503.50 369.78 L504.00 369.72 L504.50 369.67 L505.00 369.61 L505.50 369.55 L506.00 369.49 L506.50 369.43 L507.00 369.37 L507.50 369.31 L508.00 369.24 L508.50 369.18 L509.00 369.11 L509.50 369.05 L510.00 368.98 L510.50 368.91 L511.00 368.84 L511.50 368.77 L512.00 368.70 L512.50 368.63 L513.00 368.55 L513.50 368.48 L514.00 368.40 L514.50 368.33 L515.00 368.25 L515.50 368.17 L516.00 368.09 L516.50 368.01 L517.00 367.92 L517.50 367.84 L518.00 367.76 L518.50 367.67 L519.00 367.58 L519.50 367.49 L520.00 367.40 L520.50 367.31 L521.00 367.22 L521.50 367.13 L522.00 367.03 L522.50 366.94 L523.00 366.84 L523.50 366.74 L524.00 366.65 L524.50 366.54 L525.00 366.44 L525.50 366.34 L526.00 366.24 L526.50 366.13 L527.00 366.02 L527.50 365.92 L528.00 365.81 L528.50 365.70 L529.00 365.58 L529.50 365.47 L530.00 365.36 L530.50 365.24 L531.00 365.12 L531.50 365.01 L532.00 364.89 L532.50 364.76 L533.00 364.64 L533.50 364.52 L534.00 364.39 L534.50 364.27 L535.00 364.14 L535.50 364.01 L536.00 363.88 L536.50 363.75 L537.00 363.62 L537.50 363.49 L538.00 363.35 L538.50 363.22 L539.00 363.08 L539.50 362.94 L540.00 362.80 L540.50 362.66 L541.00 362.52 L541.50 362.38 L542.00 362.23 L542.50 362.09 L543.00 361.94 L543.50 361.79 L544.00 361.65 L544.50 361.50 L545.00 361.35 L545.50 361.20 L546.00 361.04 L546.50 360.89 L547.00 360.74 L547.50 360.58 L548.00 360.42 L548.50 360.27 L549.00 360.11 L549.50 359.95 L550.00 359.79 L550.50 359.63 L551.00 359.47 L551.50 359.31 L552.00 359.15 L552.50 358.98 L553.00 358.82 L553.50 358.65 L554.00 358.49 L554.50 358.32 L555.00 358.16 L555.50 357.99 L556.00 357.83 L556.50 357.66 L557.00 357.49 L557.50 357.32 L558.00 357.16 L558.50 356.99 L559.00 356.82 L559.50 356.65 L560.00 356.48 L560.50 356.32 L561.00 356.15 L561.50 355.98 L562.00 355.81 L562.50 355.64 L563.00 355.48 L563.50 355.31 L564.00 355.14 L564.50 354.97 L565.00 354.81 L565.50 354.64 L566.00 354.48 L566.50 354.31 L567.00 354.15 L567.50 353.99 L568.00 353.82 L568.50 353.66 L569.00 353.50 L569.50 353.34 L570.00 353.18 L570.50 353.02 L571.00 352.87 L571.50 352.71 L572.00 352.56 L572.50 352.40 L573.00 352.25 L573.50 352.10 L574.00 351.95 L574.50 351.81 L575.00 351.66 L575.50 351.51 L576.00 351.37 L576.50 351.23 L577.00 351.09 L577.50 350.96 L578.00 350.82 L578.50 350.69 L579.00 350.56 L579.50 350.43 L580.00 350.30 L580.50 350.17 L581.00 350.05 L581.50 349.93 L582.00 349.81 L582.50 349.70 L583.00 349.58 L583.50 349.47 L584.00 349.37 L584.50 349.26 L585.00 349.16 L585.50 349.06 L586.00 348.96 L586.50 348.87 L587.00 348.77 L587.50 348.68 L588.00 348.60 L588.50 348.52 L589.00 348.44 L589.50 348.36 L590.00 348.29 L590.50 348.21 L591.00 348.15 L591.50 348.08 L592.00 348.02 L592.50 347.96 L593.00 347.91 L593.50 347.86 L594.00 347.81 L594.50 347.77 L595.00 347.72 L595.50 347.69 L596.00 347.65 L596.50 347.62 L597.00 347.59 L597.50 347.57 L598.00 347.55 L598.50 347.53 L599.00 347.52 L599.50 347.51 L600.00 347.50 L600.50 347.50 L601.00 347.50 L601.50 347.50 L602.00 347.51 L602.50 347.53 L603.00 347.54 L603.50 347.57 L604.00 347.59 L604.50 347.62 L605.00 347.66 L605.50 347.70 L606.00 347.74 L606.50 347.79 L607.00 347.84 L607.50 347.90 L608.00 347.96 L608.50 348.02 L609.00 348.09 L609.50 348.16 L610.00 348.24 L610.50 348.32 L611.00 348.40 L611.50 348.49 L612.00 348.58 L612.50 348.67 L613.00 348.77 L613.50 348.87 L614.00 348.98 L614.50 349.09 L615.00 349.20 L615.50 349.32 L616.00 349.43 L616.50 349.56 L617.00 349.68 L617.50 349.81 L618.00 349.94 L618.50 350.08 L619.00 350.21 L619.50 350.35 L620.00 350.49 L620.50 350.64 L621.00 350.79 L621.50 350.94 L622.00 351.09 L622.50 351.24 L623.00 351.40 L623.50 351.56 L624.00 351.72 L624.50 351.88 L625.00 352.05 L625.50 352.22 L626.00 352.38 L626.50 352.56 L627.00 352.73 L627.50 352.90 L628.00 353.07 L628.50 353.25 L629.00 353.43 L629.50 353.61 L630.00 353.79 L630.50 353.97 L631.00 354.15 L631.50 354.33 L632.00 354.51 L632.50 354.70 L633.00 354.88 L633.50 355.07 L634.00 355.25 L634.50 355.44 L635.00 355.63 L635.50 355.81 L636.00 356.00 L636.50 356.19 L637.00 356.37 L637.50 356.56 L638.00 356.75 L638.50 356.93 L639.00 357.12 L639.50 357.31 L640.00 357.49 L640.50 357.68 L641.00 357.87 L641.50 358.05 L642.00 358.23 L642.50 358.42 L643.00 358.60 L643.50 358.79 L644.00 358.97 L644.50 359.15 L645.00 359.33 L645.50 359.51 L646.00 359.69 L646.50 359.87 L647.00 360.04 L647.50 360.22 L648.00 360.39 L648.50 360.57 L649.00 360.74 L649.50 360.91 L650.00 361.08 L650.50 361.25 L651.00 361.42 L651.50 361.58 L652.00 361.75 L652.50 361.91 L653.00 362.08 L653.50 362.24 L654.00 362.40 L654.50 362.56 L655.00 362.71 L655.50 362.87 L656.00 363.02 L656.50 363.18 L657.00 363.33 L657.50 363.48 L658.00 363.63 L658.50 363.77 L659.00 363.92 L659.50 364.06 L660.00 364.20 L660.50 364.34 L661.00 364.48 L661.50 364.62 L662.00 364.76 L662.50 364.89 L663.00 365.02 L663.50 365.16 L664.00 365.28 L664.50 365.41 L665.00 365.54 L665.50 365.66 L666.00 365.79 L666.50 365.91 L667.00 366.03 L667.50 366.15 L668.00 366.26 L668.50 366.38 L669.00 366.49 L669.50 366.61 L670.00 366.72 L670.50 366.83 L671.00 366.93 L671.50 367.04 L672.00 367.15 L672.50 367.25 L673.00 367.35 L673.50 367.45 L674.00 367.55 L674.50 367.65 L675.00 367.74 L675.50 367.84 L676.00 367.93 L676.50 368.02 L677.00 368.11 L677.50 368.20 L678.00 368.29 L678.50 368.37 L679.00 368.46 L679.50 368.54 L680.00 368.62 L680.50 368.70 L681.00 368.78 L681.50 368.86 L682.00 368.94 L682.50 369.01 L683.00 369.09 L683.50 369.16 L684.00 369.23 L684.50 369.30 L685.00 369.37 L685.50 369.44 L686.00 369.51 L686.50 369.58 L687.00 369.64 L687.50 369.70 L688.00 369.77 L688.50 369.83 L689.00 369.89 L689.50 369.95 L690.00 370.01 L690.50 370.06 L691.00 370.12 L691.50 370.17 L692.00 370.23 L692.50 370.28 L693.00 370.33 L693.50 370.39 L694.00 370.44 L694.50 370.49 L695.00 370.53 L695.50 370.58 L696.00 370.63 L696.50 370.68 L697.00 370.72 L697.50 370.76 L698.00 370.81 L698.50 370.85 L699.00 370.89 L699.50 370.93 L700.00 370.97 L700.50 371.01 L701.00 371.05 L701.50 371.09 L702.00 371.13 L702.50 371.16 L703.00 371.20 L703.50 371.24 L704.00 371.27 L704.50 371.30 L705.00 371.34 L705.50 371.37 L706.00 371.40 L706.50 371.43 L707.00 371.46 L707.50 371.49 L708.00 371.52 L708.50 371.55 L709.00 371.58 L709.50 371.61 L710.00 371.64 L710.50 371.66 L711.00 371.69 L711.50 371.71 L712.00 371.74 L712.50 371.76 L713.00 371.79 L713.50 371.81 L714.00 371.83 L714.50 371.86 L715.00 371.88 L715.50 371.90 L716.00 371.92 L716.50 371.94 L717.00 371.96 L717.50 371.98 L718.00 372.00 L718.50 372.02 L719.00 372.04 L719.50 372.06 L720.00 372.08 L720.50 372.10 L721.00 372.11 L721.50 372.13 L722.00 372.15 L722.50 372.16 L723.00 372.18 L723.50 372.19 L724.00 372.21 L724.50 372.22 L725.00 372.24 L725.50 372.25 L726.00 372.27 L726.50 372.28 L727.00 372.29 L727.50 372.31 L728.00 372.32 L728.50 372.33 L729.00 372.35 L729.50 372.36 L730.00 372.37 L730.50 372.38 L731.00 372.39 L731.50 372.40 L732.00 372.41 L732.50 372.42 L733.00 372.44 L733.50 372.45 L734.00 372.46 L734.50 372.46 L735.00 372.47 L735.50 372.48 L736.00 372.49 L736.50 372.50 L737.00 372.51 L737.50 372.52 L738.00 372.53 L738.50 372.54 L739.00 372.54 L739.50 372.55 L740.00 372.56 L740.50 372.57 L741.00 372.57 L741.50 372.58 L742.00 372.59 L742.50 372.60 L743.00 372.60 L743.50 372.61 L744.00 372.62 L744.50 372.62 L745.00 372.63 L745.50 372.63 L746.00 372.64 L746.50 372.65 L747.00 372.65 L747.50 372.66 L748.00 372.66 L748.50 372.67 L749.00 372.67 L749.50 372.68 L750.00 372.68 L750.50 372.69 L751.00 372.69 L751.50 372.70 L752.00 372.70 L752.50 372.71 L753.00 372.71 L753.50 372.71 L754.00 372.72 L754.50 372.72 L755.00 372.73 L755.50 372.73 L756.00 372.73 L756.50 372.74 L757.00 372.74 L757.50 372.74 L758.00 372.75 L758.50 372.75 L759.00 372.75 L759.50 372.76 L760.00 372.76 L760.50 372.76 L761.00 372.77 L761.50 372.77 L762.00 372.77 L762.50 372.78 L763.00 372.78 L763.50 372.78 L764.00 372.78 L764.50 372.79 L765.00 372.79 L765.50 372.79 L766.00 372.79 L766.50 372.80 L767.00 372.80 L767.50 372.80 L768.00 372.80 L768.50 372.81 L769.00 372.81 L769.50 372.81 L770.00 372.81 L770.50 372.81 L771.00 372.82 L771.50 372.82 L772.00 372.82 L772.50 372.82 L773.00 372.82 L773.50 372.82 L774.00 372.83 L774.50 372.83 L775.00 372.83 L775.50 372.83 L776.00 372.83 L776.50 372.83 L777.00 372.84 L777.50 372.84 L778.00 372.84 L778.50 372.84 L779.00 372.84 L779.50 372.84 L780.00 372.84 L780.50 372.85 L781.00 372.85 L781.50 372.85 L782.00 372.85 L782.50 372.85 L783.00 372.85 L783.50 372.85 L784.00 372.85 L784.50 372.85 L785.00 372.86 L785.50 372.86 L786.00 372.86 L786.50 372.86 L787.00 372.86 L787.50 372.86 L788.00 372.86 L788.50 372.86 L789.00 372.86 L789.50 372.86 L790.00 372.86 L790.50 372.87 L791.00 372.87 L791.50 372.87" fill="none" stroke="#000" stroke-width="1.20" stroke-linejoin="round"/>
<path d="M413.50 372.90 L414.00 372.90 L414.50 372.90 L415.00 372.90 L415.50 372.90 L416.00 372.90 L416.50 372.90 L417.00 372.90 L417.50 372.90 L418.00 372.90 L418.50 372.90 L419.00 372.90 L419.50 372.90 L420.00 372.90 L420.50 372.90 L421.00 372.90 L421.50 372.90 L422.00 372.90 L422.50 372.90 L423.00 372.90 L423.50 372.90 L424.00 372.90 L424.50 372.90 L425.00 372.90 L425.50 372.90 L426.00 372.90 L426.50 372.90 L427.00 372.90 L427.50 372.90 L428.00 372.90 L428.50 372.90 L429.00 372.90 L429.50 372.90 L430.00 372.90 L430.50 372.90 L431.00 372.90 L431.50 372.90 L432.00 372.90 L432.50 372.90 L433.00 372.90 L433.50 372.90 L434.00 372.90 L434.50 372.90 L435.00 372.90 L435.50 372.90 L436.00 372.90 L436.50 372.90 L437.00 372.90 L437.50 372.90 L438.00 372.90 L438.50 372.90 L439.00 372.90 L439.50 372.90 L440.00 372.90 L440.50 372.90 L441.00 372.90 L441.50 372.90 L442.00 372.90 L442.50 372.90 L443.00 372.90 L443.50 372.90 L444.00 372.90 L444.50 372.90 L445.00 372.90 L445.50 372.90 L446.00 372.90 L446.50 372.90 L447.00 372.90 L447.50 372.90 L448.00 372.90 L448.50 372.90 L449.00 372.90 L449.50 372.90 L450.00 372.90 L450.50 372.90 L451.00 372.90 L451.50 372.90 L452.00 372.90 L452.50 372.90 L453.00 372.90 L453.50 372.90 L454.00 372.90 L454.50 372.90 L455.00 372.90 L455.50 372.90 L456.00 372.90 L456.50 372.90 L457.00 372.90 L457.50 372.90 L458.00 372.90 L458.50 372.90 L459.00 372.90 L459.50 372.90 L460.00 372.90 L460.50 372.90 L461.00 372.90 L461.50 372.90 L462.00 372.90 L462.50 372.90 L463.00 372.90 L463.50 372.90 L464.00 372.90 L464.50 372.90 L465.00 372.90 L465.50 372.90 L466.00 372.90 L466.50 372.90 L467.00 372.90 L467.50 372.90 L468.00 372.90 L468.50 372.90 L469.00 372.90 L469.50 372.90 L470.00 372.90 L470.50 372.90 L471.00 372.90 L471.50 372.90 L472.00 372.90 L472.50 372.90 L473.00 372.90 L473.50 372.90 L474.00 372.90 L474.50 372.90 L475.00 372.90 L475.50 372.90 L476.00 372.90 L476.50 372.90 L477.00 372.90 L477.50 372.90 L478.00 372.90 L478.50 372.90 L479.00 372.90 L479.50 372.90 L480.00 372.90 L480.50 372.90 L481.00 372.90 L481.50 372.89 L482.00 372.89 L482.50 372.89 L483.00 372.89 L483.50 372.89 L484.00 372.89 L484.50 372.89 L485.00 372.89 L485.50 372.89 L486.00 372.89 L486.50 372.89 L487.00 372.89 L487.50 372.89 L488.00 372.89 L488.50 372.89 L489.00 372.89 L489.50 372.89 L490.00 372.89 L490.50 372.89 L491.00 372.89 L491.50 372.89 L492.00 372.89 L492.50 372.89 L493.00 372.89 L493.50 372.89 L494.00 372.88 L494.50 372.88 L495.00 372.88 L495.50 372.88 L496.00 372.88 L496.50 372.88 L497.00 372.88 L497.50 372.88 L498.00 372.88 L498.50 372.88 L499.00 372.88 L499.50 372.87 L500.00 372.87 L500.50 372.87 L501.00 372.87 L501.50 372.87 L502.00 372.87 L502.50 372.87 L503.00 372.87 L503.50 372.86 L504.00 372.86 L504.50 372.86 L505.00 372.86 L505.50 372.86 L506.00 372.86 L506.50 372.85 L507.00 372.85 L507.50 372.85 L508.00 372.85 L508.50 372.84 L509.00 372.84 L509.50 372.84 L510.00 372.84 L510.50 372.83 L511.00 372.83 L511.50 372.83 L512.00 372.82 L512.50 372.82 L513.00 372.82 L513.50 372.81 L514.00 372.81 L514.50 372.81 L515.00 372.80 L515.50 372.80 L516.00 372.79 L516.50 372.79 L517.00 372.78 L517.50 372.78 L518.00 372.77 L518.50 372.77 L519.00 372.76 L519.50 372.75 L520.00 372.75 L520.50 372.74 L521.00 372.73 L521.50 372.73 L522.00 372.72 L522.50 372.71 L523.00 372.70 L523.50 372.69 L524.00 372.68 L524.50 372.67 L525.00 372.66 L525.50 372.65 L526.00 372.64 L526.50 372.63 L527.00 372.62 L527.50 372.60 L528.00 372.59 L528.50 372.58 L529.00 372.56 L529.50 372.55 L530.00 372.53 L530.50 372.51 L531.00 372.50 L531.50 372.48 L532.00 372.46 L532.50 372.44 L533.00 372.42 L533.50 372.40 L534.00 372.38 L534.50 372.35 L535.00 372.33 L535.50 372.30 L536.00 372.27 L536.50 372.25 L537.00 372.22 L537.50 372.19 L538.00 372.15 L538.50 372.12 L539.00 372.09 L539.50 372.05 L540.00 372.01 L540.50 371.97 L541.00 371.93 L541.50 371.89 L542.00 371.84 L542.50 371.79 L543.00 371.74 L543.50 371.69 L544.00 371.64 L544.50 371.58 L545.00 371.52 L545.50 371.46 L546.00 371.39 L546.50 371.32 L547.00 371.25 L547.50 371.18 L548.00 371.10 L548.50 371.02 L549.00 370.94 L549.50 370.85 L550.00 370.76 L550.50 370.66 L551.00 370.56 L551.50 370.46 L552.00 370.35 L552.50 370.23 L553.00 370.11 L553.50 369.99 L554.00 369.86 L554.50 369.72 L555.00 369.58 L555.50 369.43 L556.00 369.28 L556.50 369.12 L557.00 368.95 L557.50 368.77 L558.00 368.59 L558.50 368.40 L559.00 368.20 L559.50 367.99 L560.00 367.77 L560.50 367.54 L561.00 367.30 L561.50 367.05 L562.00 366.79 L562.50 366.52 L563.00 366.24 L563.50 365.95 L564.00 365.64 L564.50 365.32 L565.00 364.98 L565.50 364.64 L566.00 364.27 L566.50 363.89 L567.00 363.50 L567.50 363.08 L568.00 362.65 L568.50 362.21 L569.00 361.74 L569.50 361.25 L570.00 360.74 L570.50 360.22 L571.00 359.67 L571.50 359.09 L572.00 358.49 L572.50 357.87 L573.00 357.22 L573.50 356.55 L574.00 355.85 L574.50 355.12 L575.00 354.36 L575.50 353.56 L576.00 352.74 L576.50 351.89 L577.00 351.00 L577.50 350.07 L578.00 349.11 L578.50 348.12 L579.00 347.08 L579.50 346.01 L580.00 344.89 L580.50 343.73 L581.00 342.53 L581.50 341.29 L582.00 340.00 L582.50 338.66 L583.00 337.27 L583.50 335.84 L584.00 334.35 L584.50 332.82 L585.00 331.23 L585.50 329.59 L586.00 327.89 L586.50 326.14 L587.00 324.34 L587.50 322.47 L588.00 320.55 L588.50 318.57 L589.00 316.54 L589.50 314.44 L590.00 312.29 L590.50 310.08 L591.00 307.80 L591.50 305.47 L592.00 303.08 L592.50 300.64 L593.00 298.13 L593.50 295.57 L594.00 292.96 L594.50 290.29 L595.00 287.57 L595.50 284.81 L596.00 281.99 L596.50 279.14 L597.00 276.24 L597.50 273.30 L598.00 270.33 L598.50 267.32 L599.00 264.29 L599.50 261.24 L600.00 258.18 L600.50 255.10 L601.00 252.01 L601.50 248.92 L602.00 245.84 L602.50 242.78 L603.00 239.73 L603.50 236.70 L604.00 233.71 L604.50 230.76 L605.00 227.86 L605.50 225.01 L606.00 222.23 L606.50 219.52 L607.00 216.89 L607.50 214.35 L608.00 211.90 L608.50 209.56 L609.00 207.32 L609.50 205.21 L610.00 203.22 L610.50 201.37 L611.00 199.65 L611.50 198.08 L612.00 196.66 L612.50 195.40 L613.00 194.29 L613.50 193.36 L614.00 192.59 L614.50 191.99 L615.00 191.57 L615.50 191.33 L616.00 191.26 L616.50 191.36 L617.00 191.62 L617.50 192.05 L618.00 192.64 L618.50 193.39 L619.00 194.29 L619.50 195.35 L620.00 196.56 L620.50 197.92 L621.00 199.41 L621.50 201.05 L622.00 202.81 L622.50 204.69 L623.00 206.70 L623.50 208.82 L624.00 211.04 L624.50 213.36 L625.00 215.78 L625.50 218.27 L626.00 220.85 L626.50 223.49 L627.00 226.20 L627.50 228.97 L628.00 231.78 L628.50 234.64 L629.00 237.53 L629.50 240.45 L630.00 243.40 L630.50 246.35 L631.00 249.32 L631.50 252.30 L632.00 255.27 L632.50 258.24 L633.00 261.20 L633.50 264.14 L634.00 267.06 L634.50 269.95 L635.00 272.82 L635.50 275.66 L636.00 278.46 L636.50 281.23 L637.00 283.95 L637.50 286.63 L638.00 289.27 L638.50 291.86 L639.00 294.40 L639.50 296.89 L640.00 299.33 L640.50 301.72 L641.00 304.05 L641.50 306.33 L642.00 308.56 L642.50 310.73 L643.00 312.85 L643.50 314.91 L644.00 316.92 L644.50 318.87 L645.00 320.77 L645.50 322.62 L646.00 324.41 L646.50 326.15 L647.00 327.84 L647.50 329.47 L648.00 331.06 L648.50 332.60 L649.00 334.08 L649.50 335.52 L650.00 336.92 L650.50 338.27 L651.00 339.57 L651.50 340.83 L652.00 342.04 L652.50 343.22 L653.00 344.35 L653.50 345.45 L654.00 346.51 L654.50 347.52 L655.00 348.51 L655.50 349.45 L656.00 350.37 L656.50 351.25 L657.00 352.10 L657.50 352.91 L658.00 353.70 L658.50 354.46 L659.00 355.19 L659.50 355.89 L660.00 356.56 L660.50 357.21 L661.00 357.84 L661.50 358.44 L662.00 359.02 L662.50 359.58 L663.00 360.11 L663.50 360.62 L664.00 361.12 L664.50 361.59 L665.00 362.05 L665.50 362.49 L666.00 362.91 L666.50 363.31 L667.00 363.70 L667.50 364.08 L668.00 364.44 L668.50 364.78 L669.00 365.11 L669.50 365.43 L670.00 365.73 L670.50 366.03 L671.00 366.31 L671.50 366.58 L672.00 366.83 L672.50 367.08 L673.00 367.32 L673.50 367.55 L674.00 367.77 L674.50 367.98 L675.00 368.18 L675.50 368.38 L676.00 368.56 L676.50 368.74 L677.00 368.91 L677.50 369.08 L678.00 369.23 L678.50 369.38 L679.00 369.53 L679.50 369.67 L680.00 369.80 L680.50 369.93 L681.00 370.05 L681.50 370.17 L682.00 370.28 L682.50 370.39 L683.00 370.49 L683.50 370.59 L684.00 370.69 L684.50 370.78 L685.00 370.87 L685.50 370.95 L686.00 371.03 L686.50 371.11 L687.00 371.18 L687.50 371.26 L688.00 371.32 L688.50 371.39 L689.00 371.45 L689.50 371.51 L690.00 371.57 L690.50 371.62 L691.00 371.68 L691.50 371.73 L692.00 371.78 L692.50 371.82 L693.00 371.87 L693.50 371.91 L694.00 371.95 L694.50 371.99 L695.00 372.03 L695.50 372.07 L696.00 372.10 L696.50 372.13 L697.00 372.17 L697.50 372.20 L698.00 372.22 L698.50 372.25 L699.00 372.28 L699.50 372.31 L700.00 372.33 L700.50 372.35 L701.00 372.38 L701.50 372.40 L702.00 372.42 L702.50 372.44 L703.00 372.46 L703.50 372.48 L704.00 372.49 L704.50 372.51 L705.00 372.53 L705.50 372.54 L706.00 372.56 L706.50 372.57 L707.00 372.59 L707.50 372.60 L708.00 372.61 L708.50 372.62 L709.00 372.63 L709.50 372.65 L710.00 372.66 L710.50 372.67 L711.00 372.68 L711.50 372.69 L712.00 372.69 L712.50 372.70 L713.00 372.71 L713.50 372.72 L714.00 372.73 L714.50 372.73 L715.00 372.74 L715.50 372.75 L716.00 372.75 L716.50 372.76 L717.00 372.77 L717.50 372.77 L718.00 372.78 L718.50 372.78 L719.00 372.79 L719.50 372.79 L720.00 372.80 L720.50 372.80 L721.00 372.80 L721.50 372.81 L722.00 372.81 L722.50 372.82 L723.00 372.82 L723.50 372.82 L724.00 372.83 L724.50 372.83 L725.00 372.83 L725.50 372.83 L726.00 372.84 L726.50 372.84 L727.00 372.84 L727.50 372.84 L728.00 372.85 L728.50 372.85 L729.00 372.85 L729.50 372.85 L730.00 372.86 L730.50 372.86 L731.00 372.86 L731.50 372.86 L732.00 372.86 L732.50 372.86 L733.00 372.87 L733.50 372.87 L734.00 372.87 L734.50 372.87 L735.00 372.87 L735.50 372.87 L736.00 372.87 L736.50 372.87 L737.00 372.88 L737.50 372.88 L738.00 372.88 L738.50 372.88 L739.00 372.88 L739.50 372.88 L740.00 372.88 L740.50 372.88 L741.00 372.88 L741.50 372.88 L742.00 372.88 L742.50 372.88 L743.00 372.89 L743.50 372.89 L744.00 372.89 L744.50 372.89 L745.00 372.89 L745.50 372.89 L746.00 372.89 L746.50 372.89 L747.00 372.89 L747.50 372.89 L748.00 372.89 L748.50 372.89 L749.00 372.89 L749.50 372.89 L750.00 372.89 L750.50 372.89 L751.00 372.89 L751.50 372.89 L752.00 372.89 L752.50 372.89 L753.00 372.89 L753.50 372.89 L754.00 372.89 L754.50 372.89 L755.00 372.89 L755.50 372.89 L756.00 372.90 L756.50 372.90 L757.00 372.90 L757.50 372.90 L758.00 372.90 L758.50 372.90 L759.00 372.90 L759.50 372.90 L760.00 372.90 L760.50 372.90 L761.00 372.90 L761.50 372.90 L762.00 372.90 L762.50 372.90 L763.00 372.90 L763.50 372.90 L764.00 372.90 L764.50 372.90 L765.00 372.90 L765.50 372.90 L766.00 372.90 L766.50 372.90 L767.00 372.90 L767.50 372.90 L768.00 372.90 L768.50 372.90 L769.00 372.90 L769.50 372.90 L770.00 372.90 L770.50 372.90 L771.00 372.90 L771.50 372.90 L772.00 372.90 L772.50 372.90 L773.00 372.90 L773.50 372.90 L774.00 372.90 L774.50 372.90 L775.00 372.90 L775.50 372.90 L776.00 372.90 L776.50 372.90 L777.00 372.90 L777.50 372.90 L778.00 372.90 L778.50 372.90 L779.00 372.90 L779.50 372.90 L780.00 372.90 L780.50 372.90 L781.00 372.90 L781.50 372.90 L782.00 372.90 L782.50 372.90 L783.00 372.90 L783.50 372.90 L784.00 372.90 L784.50 372.90 L785.00 372.90 L785.50 372.90 L786.00 372.90 L786.50 372.90 L787.00 372.90 L787.50 372.90 L788.00 372.90 L788.50 372.90 L789.00 372.90 L789.50 372.90 L790.00 372.90 L790.50 372.90 L791.00 372.90 L791.50 372.90" fill="none" stroke="#000" stroke-width="1.20" stroke-linejoin="round"/>
<path d="M413.50 372.50 L417.25 371.30 L426.73 370.99 L436.21 370.69 L445.69 370.38 L455.17 370.08 L464.65 369.77 L474.13 369.47 L483.61 369.16 L493.09 368.86 L502.57 368.55 L512.05 367.95 L521.53 366.75 L531.01 365.25 L540.49 363.00 L549.97 359.25 L559.45 352.50 L568.93 341.50 L578.41 322.50 L587.89 291.30 L597.37 246.80 L606.85 194.30 L616.33 165.10 L625.81 199.20 L635.29 262.20 L644.77 309.30 L654.25 337.70 L663.73 353.75 L673.21 362.00 L682.69 366.20 L692.17 368.30 L701.65 370.00 L711.13 370.70 L720.61 371.00 L730.09 371.30 L739.57 371.50 L749.05 371.46 L758.53 371.42 L768.01 371.38 L777.49 371.34 L786.97 371.30 L791.80 372.50" fill="none" stroke="#000" stroke-width="2.50" stroke-dasharray="3.8 1.1" stroke-linejoin="round"/>
<circle cx="417.25" cy="371.30" r="1.95" fill="#fff" stroke="#000" stroke-width="1.20"/>
<circle cx="426.73" cy="370.99" r="1.95" fill="#fff" stroke="#000" stroke-width="1.20"/>
<circle cx="436.21" cy="370.69" r="1.95" fill="#fff" stroke="#000" stroke-width="1.20"/>
<circle cx="445.69" cy="370.38" r="1.95" fill="#fff" stroke="#000" stroke-width="1.20"/>
<circle cx="455.17" cy="370.08" r="1.95" fill="#fff" stroke="#000" stroke-width="1.20"/>
<circle cx="464.65" cy="369.77" r="1.95" fill="#fff" stroke="#000" stroke-width="1.20"/>
<circle cx="474.13" cy="369.47" r="1.95" fill="#fff" stroke="#000" stroke-width="1.20"/>
<circle cx="483.61" cy="369.16" r="1.95" fill="#fff" stroke="#000" stroke-width="1.20"/>
<circle cx="493.09" cy="368.86" r="1.95" fill="#fff" stroke="#000" stroke-width="1.20"/>
<circle cx="502.57" cy="368.55" r="1.95" fill="#fff" stroke="#000" stroke-width="1.20"/>
<circle cx="512.05" cy="367.95" r="1.95" fill="#fff" stroke="#000" stroke-width="1.20"/>
<circle cx="521.53" cy="366.75" r="1.95" fill="#fff" stroke="#000" stroke-width="1.20"/>
<circle cx="531.01" cy="365.25" r="1.95" fill="#fff" stroke="#000" stroke-width="1.20"/>
<circle cx="540.49" cy="363.00" r="1.95" fill="#fff" stroke="#000" stroke-width="1.20"/>
<circle cx="549.97" cy="359.25" r="1.95" fill="#fff" stroke="#000" stroke-width="1.20"/>
<circle cx="559.45" cy="352.50" r="1.95" fill="#fff" stroke="#000" stroke-width="1.20"/>
<circle cx="568.93" cy="341.50" r="1.95" fill="#fff" stroke="#000" stroke-width="1.20"/>
<circle cx="578.41" cy="322.50" r="1.95" fill="#fff" stroke="#000" stroke-width="1.20"/>
<circle cx="587.89" cy="291.30" r="1.95" fill="#fff" stroke="#000" stroke-width="1.20"/>
<circle cx="597.37" cy="246.80" r="1.95" fill="#fff" stroke="#000" stroke-width="1.20"/>
<circle cx="606.85" cy="194.30" r="1.95" fill="#fff" stroke="#000" stroke-width="1.20"/>
<circle cx="616.33" cy="165.10" r="1.95" fill="#fff" stroke="#000" stroke-width="1.20"/>
<circle cx="625.81" cy="199.20" r="1.95" fill="#fff" stroke="#000" stroke-width="1.20"/>
<circle cx="635.29" cy="262.20" r="1.95" fill="#fff" stroke="#000" stroke-width="1.20"/>
<circle cx="644.77" cy="309.30" r="1.95" fill="#fff" stroke="#000" stroke-width="1.20"/>
<circle cx="654.25" cy="337.70" r="1.95" fill="#fff" stroke="#000" stroke-width="1.20"/>
<circle cx="663.73" cy="353.75" r="1.95" fill="#fff" stroke="#000" stroke-width="1.20"/>
<circle cx="673.21" cy="362.00" r="1.95" fill="#fff" stroke="#000" stroke-width="1.20"/>
<circle cx="682.69" cy="366.20" r="1.95" fill="#fff" stroke="#000" stroke-width="1.20"/>
<circle cx="692.17" cy="368.30" r="1.95" fill="#fff" stroke="#000" stroke-width="1.20"/>
<circle cx="701.65" cy="370.00" r="1.95" fill="#fff" stroke="#000" stroke-width="1.20"/>
<circle cx="711.13" cy="370.70" r="1.95" fill="#fff" stroke="#000" stroke-width="1.20"/>
<circle cx="720.61" cy="371.00" r="1.95" fill="#fff" stroke="#000" stroke-width="1.20"/>
<circle cx="730.09" cy="371.30" r="1.95" fill="#fff" stroke="#000" stroke-width="1.20"/>
<circle cx="739.57" cy="371.50" r="1.95" fill="#fff" stroke="#000" stroke-width="1.20"/>
<circle cx="749.05" cy="371.46" r="1.95" fill="#fff" stroke="#000" stroke-width="1.20"/>
<circle cx="758.53" cy="371.42" r="1.95" fill="#fff" stroke="#000" stroke-width="1.20"/>
<circle cx="768.01" cy="371.38" r="1.95" fill="#fff" stroke="#000" stroke-width="1.20"/>
<circle cx="777.49" cy="371.34" r="1.95" fill="#fff" stroke="#000" stroke-width="1.20"/>
<circle cx="786.97" cy="371.30" r="1.95" fill="#fff" stroke="#000" stroke-width="1.20"/>
<path d="M413.75 90.06 L414.25 90.05 L414.75 90.05 L415.25 90.04 L415.75 90.03 L416.25 90.03 L416.75 90.02 L417.25 90.02 L417.75 90.02 L418.25 90.02 L418.75 90.02 L419.25 90.02 L419.75 90.02 L420.25 90.02 L420.75 90.03 L421.25 90.03 L421.75 90.04 L422.25 90.04 L422.75 90.05 L423.25 90.06 L423.75 90.07 L424.25 90.08 L424.75 90.09 L425.25 90.10 L425.75 90.11 L426.25 90.12 L426.75 90.13 L427.25 90.15 L427.75 90.16 L428.25 90.17 L428.75 90.19 L429.25 90.20 L429.75 90.22 L430.25 90.24 L430.75 90.25 L431.25 90.27 L431.75 90.29 L432.25 90.31 L432.75 90.32 L433.25 90.34 L433.75 90.36 L434.25 90.38 L434.75 90.40 L435.25 90.42 L435.75 90.44 L436.25 90.46 L436.75 90.48 L437.25 90.50 L437.75 90.52 L438.25 90.54 L438.75 90.56 L439.25 90.58 L439.75 90.60 L440.25 90.62 L440.75 90.64 L441.25 90.66 L441.75 90.69 L442.25 90.71 L442.75 90.73 L443.25 90.75 L443.75 90.77 L444.25 90.79 L444.75 90.81 L445.25 90.83 L445.75 90.85 L446.25 90.87 L446.75 90.89 L447.25 90.91 L447.75 90.92 L448.25 90.94 L448.75 90.96 L449.25 90.98 L449.75 91.00 L450.25 91.01 L450.75 91.03 L451.25 91.04 L451.75 91.06 L452.25 91.07 L452.75 91.09 L453.25 91.10 L453.75 91.12 L454.25 91.13 L454.75 91.14 L455.25 91.15 L455.75 91.16 L456.25 91.17 L456.75 91.18 L457.25 91.19 L457.75 91.20 L458.25 91.21 L458.75 91.21 L459.25 91.22 L459.75 91.22 L460.25 91.23 L460.75 91.23 L461.25 91.23 L461.75 91.24 L462.25 91.24 L462.75 91.24 L463.25 91.23 L463.75 91.23 L464.25 91.23 L464.75 91.22 L465.25 91.22 L465.75 91.21 L466.25 91.20 L466.75 91.19 L467.25 91.18 L467.75 91.17 L468.25 91.16 L468.75 91.15 L469.25 91.13 L469.75 91.12 L470.25 91.10 L470.75 91.08 L471.25 91.06 L471.75 91.04 L472.25 91.02 L472.75 90.99 L473.25 90.97 L473.75 90.94 L474.25 90.91 L474.75 90.88 L475.25 90.85 L475.75 90.82 L476.25 90.78 L476.75 90.75 L477.25 90.71 L477.75 90.67 L478.25 90.63 L478.75 90.59 L479.25 90.54 L479.75 90.50 L480.25 90.45 L480.75 90.40 L481.25 90.35 L481.75 90.30 L482.25 90.24 L482.75 90.19 L483.25 90.13 L483.75 90.07 L484.25 90.00 L484.75 89.94 L485.25 89.88 L485.75 89.81 L486.25 89.74 L486.75 89.67 L487.25 89.59 L487.75 89.52 L488.25 89.44 L488.75 89.36 L489.25 89.28 L489.75 89.19 L490.25 89.11 L490.75 89.02 L491.25 88.93 L491.75 88.83 L492.25 88.74 L492.75 88.64 L493.25 88.54 L493.75 88.44 L494.25 88.33 L494.75 88.23 L495.25 88.12 L495.75 88.01 L496.25 87.89 L496.75 87.78 L497.25 87.66 L497.75 87.54 L498.25 87.41 L498.75 87.29 L499.25 87.16 L499.75 87.03 L500.25 86.89 L500.75 86.76 L501.25 86.62 L501.75 86.48 L502.25 86.33 L502.75 86.18 L503.25 86.03 L503.75 85.88 L504.25 85.73 L504.75 85.57 L505.25 85.41 L505.75 85.24 L506.25 85.08 L506.75 84.91 L507.25 84.74 L507.75 84.56 L508.25 84.39 L508.75 84.21 L509.25 84.03 L509.75 83.85 L510.25 83.66 L510.75 83.48 L511.25 83.29 L511.75 83.10 L512.25 82.92 L512.75 82.72 L513.25 82.53 L513.75 82.34 L514.25 82.15 L514.75 81.95 L515.25 81.76 L515.75 81.56 L516.25 81.36 L516.75 81.17 L517.25 80.97 L517.75 80.78 L518.25 80.58 L518.75 80.38 L519.25 80.19 L519.75 79.99 L520.25 79.79 L520.75 79.60 L521.25 79.40 L521.75 79.21 L522.25 79.02 L522.75 78.83 L523.25 78.63 L523.75 78.45 L524.25 78.26 L524.75 78.07 L525.25 77.89 L525.75 77.70 L526.25 77.52 L526.75 77.34 L527.25 77.16 L527.75 76.99 L528.25 76.81 L528.75 76.64 L529.25 76.47 L529.75 76.31 L530.25 76.14 L530.75 75.98 L531.25 75.82 L531.75 75.67 L532.25 75.52 L532.75 75.37 L533.25 75.22 L533.75 75.08 L534.25 74.94 L534.75 74.81 L535.25 74.67 L535.75 74.55 L536.25 74.42 L536.75 74.30 L537.25 74.19 L537.75 74.08 L538.25 73.97 L538.75 73.87 L539.25 73.77 L539.75 73.68 L540.25 73.59 L540.75 73.51 L541.25 73.43 L541.75 73.36 L542.25 73.29 L542.75 73.23 L543.25 73.17 L543.75 73.12 L544.25 73.08 L544.75 73.04 L545.25 73.01 L545.75 72.98 L546.25 72.96 L546.75 72.94 L547.25 72.94 L547.75 72.93 L548.25 72.94 L548.75 72.95 L549.25 72.97 L549.75 73.00 L550.25 73.03 L550.75 73.07 L551.25 73.11 L551.75 73.17 L552.25 73.23 L552.75 73.30 L553.25 73.38 L553.75 73.46 L554.25 73.55 L554.75 73.66 L555.25 73.76 L555.75 73.88 L556.25 74.01 L556.75 74.14 L557.25 74.28 L557.75 74.44 L558.25 74.60 L558.75 74.77 L559.25 74.95 L559.75 75.14 L560.25 75.33 L560.75 75.55 L561.25 75.77 L561.75 76.00 L562.25 76.24 L562.75 76.50 L563.25 76.77 L563.75 77.05 L564.25 77.34 L564.75 77.65 L565.25 77.97 L565.75 78.31 L566.25 78.66 L566.75 79.02 L567.25 79.40 L567.75 79.80 L568.25 80.21 L568.75 80.63 L569.25 81.08 L569.75 81.54 L570.25 82.02 L570.75 82.51 L571.25 83.02 L571.75 83.55 L572.25 84.10 L572.75 84.67 L573.25 85.26 L573.75 85.87 L574.25 86.49 L574.75 87.14 L575.25 87.81 L575.75 88.49 L576.25 89.19 L576.75 89.89 L577.25 90.60 L577.75 91.31 L578.25 92.00 L578.75 92.69 L579.25 93.35 L579.75 93.99 L580.25 94.60 L580.75 95.18 L581.25 95.72 L581.75 96.21 L582.25 96.65 L582.75 97.03 L583.25 97.36 L583.75 97.62 L584.25 97.80 L584.75 97.91 L585.25 97.94 L585.75 97.88 L586.25 97.74 L586.75 97.51 L587.25 97.20 L587.75 96.81 L588.25 96.35 L588.75 95.83 L589.25 95.23 L589.75 94.58 L590.25 93.87 L590.75 93.11 L591.25 92.30 L591.75 91.44 L592.25 90.54 L592.75 89.61 L593.25 88.64 L593.75 87.64 L594.25 86.62 L594.75 85.57 L595.25 84.51 L595.75 83.43 L596.25 82.34 L596.75 81.25 L597.25 80.15 L597.75 79.06 L598.25 77.97 L598.75 76.89 L599.25 75.82 L599.75 74.77 L600.25 73.74 L600.75 72.74 L601.25 71.76 L601.75 70.82 L602.25 69.91 L602.75 69.06 L603.25 68.26 L603.75 67.55 L604.25 66.93 L604.75 66.43 L605.25 66.06 L605.75 65.85 L606.25 65.80 L606.75 65.93 L607.25 66.26 L607.75 66.81 L608.25 67.60 L608.75 68.64 L609.25 69.92 L609.75 71.40 L610.25 73.05 L610.75 74.82 L611.25 76.69 L611.75 78.61 L612.25 80.54 L612.75 82.44 L613.25 84.28 L613.75 86.01 L614.25 87.60 L614.75 89.02 L615.25 90.28 L615.75 91.39 L616.25 92.34 L616.75 93.15 L617.25 93.82 L617.75 94.35 L618.25 94.74 L618.75 95.01 L619.25 95.15 L619.75 95.18 L620.25 95.09 L620.75 94.90 L621.25 94.62 L621.75 94.24 L622.25 93.77 L622.75 93.23 L623.25 92.61 L623.75 91.93 L624.25 91.18 L624.75 90.38 L625.25 89.54 L625.75 88.65 L626.25 87.72 L626.75 86.76 L627.25 85.78 L627.75 84.79 L628.25 83.78 L628.75 82.76 L629.25 81.75 L629.75 80.74 L630.25 79.74 L630.75 78.76 L631.25 77.81 L631.75 76.89 L632.25 76.02 L632.75 75.21 L633.25 74.49 L633.75 73.86 L634.25 73.34 L634.75 72.95 L635.25 72.70 L635.75 72.60 L636.25 72.66 L636.75 72.86 L637.25 73.16 L637.75 73.55 L638.25 74.02 L638.75 74.53 L639.25 75.07 L639.75 75.61 L640.25 76.14 L640.75 76.65 L641.25 77.13 L641.75 77.58 L642.25 78.01 L642.75 78.42 L643.25 78.81 L643.75 79.17 L644.25 79.51 L644.75 79.82 L645.25 80.12 L645.75 80.40 L646.25 80.65 L646.75 80.89 L647.25 81.11 L647.75 81.31 L648.25 81.49 L648.75 81.66 L649.25 81.80 L649.75 81.94 L650.25 82.05 L650.75 82.15 L651.25 82.24 L651.75 82.31 L652.25 82.37 L652.75 82.41 L653.25 82.45 L653.75 82.47 L654.25 82.48 L654.75 82.47 L655.25 82.46 L655.75 82.44 L656.25 82.41 L656.75 82.36 L657.25 82.31 L657.75 82.26 L658.25 82.19 L658.75 82.12 L659.25 82.04 L659.75 81.96 L660.25 81.87 L660.75 81.78 L661.25 81.68 L661.75 81.58 L662.25 81.47 L662.75 81.36 L663.25 81.25 L663.75 81.14 L664.25 81.03 L664.75 80.91 L665.25 80.80 L665.75 80.69 L666.25 80.58 L666.75 80.47 L667.25 80.36 L667.75 80.25 L668.25 80.15 L668.75 80.05 L669.25 79.96 L669.75 79.87 L670.25 79.78 L670.75 79.70 L671.25 79.63 L671.75 79.56 L672.25 79.50 L672.75 79.45 L673.25 79.41 L673.75 79.37 L674.25 79.34 L674.75 79.31 L675.25 79.30 L675.75 79.29 L676.25 79.28 L676.75 79.28 L677.25 79.29 L677.75 79.30 L678.25 79.32 L678.75 79.34 L679.25 79.37 L679.75 79.41 L680.25 79.44 L680.75 79.49 L681.25 79.53 L681.75 79.58 L682.25 79.64 L682.75 79.70 L683.25 79.76 L683.75 79.83 L684.25 79.90 L684.75 79.97 L685.25 80.04 L685.75 80.12 L686.25 80.20 L686.75 80.29 L687.25 80.37 L687.75 80.46 L688.25 80.55 L688.75 80.64 L689.25 80.73 L689.75 80.82 L690.25 80.92 L690.75 81.01 L691.25 81.11 L691.75 81.20 L692.25 81.30 L692.75 81.40 L693.25 81.50 L693.75 81.59 L694.25 81.69 L694.75 81.79 L695.25 81.88 L695.75 81.98 L696.25 82.07 L696.75 82.16 L697.25 82.25 L697.75 82.35 L698.25 82.44 L698.75 82.53 L699.25 82.62 L699.75 82.70 L700.25 82.79 L700.75 82.88 L701.25 82.96 L701.75 83.05 L702.25 83.13 L702.75 83.22 L703.25 83.30 L703.75 83.38 L704.25 83.46 L704.75 83.54 L705.25 83.62 L705.75 83.70 L706.25 83.78 L706.75 83.86 L707.25 83.93 L707.75 84.01 L708.25 84.08 L708.75 84.16 L709.25 84.23 L709.75 84.30 L710.25 84.37 L710.75 84.45 L711.25 84.52 L711.75 84.59 L712.25 84.65 L712.75 84.72 L713.25 84.79 L713.75 84.86 L714.25 84.92 L714.75 84.99 L715.25 85.05 L715.75 85.12 L716.25 85.18 L716.75 85.24 L717.25 85.30 L717.75 85.36 L718.25 85.42 L718.75 85.48 L719.25 85.54 L719.75 85.60 L720.25 85.66 L720.75 85.71 L721.25 85.77 L721.75 85.82 L722.25 85.88 L722.75 85.93 L723.25 85.98 L723.75 86.04 L724.25 86.09 L724.75 86.14 L725.25 86.19 L725.75 86.24 L726.25 86.28 L726.75 86.33 L727.25 86.38 L727.75 86.43 L728.25 86.47 L728.75 86.52 L729.25 86.56 L729.75 86.61 L730.25 86.65 L730.75 86.69 L731.25 86.73 L731.75 86.77 L732.25 86.81 L732.75 86.85 L733.25 86.89 L733.75 86.93 L734.25 86.97 L734.75 87.00 L735.25 87.04 L735.75 87.08 L736.25 87.11 L736.75 87.15 L737.25 87.18 L737.75 87.21 L738.25 87.24 L738.75 87.28 L739.25 87.31 L739.75 87.34 L740.25 87.37 L740.75 87.40 L741.25 87.42 L741.75 87.45 L742.25 87.48 L742.75 87.50 L743.25 87.53 L743.75 87.56 L744.25 87.58 L744.75 87.60 L745.25 87.63 L745.75 87.65 L746.25 87.67 L746.75 87.69 L747.25 87.71 L747.75 87.73 L748.25 87.75 L748.75 87.77 L749.25 87.79 L749.75 87.81 L750.25 87.82 L750.75 87.84 L751.25 87.86 L751.75 87.87 L752.25 87.89 L752.75 87.90 L753.25 87.91 L753.75 87.92 L754.25 87.94 L754.75 87.95 L755.25 87.96 L755.75 87.97 L756.25 87.98 L756.75 87.99 L757.25 88.00 L757.75 88.00 L758.25 88.01 L758.75 88.02 L759.25 88.02 L759.75 88.03 L760.25 88.03 L760.75 88.04 L761.25 88.04 L761.75 88.05 L762.25 88.05 L762.75 88.05 L763.25 88.05 L763.75 88.05 L764.25 88.05 L764.75 88.05 L765.25 88.05 L765.75 88.05 L766.25 88.05 L766.75 88.05 L767.25 88.04 L767.75 88.04 L768.25 88.03 L768.75 88.03 L769.25 88.02 L769.75 88.02 L770.25 88.01 L770.75 88.00 L771.25 88.00 L771.75 87.99 L772.25 87.98 L772.75 87.97 L773.25 87.96 L773.75 87.95 L774.25 87.94 L774.75 87.93 L775.25 87.92 L775.75 87.91 L776.25 87.89 L776.75 87.88 L777.25 87.86 L777.75 87.85 L778.25 87.84 L778.75 87.82 L779.25 87.80 L779.75 87.79 L780.25 87.77 L780.75 87.75 L781.25 87.73 L781.75 87.72 L782.25 87.70 L782.75 87.68 L783.25 87.66 L783.75 87.64 L784.25 87.62 L784.75 87.59 L785.25 87.57 L785.75 87.55 L786.25 87.53 L786.75 87.50 L787.25 87.48 L787.75 87.45 L788.25 87.43 L788.75 87.40 L789.25 87.38 L789.75 87.35 L790.25 87.32 L790.75 87.30 L791.25 87.27 L791.75 87.24" fill="none" stroke="#000" stroke-width="2.50" stroke-linejoin="round" stroke-linecap="butt"/>
<path d="M425.00 753.40 L425.50 753.40 L426.00 753.40 L426.50 753.40 L427.00 753.40 L427.50 753.40 L428.00 753.40 L428.50 753.40 L429.00 753.40 L429.50 753.40 L430.00 753.40 L430.50 753.40 L431.00 753.40 L431.50 753.40 L432.00 753.40 L432.50 753.40 L433.00 753.40 L433.50 753.40 L434.00 753.40 L434.50 753.40 L435.00 753.40 L435.50 753.40 L436.00 753.40 L436.50 753.40 L437.00 753.40 L437.50 753.40 L438.00 753.40 L438.50 753.40 L439.00 753.40 L439.50 753.40 L440.00 753.40 L440.50 753.40 L441.00 753.40 L441.50 753.40 L442.00 753.40 L442.50 753.40 L443.00 753.40 L443.50 753.40 L444.00 753.40 L444.50 753.40 L445.00 753.40 L445.50 753.40 L446.00 753.40 L446.50 753.40 L447.00 753.40 L447.50 753.40 L448.00 753.40 L448.50 753.40 L449.00 753.40 L449.50 753.40 L450.00 753.40 L450.50 753.40 L451.00 753.40 L451.50 753.40 L452.00 753.40 L452.50 753.40 L453.00 753.40 L453.50 753.40 L454.00 753.40 L454.50 753.40 L455.00 753.40 L455.50 753.40 L456.00 753.40 L456.50 753.40 L457.00 753.40 L457.50 753.40 L458.00 753.40 L458.50 753.40 L459.00 753.40 L459.50 753.40 L460.00 753.40 L460.50 753.40 L461.00 753.40 L461.50 753.40 L462.00 753.40 L462.50 753.40 L463.00 753.40 L463.50 753.40 L464.00 753.40 L464.50 753.40 L465.00 753.40 L465.50 753.40 L466.00 753.40 L466.50 753.40 L467.00 753.40 L467.50 753.40 L468.00 753.40 L468.50 753.40 L469.00 753.40 L469.50 753.40 L470.00 753.40 L470.50 753.40 L471.00 753.40 L471.50 753.40 L472.00 753.40 L472.50 753.40 L473.00 753.40 L473.50 753.40 L474.00 753.40 L474.50 753.40 L475.00 753.40 L475.50 753.40 L476.00 753.40 L476.50 753.40 L477.00 753.40 L477.50 753.40 L478.00 753.40 L478.50 753.40 L479.00 753.40 L479.50 753.40 L480.00 753.40 L480.50 753.40 L481.00 753.40 L481.50 753.40 L482.00 753.40 L482.50 753.40 L483.00 753.40 L483.50 753.40 L484.00 753.40 L484.50 753.40 L485.00 753.40 L485.50 753.40 L486.00 753.40 L486.50 753.40 L487.00 753.40 L487.50 753.40 L488.00 753.40 L488.50 753.40 L489.00 753.39 L489.50 753.39 L490.00 753.39 L490.50 753.39 L491.00 753.39 L491.50 753.39 L492.00 753.39 L492.50 753.39 L493.00 753.39 L493.50 753.39 L494.00 753.39 L494.50 753.39 L495.00 753.39 L495.50 753.39 L496.00 753.39 L496.50 753.39 L497.00 753.38 L497.50 753.38 L498.00 753.38 L498.50 753.38 L499.00 753.38 L499.50 753.38 L500.00 753.38 L500.50 753.37 L501.00 753.37 L501.50 753.37 L502.00 753.37 L502.50 753.37 L503.00 753.36 L503.50 753.36 L504.00 753.36 L504.50 753.36 L505.00 753.35 L505.50 753.35 L506.00 753.35 L506.50 753.34 L507.00 753.34 L507.50 753.34 L508.00 753.33 L508.50 753.33 L509.00 753.32 L509.50 753.32 L510.00 753.31 L510.50 753.31 L511.00 753.30 L511.50 753.29 L512.00 753.29 L512.50 753.28 L513.00 753.27 L513.50 753.27 L514.00 753.26 L514.50 753.25 L515.00 753.24 L515.50 753.23 L516.00 753.22 L516.50 753.21 L517.00 753.20 L517.50 753.18 L518.00 753.17 L518.50 753.16 L519.00 753.14 L519.50 753.13 L520.00 753.11 L520.50 753.09 L521.00 753.08 L521.50 753.06 L522.00 753.04 L522.50 753.02 L523.00 752.99 L523.50 752.97 L524.00 752.95 L524.50 752.92 L525.00 752.89 L525.50 752.87 L526.00 752.84 L526.50 752.80 L527.00 752.77 L527.50 752.74 L528.00 752.70 L528.50 752.66 L529.00 752.62 L529.50 752.58 L530.00 752.54 L530.50 752.49 L531.00 752.45 L531.50 752.40 L532.00 752.34 L532.50 752.29 L533.00 752.23 L533.50 752.17 L534.00 752.11 L534.50 752.04 L535.00 751.98 L535.50 751.90 L536.00 751.83 L536.50 751.75 L537.00 751.67 L537.50 751.59 L538.00 751.50 L538.50 751.41 L539.00 751.31 L539.50 751.22 L540.00 751.11 L540.50 751.01 L541.00 750.89 L541.50 750.78 L542.00 750.66 L542.50 750.53 L543.00 750.40 L543.50 750.27 L544.00 750.13 L544.50 749.98 L545.00 749.83 L545.50 749.68 L546.00 749.52 L546.50 749.35 L547.00 749.17 L547.50 749.00 L548.00 748.81 L548.50 748.62 L549.00 748.42 L549.50 748.21 L550.00 748.00 L550.50 747.78 L551.00 747.56 L551.50 747.32 L552.00 747.08 L552.50 746.84 L553.00 746.58 L553.50 746.32 L554.00 746.05 L554.50 745.77 L555.00 745.48 L555.50 745.18 L556.00 744.88 L556.50 744.57 L557.00 744.25 L557.50 743.92 L558.00 743.58 L558.50 743.23 L559.00 742.87 L559.50 742.51 L560.00 742.13 L560.50 741.75 L561.00 741.35 L561.50 740.95 L562.00 740.54 L562.50 740.12 L563.00 739.69 L563.50 739.25 L564.00 738.80 L564.50 738.34 L565.00 737.87 L565.50 737.39 L566.00 736.91 L566.50 736.41 L567.00 735.90 L567.50 735.39 L568.00 734.86 L568.50 734.33 L569.00 733.79 L569.50 733.24 L570.00 732.68 L570.50 732.11 L571.00 731.53 L571.50 730.94 L572.00 730.35 L572.50 729.75 L573.00 729.14 L573.50 728.52 L574.00 727.90 L574.50 727.27 L575.00 726.63 L575.50 725.98 L576.00 725.33 L576.50 724.68 L577.00 724.01 L577.50 723.34 L578.00 722.67 L578.50 721.99 L579.00 721.31 L579.50 720.63 L580.00 719.94 L580.50 719.24 L581.00 718.55 L581.50 717.85 L582.00 717.15 L582.50 716.45 L583.00 715.75 L583.50 715.04 L584.00 714.34 L584.50 713.64 L585.00 712.94 L585.50 712.24 L586.00 711.54 L586.50 710.84 L587.00 710.15 L587.50 709.46 L588.00 708.78 L588.50 708.10 L589.00 707.42 L589.50 706.75 L590.00 706.09 L590.50 705.43 L591.00 704.78 L591.50 704.14 L592.00 703.51 L592.50 702.88 L593.00 702.27 L593.50 701.66 L594.00 701.07 L594.50 700.49 L595.00 699.92 L595.50 699.36 L596.00 698.81 L596.50 698.28 L597.00 697.76 L597.50 697.25 L598.00 696.76 L598.50 696.29 L599.00 695.83 L599.50 695.38 L600.00 694.96 L600.50 694.55 L601.00 694.15 L601.50 693.78 L602.00 693.42 L602.50 693.08 L603.00 692.76 L603.50 692.46 L604.00 692.18 L604.50 691.92 L605.00 691.68 L605.50 691.46 L606.00 691.26 L606.50 691.07 L607.00 690.92 L607.50 690.78 L608.00 690.66 L608.50 690.56 L609.00 690.49 L609.50 690.43 L610.00 690.40 L610.50 690.39 L611.00 690.41 L611.50 690.45 L612.00 690.51 L612.50 690.60 L613.00 690.72 L613.50 690.87 L614.00 691.04 L614.50 691.23 L615.00 691.45 L615.50 691.70 L616.00 691.97 L616.50 692.27 L617.00 692.58 L617.50 692.93 L618.00 693.29 L618.50 693.68 L619.00 694.09 L619.50 694.52 L620.00 694.98 L620.50 695.45 L621.00 695.95 L621.50 696.46 L622.00 696.99 L622.50 697.54 L623.00 698.11 L623.50 698.70 L624.00 699.30 L624.50 699.92 L625.00 700.55 L625.50 701.19 L626.00 701.85 L626.50 702.53 L627.00 703.21 L627.50 703.91 L628.00 704.61 L628.50 705.33 L629.00 706.05 L629.50 706.79 L630.00 707.53 L630.50 708.28 L631.00 709.03 L631.50 709.79 L632.00 710.55 L632.50 711.32 L633.00 712.09 L633.50 712.86 L634.00 713.64 L634.50 714.42 L635.00 715.19 L635.50 715.97 L636.00 716.75 L636.50 717.52 L637.00 718.29 L637.50 719.06 L638.00 719.83 L638.50 720.59 L639.00 721.35 L639.50 722.10 L640.00 722.85 L640.50 723.59 L641.00 724.33 L641.50 725.06 L642.00 725.78 L642.50 726.50 L643.00 727.20 L643.50 727.90 L644.00 728.59 L644.50 729.27 L645.00 729.94 L645.50 730.61 L646.00 731.26 L646.50 731.90 L647.00 732.53 L647.50 733.15 L648.00 733.76 L648.50 734.36 L649.00 734.95 L649.50 735.53 L650.00 736.09 L650.50 736.65 L651.00 737.19 L651.50 737.73 L652.00 738.25 L652.50 738.75 L653.00 739.25 L653.50 739.74 L654.00 740.21 L654.50 740.68 L655.00 741.13 L655.50 741.57 L656.00 742.00 L656.50 742.41 L657.00 742.82 L657.50 743.21 L658.00 743.60 L658.50 743.97 L659.00 744.33 L659.50 744.69 L660.00 745.03 L660.50 745.36 L661.00 745.68 L661.50 745.99 L662.00 746.29 L662.50 746.58 L663.00 746.87 L663.50 747.14 L664.00 747.40 L664.50 747.66 L665.00 747.90 L665.50 748.14 L666.00 748.37 L666.50 748.59 L667.00 748.80 L667.50 749.01 L668.00 749.20 L668.50 749.39 L669.00 749.58 L669.50 749.75 L670.00 749.92 L670.50 750.09 L671.00 750.24 L671.50 750.39 L672.00 750.53 L672.50 750.67 L673.00 750.80 L673.50 750.93 L674.00 751.05 L674.50 751.17 L675.00 751.28 L675.50 751.39 L676.00 751.49 L676.50 751.59 L677.00 751.68 L677.50 751.77 L678.00 751.85 L678.50 751.93 L679.00 752.01 L679.50 752.08 L680.00 752.15 L680.50 752.22 L681.00 752.28 L681.50 752.34 L682.00 752.40 L682.50 752.46 L683.00 752.51 L683.50 752.56 L684.00 752.60 L684.50 752.65 L685.00 752.69 L685.50 752.73 L686.00 752.77 L686.50 752.81 L687.00 752.84 L687.50 752.87 L688.00 752.90 L688.50 752.93 L689.00 752.96 L689.50 752.99 L690.00 753.01 L690.50 753.03 L691.00 753.06 L691.50 753.08 L692.00 753.10 L692.50 753.12 L693.00 753.13 L693.50 753.15 L694.00 753.17 L694.50 753.18 L695.00 753.19 L695.50 753.21 L696.00 753.22 L696.50 753.23 L697.00 753.24 L697.50 753.25 L698.00 753.26 L698.50 753.27 L699.00 753.28 L699.50 753.29 L700.00 753.29 L700.50 753.30 L701.00 753.31 L701.50 753.31 L702.00 753.32 L702.50 753.32 L703.00 753.33 L703.50 753.33 L704.00 753.34 L704.50 753.34 L705.00 753.35 L705.50 753.35 L706.00 753.35 L706.50 753.36 L707.00 753.36 L707.50 753.36 L708.00 753.37 L708.50 753.37 L709.00 753.37 L709.50 753.37 L710.00 753.37 L710.50 753.38 L711.00 753.38 L711.50 753.38 L712.00 753.38 L712.50 753.38 L713.00 753.38 L713.50 753.38 L714.00 753.39 L714.50 753.39 L715.00 753.39 L715.50 753.39 L716.00 753.39 L716.50 753.39 L717.00 753.39 L717.50 753.39 L718.00 753.39 L718.50 753.39 L719.00 753.39 L719.50 753.39 L720.00 753.39 L720.50 753.39 L721.00 753.40 L721.50 753.40 L722.00 753.40 L722.50 753.40 L723.00 753.40 L723.50 753.40 L724.00 753.40 L724.50 753.40 L725.00 753.40 L725.50 753.40 L726.00 753.40 L726.50 753.40 L727.00 753.40 L727.50 753.40 L728.00 753.40 L728.50 753.40 L729.00 753.40 L729.50 753.40 L730.00 753.40 L730.50 753.40 L731.00 753.40 L731.50 753.40 L732.00 753.40 L732.50 753.40 L733.00 753.40 L733.50 753.40 L734.00 753.40 L734.50 753.40 L735.00 753.40 L735.50 753.40 L736.00 753.40 L736.50 753.40 L737.00 753.40 L737.50 753.40 L738.00 753.40 L738.50 753.40 L739.00 753.40 L739.50 753.40 L740.00 753.40 L740.50 753.40 L741.00 753.40 L741.50 753.40 L742.00 753.40 L742.50 753.40 L743.00 753.40 L743.50 753.40 L744.00 753.40 L744.50 753.40 L745.00 753.40 L745.50 753.40 L746.00 753.40 L746.50 753.40 L747.00 753.40 L747.50 753.40 L748.00 753.40 L748.50 753.40 L749.00 753.40 L749.50 753.40 L750.00 753.40 L750.50 753.40 L751.00 753.40 L751.50 753.40 L752.00 753.40 L752.50 753.40 L753.00 753.40 L753.50 753.40 L754.00 753.40 L754.50 753.40 L755.00 753.40 L755.50 753.40 L756.00 753.40 L756.50 753.40 L757.00 753.40 L757.50 753.40 L758.00 753.40 L758.50 753.40 L759.00 753.40 L759.50 753.40 L760.00 753.40 L760.50 753.40 L761.00 753.40 L761.50 753.40 L762.00 753.40 L762.50 753.40 L763.00 753.40 L763.50 753.40 L764.00 753.40 L764.50 753.40 L765.00 753.40 L765.50 753.40 L766.00 753.40 L766.50 753.40 L767.00 753.40 L767.50 753.40 L768.00 753.40 L768.50 753.40 L769.00 753.40 L769.50 753.40 L770.00 753.40 L770.50 753.40 L771.00 753.40 L771.50 753.40 L772.00 753.40 L772.50 753.40 L773.00 753.40 L773.50 753.40 L774.00 753.40 L774.50 753.40 L775.00 753.40 L775.50 753.40 L776.00 753.40 L776.50 753.40 L777.00 753.40 L777.50 753.40 L778.00 753.40 L778.50 753.40 L779.00 753.40 L779.50 753.40 L780.00 753.40 L780.50 753.40 L781.00 753.40 L781.50 753.40 L782.00 753.40 L782.50 753.40" fill="none" stroke="#000" stroke-width="1.20" stroke-linejoin="round"/>
<path d="M425.00 753.40 L425.50 753.40 L426.00 753.40 L426.50 753.40 L427.00 753.40 L427.50 753.40 L428.00 753.40 L428.50 753.40 L429.00 753.40 L429.50 753.40 L430.00 753.40 L430.50 753.40 L431.00 753.40 L431.50 753.40 L432.00 753.40 L432.50 753.40 L433.00 753.40 L433.50 753.40 L434.00 753.40 L434.50 753.40 L435.00 753.40 L435.50 753.40 L436.00 753.40 L436.50 753.40 L437.00 753.40 L437.50 753.40 L438.00 753.40 L438.50 753.40 L439.00 753.40 L439.50 753.40 L440.00 753.40 L440.50 753.40 L441.00 753.40 L441.50 753.40 L442.00 753.40 L442.50 753.40 L443.00 753.40 L443.50 753.40 L444.00 753.40 L444.50 753.40 L445.00 753.40 L445.50 753.40 L446.00 753.40 L446.50 753.40 L447.00 753.40 L447.50 753.40 L448.00 753.40 L448.50 753.40 L449.00 753.40 L449.50 753.40 L450.00 753.40 L450.50 753.40 L451.00 753.40 L451.50 753.40 L452.00 753.40 L452.50 753.40 L453.00 753.40 L453.50 753.40 L454.00 753.40 L454.50 753.40 L455.00 753.40 L455.50 753.40 L456.00 753.40 L456.50 753.40 L457.00 753.40 L457.50 753.40 L458.00 753.40 L458.50 753.40 L459.00 753.40 L459.50 753.40 L460.00 753.40 L460.50 753.40 L461.00 753.40 L461.50 753.40 L462.00 753.40 L462.50 753.40 L463.00 753.40 L463.50 753.40 L464.00 753.40 L464.50 753.40 L465.00 753.40 L465.50 753.40 L466.00 753.40 L466.50 753.40 L467.00 753.40 L467.50 753.40 L468.00 753.40 L468.50 753.40 L469.00 753.40 L469.50 753.40 L470.00 753.40 L470.50 753.40 L471.00 753.40 L471.50 753.40 L472.00 753.40 L472.50 753.40 L473.00 753.40 L473.50 753.40 L474.00 753.40 L474.50 753.40 L475.00 753.40 L475.50 753.40 L476.00 753.40 L476.50 753.40 L477.00 753.40 L477.50 753.40 L478.00 753.40 L478.50 753.40 L479.00 753.40 L479.50 753.40 L480.00 753.40 L480.50 753.40 L481.00 753.40 L481.50 753.40 L482.00 753.40 L482.50 753.40 L483.00 753.40 L483.50 753.40 L484.00 753.40 L484.50 753.40 L485.00 753.40 L485.50 753.40 L486.00 753.40 L486.50 753.40 L487.00 753.40 L487.50 753.40 L488.00 753.40 L488.50 753.40 L489.00 753.40 L489.50 753.40 L490.00 753.40 L490.50 753.40 L491.00 753.40 L491.50 753.40 L492.00 753.40 L492.50 753.40 L493.00 753.40 L493.50 753.40 L494.00 753.40 L494.50 753.40 L495.00 753.40 L495.50 753.40 L496.00 753.40 L496.50 753.40 L497.00 753.40 L497.50 753.40 L498.00 753.40 L498.50 753.40 L499.00 753.40 L499.50 753.40 L500.00 753.40 L500.50 753.40 L501.00 753.40 L501.50 753.40 L502.00 753.40 L502.50 753.40 L503.00 753.40 L503.50 753.40 L504.00 753.40 L504.50 753.40 L505.00 753.40 L505.50 753.40 L506.00 753.40 L506.50 753.40 L507.00 753.40 L507.50 753.40 L508.00 753.40 L508.50 753.40 L509.00 753.40 L509.50 753.40 L510.00 753.40 L510.50 753.40 L511.00 753.40 L511.50 753.40 L512.00 753.40 L512.50 753.40 L513.00 753.40 L513.50 753.40 L514.00 753.40 L514.50 753.40 L515.00 753.40 L515.50 753.40 L516.00 753.40 L516.50 753.40 L517.00 753.40 L517.50 753.40 L518.00 753.40 L518.50 753.40 L519.00 753.40 L519.50 753.40 L520.00 753.40 L520.50 753.40 L521.00 753.40 L521.50 753.40 L522.00 753.40 L522.50 753.40 L523.00 753.40 L523.50 753.40 L524.00 753.40 L524.50 753.40 L525.00 753.40 L525.50 753.40 L526.00 753.40 L526.50 753.40 L527.00 753.40 L527.50 753.40 L528.00 753.40 L528.50 753.40 L529.00 753.40 L529.50 753.40 L530.00 753.40 L530.50 753.40 L531.00 753.39 L531.50 753.39 L532.00 753.39 L532.50 753.39 L533.00 753.39 L533.50 753.39 L534.00 753.39 L534.50 753.39 L535.00 753.39 L535.50 753.39 L536.00 753.39 L536.50 753.39 L537.00 753.39 L537.50 753.39 L538.00 753.39 L538.50 753.39 L539.00 753.38 L539.50 753.38 L540.00 753.38 L540.50 753.38 L541.00 753.38 L541.50 753.38 L542.00 753.38 L542.50 753.37 L543.00 753.37 L543.50 753.37 L544.00 753.37 L544.50 753.37 L545.00 753.36 L545.50 753.36 L546.00 753.36 L546.50 753.35 L547.00 753.35 L547.50 753.35 L548.00 753.34 L548.50 753.34 L549.00 753.33 L549.50 753.33 L550.00 753.32 L550.50 753.32 L551.00 753.31 L551.50 753.31 L552.00 753.30 L552.50 753.29 L553.00 753.28 L553.50 753.28 L554.00 753.27 L554.50 753.26 L555.00 753.25 L555.50 753.23 L556.00 753.22 L556.50 753.21 L557.00 753.20 L557.50 753.18 L558.00 753.16 L558.50 753.15 L559.00 753.13 L559.50 753.11 L560.00 753.09 L560.50 753.06 L561.00 753.04 L561.50 753.01 L562.00 752.99 L562.50 752.96 L563.00 752.92 L563.50 752.89 L564.00 752.85 L564.50 752.81 L565.00 752.77 L565.50 752.72 L566.00 752.67 L566.50 752.62 L567.00 752.57 L567.50 752.51 L568.00 752.44 L568.50 752.37 L569.00 752.30 L569.50 752.22 L570.00 752.13 L570.50 752.04 L571.00 751.95 L571.50 751.84 L572.00 751.73 L572.50 751.62 L573.00 751.49 L573.50 751.35 L574.00 751.21 L574.50 751.06 L575.00 750.89 L575.50 750.71 L576.00 750.53 L576.50 750.33 L577.00 750.11 L577.50 749.89 L578.00 749.64 L578.50 749.38 L579.00 749.11 L579.50 748.81 L580.00 748.50 L580.50 748.17 L581.00 747.81 L581.50 747.44 L582.00 747.04 L582.50 746.61 L583.00 746.16 L583.50 745.68 L584.00 745.17 L584.50 744.63 L585.00 744.06 L585.50 743.46 L586.00 742.82 L586.50 742.14 L587.00 741.42 L587.50 740.66 L588.00 739.86 L588.50 739.02 L589.00 738.13 L589.50 737.19 L590.00 736.21 L590.50 735.17 L591.00 734.08 L591.50 732.93 L592.00 731.73 L592.50 730.48 L593.00 729.16 L593.50 727.78 L594.00 726.34 L594.50 724.84 L595.00 723.28 L595.50 721.65 L596.00 719.96 L596.50 718.21 L597.00 716.39 L597.50 714.51 L598.00 712.56 L598.50 710.55 L599.00 708.48 L599.50 706.36 L600.00 704.17 L600.50 701.94 L601.00 699.65 L601.50 697.32 L602.00 694.94 L602.50 692.53 L603.00 690.08 L603.50 687.60 L604.00 685.11 L604.50 682.59 L605.00 680.07 L605.50 677.55 L606.00 675.04 L606.50 672.54 L607.00 670.07 L607.50 667.63 L608.00 665.23 L608.50 662.88 L609.00 660.60 L609.50 658.38 L610.00 656.25 L610.50 654.21 L611.00 652.26 L611.50 650.43 L612.00 648.71 L612.50 647.11 L613.00 645.65 L613.50 644.34 L614.00 643.17 L614.50 642.15 L615.00 641.29 L615.50 640.60 L616.00 640.08 L616.50 639.72 L617.00 639.54 L617.50 639.53 L618.00 639.67 L618.50 639.95 L619.00 640.38 L619.50 640.94 L620.00 641.64 L620.50 642.48 L621.00 643.45 L621.50 644.54 L622.00 645.76 L622.50 647.09 L623.00 648.54 L623.50 650.09 L624.00 651.74 L624.50 653.48 L625.00 655.30 L625.50 657.21 L626.00 659.18 L626.50 661.22 L627.00 663.32 L627.50 665.46 L628.00 667.65 L628.50 669.87 L629.00 672.12 L629.50 674.39 L630.00 676.68 L630.50 678.97 L631.00 681.27 L631.50 683.56 L632.00 685.85 L632.50 688.12 L633.00 690.37 L633.50 692.60 L634.00 694.80 L634.50 696.97 L635.00 699.10 L635.50 701.20 L636.00 703.25 L636.50 705.26 L637.00 707.23 L637.50 709.15 L638.00 711.01 L638.50 712.83 L639.00 714.60 L639.50 716.32 L640.00 717.98 L640.50 719.59 L641.00 721.14 L641.50 722.64 L642.00 724.09 L642.50 725.49 L643.00 726.84 L643.50 728.13 L644.00 729.37 L644.50 730.57 L645.00 731.71 L645.50 732.81 L646.00 733.86 L646.50 734.86 L647.00 735.82 L647.50 736.74 L648.00 737.62 L648.50 738.45 L649.00 739.25 L649.50 740.01 L650.00 740.73 L650.50 741.42 L651.00 742.08 L651.50 742.70 L652.00 743.29 L652.50 743.85 L653.00 744.39 L653.50 744.89 L654.00 745.37 L654.50 745.82 L655.00 746.25 L655.50 746.66 L656.00 747.05 L656.50 747.41 L657.00 747.76 L657.50 748.08 L658.00 748.39 L658.50 748.69 L659.00 748.96 L659.50 749.22 L660.00 749.47 L660.50 749.70 L661.00 749.92 L661.50 750.12 L662.00 750.32 L662.50 750.50 L663.00 750.67 L663.50 750.84 L664.00 750.99 L664.50 751.14 L665.00 751.27 L665.50 751.40 L666.00 751.52 L666.50 751.63 L667.00 751.74 L667.50 751.84 L668.00 751.94 L668.50 752.03 L669.00 752.11 L669.50 752.19 L670.00 752.26 L670.50 752.33 L671.00 752.40 L671.50 752.46 L672.00 752.52 L672.50 752.57 L673.00 752.62 L673.50 752.67 L674.00 752.71 L674.50 752.76 L675.00 752.80 L675.50 752.83 L676.00 752.87 L676.50 752.90 L677.00 752.93 L677.50 752.96 L678.00 752.99 L678.50 753.01 L679.00 753.04 L679.50 753.06 L680.00 753.08 L680.50 753.10 L681.00 753.12 L681.50 753.14 L682.00 753.15 L682.50 753.17 L683.00 753.18 L683.50 753.20 L684.00 753.21 L684.50 753.22 L685.00 753.23 L685.50 753.24 L686.00 753.25 L686.50 753.26 L687.00 753.27 L687.50 753.28 L688.00 753.29 L688.50 753.29 L689.00 753.30 L689.50 753.31 L690.00 753.31 L690.50 753.32 L691.00 753.32 L691.50 753.33 L692.00 753.33 L692.50 753.34 L693.00 753.34 L693.50 753.34 L694.00 753.35 L694.50 753.35 L695.00 753.35 L695.50 753.36 L696.00 753.36 L696.50 753.36 L697.00 753.36 L697.50 753.37 L698.00 753.37 L698.50 753.37 L699.00 753.37 L699.50 753.37 L700.00 753.38 L700.50 753.38 L701.00 753.38 L701.50 753.38 L702.00 753.38 L702.50 753.38 L703.00 753.38 L703.50 753.38 L704.00 753.39 L704.50 753.39 L705.00 753.39 L705.50 753.39 L706.00 753.39 L706.50 753.39 L707.00 753.39 L707.50 753.39 L708.00 753.39 L708.50 753.39 L709.00 753.39 L709.50 753.39 L710.00 753.39 L710.50 753.39 L711.00 753.39 L711.50 753.39 L712.00 753.39 L712.50 753.40 L713.00 753.40 L713.50 753.40 L714.00 753.40 L714.50 753.40 L715.00 753.40 L715.50 753.40 L716.00 753.40 L716.50 753.40 L717.00 753.40 L717.50 753.40 L718.00 753.40 L718.50 753.40 L719.00 753.40 L719.50 753.40 L720.00 753.40 L720.50 753.40 L721.00 753.40 L721.50 753.40 L722.00 753.40 L722.50 753.40 L723.00 753.40 L723.50 753.40 L724.00 753.40 L724.50 753.40 L725.00 753.40 L725.50 753.40 L726.00 753.40 L726.50 753.40 L727.00 753.40 L727.50 753.40 L728.00 753.40 L728.50 753.40 L729.00 753.40 L729.50 753.40 L730.00 753.40 L730.50 753.40 L731.00 753.40 L731.50 753.40 L732.00 753.40 L732.50 753.40 L733.00 753.40 L733.50 753.40 L734.00 753.40 L734.50 753.40 L735.00 753.40 L735.50 753.40 L736.00 753.40 L736.50 753.40 L737.00 753.40 L737.50 753.40 L738.00 753.40 L738.50 753.40 L739.00 753.40 L739.50 753.40 L740.00 753.40 L740.50 753.40 L741.00 753.40 L741.50 753.40 L742.00 753.40 L742.50 753.40 L743.00 753.40 L743.50 753.40 L744.00 753.40 L744.50 753.40 L745.00 753.40 L745.50 753.40 L746.00 753.40 L746.50 753.40 L747.00 753.40 L747.50 753.40 L748.00 753.40 L748.50 753.40 L749.00 753.40 L749.50 753.40 L750.00 753.40 L750.50 753.40 L751.00 753.40 L751.50 753.40 L752.00 753.40 L752.50 753.40 L753.00 753.40 L753.50 753.40 L754.00 753.40 L754.50 753.40 L755.00 753.40 L755.50 753.40 L756.00 753.40 L756.50 753.40 L757.00 753.40 L757.50 753.40 L758.00 753.40 L758.50 753.40 L759.00 753.40 L759.50 753.40 L760.00 753.40 L760.50 753.40 L761.00 753.40 L761.50 753.40 L762.00 753.40 L762.50 753.40 L763.00 753.40 L763.50 753.40 L764.00 753.40 L764.50 753.40 L765.00 753.40 L765.50 753.40 L766.00 753.40 L766.50 753.40 L767.00 753.40 L767.50 753.40 L768.00 753.40 L768.50 753.40 L769.00 753.40 L769.50 753.40 L770.00 753.40 L770.50 753.40 L771.00 753.40 L771.50 753.40 L772.00 753.40 L772.50 753.40 L773.00 753.40 L773.50 753.40 L774.00 753.40 L774.50 753.40 L775.00 753.40 L775.50 753.40 L776.00 753.40 L776.50 753.40 L777.00 753.40 L777.50 753.40 L778.00 753.40 L778.50 753.40 L779.00 753.40 L779.50 753.40 L780.00 753.40 L780.50 753.40 L781.00 753.40 L781.50 753.40 L782.00 753.40 L782.50 753.40" fill="none" stroke="#000" stroke-width="1.20" stroke-linejoin="round"/>
<path d="M425.00 752.91 L425.50 752.91 L426.00 752.91 L426.50 752.90 L427.00 752.90 L427.50 752.89 L428.00 752.89 L428.50 752.88 L429.00 752.88 L429.50 752.87 L430.00 752.87 L430.50 752.87 L431.00 752.86 L431.50 752.86 L432.00 752.85 L432.50 752.85 L433.00 752.84 L433.50 752.84 L434.00 752.83 L434.50 752.83 L435.00 752.82 L435.50 752.82 L436.00 752.81 L436.50 752.81 L437.00 752.80 L437.50 752.80 L438.00 752.79 L438.50 752.79 L439.00 752.79 L439.50 752.78 L440.00 752.78 L440.50 752.77 L441.00 752.77 L441.50 752.76 L442.00 752.75 L442.50 752.75 L443.00 752.74 L443.50 752.74 L444.00 752.73 L444.50 752.73 L445.00 752.72 L445.50 752.72 L446.00 752.71 L446.50 752.71 L447.00 752.70 L447.50 752.70 L448.00 752.69 L448.50 752.69 L449.00 752.68 L449.50 752.68 L450.00 752.67 L450.50 752.66 L451.00 752.66 L451.50 752.65 L452.00 752.65 L452.50 752.64 L453.00 752.64 L453.50 752.63 L454.00 752.62 L454.50 752.62 L455.00 752.61 L455.50 752.61 L456.00 752.60 L456.50 752.60 L457.00 752.59 L457.50 752.58 L458.00 752.58 L458.50 752.57 L459.00 752.57 L459.50 752.56 L460.00 752.55 L460.50 752.55 L461.00 752.54 L461.50 752.54 L462.00 752.53 L462.50 752.52 L463.00 752.52 L463.50 752.51 L464.00 752.50 L464.50 752.50 L465.00 752.49 L465.50 752.49 L466.00 752.48 L466.50 752.47 L467.00 752.47 L467.50 752.46 L468.00 752.45 L468.50 752.45 L469.00 752.44 L469.50 752.43 L470.00 752.43 L470.50 752.42 L471.00 752.41 L471.50 752.41 L472.00 752.40 L472.50 752.39 L473.00 752.39 L473.50 752.38 L474.00 752.37 L474.50 752.37 L475.00 752.36 L475.50 752.35 L476.00 752.35 L476.50 752.34 L477.00 752.33 L477.50 752.33 L478.00 752.32 L478.50 752.31 L479.00 752.31 L479.50 752.30 L480.00 752.29 L480.50 752.29 L481.00 752.28 L481.50 752.27 L482.00 752.26 L482.50 752.26 L483.00 752.25 L483.50 752.24 L484.00 752.24 L484.50 752.23 L485.00 752.22 L485.50 752.21 L486.00 752.21 L486.50 752.20 L487.00 752.19 L487.50 752.19 L488.00 752.18 L488.50 752.17 L489.00 752.16 L489.50 752.16 L490.00 752.15 L490.50 752.14 L491.00 752.13 L491.50 752.13 L492.00 752.12 L492.50 752.11 L493.00 752.10 L493.50 752.10 L494.00 752.09 L494.50 752.08 L495.00 752.08 L495.50 752.07 L496.00 752.06 L496.50 752.05 L497.00 752.05 L497.50 752.04 L498.00 752.03 L498.50 752.02 L499.00 752.02 L499.50 752.01 L500.00 752.00 L500.50 751.99 L501.00 751.99 L501.50 751.98 L502.00 751.97 L502.50 751.96 L503.00 751.95 L503.50 751.95 L504.00 751.94 L504.50 751.93 L505.00 751.92 L505.50 751.92 L506.00 751.91 L506.50 751.90 L507.00 751.89 L507.50 751.89 L508.00 751.88 L508.50 751.87 L509.00 751.86 L509.50 751.86 L510.00 751.85 L510.50 751.84 L511.00 751.83 L511.50 751.82 L512.00 751.82 L512.50 751.81 L513.00 751.80 L513.50 751.79 L514.00 751.79 L514.50 751.78 L515.00 751.77 L515.50 751.76 L516.00 751.75 L516.50 751.75 L517.00 751.74 L517.50 751.73 L518.00 751.72 L518.50 751.72 L519.00 751.71 L519.50 751.70 L520.00 751.69 L520.50 751.69 L521.00 751.68 L521.50 751.67 L522.00 751.66 L522.50 751.65 L523.00 751.65 L523.50 751.64 L524.00 751.63 L524.50 751.62 L525.00 751.62 L525.50 751.61 L526.00 751.60 L526.50 751.59 L527.00 751.59 L527.50 751.58 L528.00 751.57 L528.50 751.56 L529.00 751.56 L529.50 751.55 L530.00 751.54 L530.50 751.53 L531.00 751.53 L531.50 751.52 L532.00 751.51 L532.50 751.50 L533.00 751.50 L533.50 751.49 L534.00 751.48 L534.50 751.47 L535.00 751.47 L535.50 751.46 L536.00 751.45 L536.50 751.44 L537.00 751.44 L537.50 751.43 L538.00 751.42 L538.50 751.41 L539.00 751.41 L539.50 751.40 L540.00 751.39 L540.50 751.38 L541.00 751.38 L541.50 751.37 L542.00 751.36 L542.50 751.36 L543.00 751.35 L543.50 751.34 L544.00 751.33 L544.50 751.33 L545.00 751.32 L545.50 751.31 L546.00 751.31 L546.50 751.30 L547.00 751.29 L547.50 751.29 L548.00 751.28 L548.50 751.27 L549.00 751.26 L549.50 751.26 L550.00 751.25 L550.50 751.24 L551.00 751.24 L551.50 751.23 L552.00 751.22 L552.50 751.22 L553.00 751.21 L553.50 751.20 L554.00 751.20 L554.50 751.19 L555.00 751.18 L555.50 751.18 L556.00 751.17 L556.50 751.16 L557.00 751.16 L557.50 751.15 L558.00 751.15 L558.50 751.14 L559.00 751.13 L559.50 751.13 L560.00 751.12 L560.50 751.11 L561.00 751.11 L561.50 751.10 L562.00 751.10 L562.50 751.09 L563.00 751.08 L563.50 751.08 L564.00 751.07 L564.50 751.07 L565.00 751.06 L565.50 751.06 L566.00 751.05 L566.50 751.04 L567.00 751.04 L567.50 751.03 L568.00 751.03 L568.50 751.02 L569.00 751.02 L569.50 751.01 L570.00 751.00 L570.50 751.00 L571.00 750.99 L571.50 750.99 L572.00 750.98 L572.50 750.98 L573.00 750.97 L573.50 750.97 L574.00 750.96 L574.50 750.96 L575.00 750.95 L575.50 750.95 L576.00 750.94 L576.50 750.94 L577.00 750.93 L577.50 750.93 L578.00 750.92 L578.50 750.92 L579.00 750.91 L579.50 750.91 L580.00 750.91 L580.50 750.90 L581.00 750.90 L581.50 750.89 L582.00 750.89 L582.50 750.88 L583.00 750.88 L583.50 750.87 L584.00 750.87 L584.50 750.87 L585.00 750.86 L585.50 750.86 L586.00 750.85 L586.50 750.85 L587.00 750.85 L587.50 750.84 L588.00 750.84 L588.50 750.84 L589.00 750.83 L589.50 750.83 L590.00 750.83 L590.50 750.82 L591.00 750.82 L591.50 750.81 L592.00 750.81 L592.50 750.81 L593.00 750.81 L593.50 750.80 L594.00 750.80 L594.50 750.80 L595.00 750.79 L595.50 750.79 L596.00 750.79 L596.50 750.78 L597.00 750.78 L597.50 750.78 L598.00 750.78 L598.50 750.77 L599.00 750.77 L599.50 750.77 L600.00 750.77 L600.50 750.76 L601.00 750.76 L601.50 750.76 L602.00 750.76 L602.50 750.76 L603.00 750.75 L603.50 750.75 L604.00 750.75 L604.50 750.75 L605.00 750.75 L605.50 750.74 L606.00 750.74 L606.50 750.74 L607.00 750.74 L607.50 750.74 L608.00 750.74 L608.50 750.73 L609.00 750.73 L609.50 750.73 L610.00 750.73 L610.50 750.73 L611.00 750.73 L611.50 750.73 L612.00 750.73 L612.50 750.73 L613.00 750.73 L613.50 750.72 L614.00 750.72 L614.50 750.72 L615.00 750.72 L615.50 750.72 L616.00 750.72 L616.50 750.72 L617.00 750.72 L617.50 750.72 L618.00 750.72 L618.50 750.72 L619.00 750.72 L619.50 750.72 L620.00 750.72 L620.50 750.72 L621.00 750.72 L621.50 750.72 L622.00 750.72 L622.50 750.72 L623.00 750.72 L623.50 750.72 L624.00 750.72 L624.50 750.72 L625.00 750.72 L625.50 750.73 L626.00 750.73 L626.50 750.73 L627.00 750.73 L627.50 750.73 L628.00 750.73 L628.50 750.73 L629.00 750.74 L629.50 750.74 L630.00 750.74 L630.50 750.74 L631.00 750.74 L631.50 750.74 L632.00 750.75 L632.50 750.75 L633.00 750.75 L633.50 750.75 L634.00 750.76 L634.50 750.76 L635.00 750.76 L635.50 750.76 L636.00 750.77 L636.50 750.77 L637.00 750.77 L637.50 750.78 L638.00 750.78 L638.50 750.78 L639.00 750.79 L639.50 750.79 L640.00 750.79 L640.50 750.80 L641.00 750.80 L641.50 750.80 L642.00 750.81 L642.50 750.81 L643.00 750.82 L643.50 750.82 L644.00 750.82 L644.50 750.83 L645.00 750.83 L645.50 750.84 L646.00 750.84 L646.50 750.85 L647.00 750.85 L647.50 750.86 L648.00 750.86 L648.50 750.86 L649.00 750.87 L649.50 750.87 L650.00 750.88 L650.50 750.89 L651.00 750.89 L651.50 750.90 L652.00 750.90 L652.50 750.91 L653.00 750.91 L653.50 750.92 L654.00 750.92 L654.50 750.93 L655.00 750.93 L655.50 750.94 L656.00 750.95 L656.50 750.95 L657.00 750.96 L657.50 750.96 L658.00 750.97 L658.50 750.98 L659.00 750.98 L659.50 750.99 L660.00 751.00 L660.50 751.00 L661.00 751.01 L661.50 751.02 L662.00 751.02 L662.50 751.03 L663.00 751.04 L663.50 751.04 L664.00 751.05 L664.50 751.06 L665.00 751.06 L665.50 751.07 L666.00 751.08 L666.50 751.09 L667.00 751.09 L667.50 751.10 L668.00 751.11 L668.50 751.12 L669.00 751.12 L669.50 751.13 L670.00 751.14 L670.50 751.15 L671.00 751.15 L671.50 751.16 L672.00 751.17 L672.50 751.18 L673.00 751.18 L673.50 751.19 L674.00 751.20 L674.50 751.21 L675.00 751.22 L675.50 751.22 L676.00 751.23 L676.50 751.24 L677.00 751.25 L677.50 751.26 L678.00 751.27 L678.50 751.27 L679.00 751.28 L679.50 751.29 L680.00 751.30 L680.50 751.31 L681.00 751.32 L681.50 751.33 L682.00 751.33 L682.50 751.34 L683.00 751.35 L683.50 751.36 L684.00 751.37 L684.50 751.38 L685.00 751.39 L685.50 751.40 L686.00 751.40 L686.50 751.41 L687.00 751.42 L687.50 751.43 L688.00 751.44 L688.50 751.45 L689.00 751.46 L689.50 751.47 L690.00 751.48 L690.50 751.48 L691.00 751.49 L691.50 751.50 L692.00 751.51 L692.50 751.52 L693.00 751.53 L693.50 751.54 L694.00 751.55 L694.50 751.56 L695.00 751.57 L695.50 751.58 L696.00 751.59 L696.50 751.59 L697.00 751.60 L697.50 751.61 L698.00 751.62 L698.50 751.63 L699.00 751.64 L699.50 751.65 L700.00 751.66 L700.50 751.67 L701.00 751.68 L701.50 751.69 L702.00 751.70 L702.50 751.71 L703.00 751.72 L703.50 751.73 L704.00 751.73 L704.50 751.74 L705.00 751.75 L705.50 751.76 L706.00 751.77 L706.50 751.78 L707.00 751.79 L707.50 751.80 L708.00 751.81 L708.50 751.82 L709.00 751.83 L709.50 751.84 L710.00 751.85 L710.50 751.86 L711.00 751.87 L711.50 751.88 L712.00 751.88 L712.50 751.89 L713.00 751.90 L713.50 751.91 L714.00 751.92 L714.50 751.93 L715.00 751.94 L715.50 751.95 L716.00 751.96 L716.50 751.97 L717.00 751.98 L717.50 751.99 L718.00 752.00 L718.50 752.00 L719.00 752.01 L719.50 752.02 L720.00 752.03 L720.50 752.04 L721.00 752.05 L721.50 752.06 L722.00 752.07 L722.50 752.08 L723.00 752.09 L723.50 752.10 L724.00 752.10 L724.50 752.11 L725.00 752.12 L725.50 752.13 L726.00 752.14 L726.50 752.15 L727.00 752.16 L727.50 752.17 L728.00 752.18 L728.50 752.18 L729.00 752.19 L729.50 752.20 L730.00 752.21 L730.50 752.22 L731.00 752.23 L731.50 752.24 L732.00 752.25 L732.50 752.25 L733.00 752.26 L733.50 752.27 L734.00 752.28 L734.50 752.29 L735.00 752.30 L735.50 752.31 L736.00 752.31 L736.50 752.32 L737.00 752.33 L737.50 752.34 L738.00 752.35 L738.50 752.36 L739.00 752.36 L739.50 752.37 L740.00 752.38 L740.50 752.39 L741.00 752.40 L741.50 752.40 L742.00 752.41 L742.50 752.42 L743.00 752.43 L743.50 752.44 L744.00 752.44 L744.50 752.45 L745.00 752.46 L745.50 752.47 L746.00 752.48 L746.50 752.48 L747.00 752.49 L747.50 752.50 L748.00 752.51 L748.50 752.51 L749.00 752.52 L749.50 752.53 L750.00 752.54 L750.50 752.54 L751.00 752.55 L751.50 752.56 L752.00 752.57 L752.50 752.57 L753.00 752.58 L753.50 752.59 L754.00 752.59 L754.50 752.60 L755.00 752.61 L755.50 752.62 L756.00 752.62 L756.50 752.63 L757.00 752.64 L757.50 752.64 L758.00 752.65 L758.50 752.66 L759.00 752.66 L759.50 752.67 L760.00 752.68 L760.50 752.68 L761.00 752.69 L761.50 752.70 L762.00 752.70 L762.50 752.71 L763.00 752.72 L763.50 752.72 L764.00 752.73 L764.50 752.74 L765.00 752.74 L765.50 752.75 L766.00 752.76 L766.50 752.76 L767.00 752.77 L767.50 752.77 L768.00 752.78 L768.50 752.79 L769.00 752.79 L769.50 752.80 L770.00 752.80 L770.50 752.81 L771.00 752.82 L771.50 752.82 L772.00 752.83 L772.50 752.83 L773.00 752.84 L773.50 752.84 L774.00 752.85 L774.50 752.86 L775.00 752.86 L775.50 752.87 L776.00 752.87 L776.50 752.88 L777.00 752.88 L777.50 752.89 L778.00 752.89 L778.50 752.90 L779.00 752.90 L779.50 752.91 L780.00 752.91 L780.50 752.92 L781.00 752.92 L781.50 752.93 L782.00 752.93 L782.50 752.94" fill="none" stroke="#000" stroke-width="1.20" stroke-linejoin="round"/>
<path d="M425.00 753.40 L428.00 752.80 L428.50 752.79 L429.00 752.77 L429.50 752.76 L430.00 752.74 L430.50 752.73 L431.00 752.71 L431.50 752.70 L432.00 752.68 L432.50 752.67 L433.00 752.65 L433.50 752.64 L434.00 752.62 L434.50 752.61 L435.00 752.59 L435.50 752.58 L436.00 752.56 L436.50 752.55 L437.00 752.53 L437.50 752.52 L438.00 752.50 L438.50 752.49 L439.00 752.47 L439.50 752.46 L440.00 752.44 L440.50 752.43 L441.00 752.41 L441.50 752.40 L442.00 752.38 L442.50 752.37 L443.00 752.35 L443.50 752.34 L444.00 752.32 L444.50 752.31 L445.00 752.30 L445.50 752.28 L446.00 752.27 L446.50 752.25 L447.00 752.24 L447.50 752.22 L448.00 752.21 L448.50 752.19 L449.00 752.18 L449.50 752.16 L450.00 752.15 L450.50 752.13 L451.00 752.12 L451.50 752.10 L452.00 752.09 L452.50 752.07 L453.00 752.06 L453.50 752.04 L454.00 752.03 L454.50 752.01 L455.00 752.00 L455.50 751.98 L456.00 751.97 L456.50 751.95 L457.00 751.94 L457.50 751.92 L458.00 751.91 L458.50 751.89 L459.00 751.88 L459.50 751.87 L460.00 751.85 L460.50 751.84 L461.00 751.82 L461.50 751.81 L462.00 751.79 L462.50 751.78 L463.00 751.76 L463.50 751.75 L464.00 751.73 L464.50 751.72 L465.00 751.70 L465.50 751.69 L466.00 751.67 L466.50 751.66 L467.00 751.64 L467.50 751.63 L468.00 751.61 L468.50 751.60 L469.00 751.58 L469.50 751.57 L470.00 751.55 L470.50 751.54 L471.00 751.52 L471.50 751.51 L472.00 751.49 L472.50 751.48 L473.00 751.46 L473.50 751.45 L474.00 751.44 L474.50 751.42 L475.00 751.41 L475.50 751.39 L476.00 751.38 L476.50 751.37 L477.00 751.35 L477.50 751.34 L478.00 751.32 L478.50 751.31 L479.00 751.29 L479.50 751.28 L480.00 751.26 L480.50 751.25 L481.00 751.23 L481.50 751.21 L482.00 751.20 L482.50 751.18 L483.00 751.16 L483.50 751.14 L484.00 751.12 L484.50 751.10 L485.00 751.09 L485.50 751.07 L486.00 751.05 L486.50 751.03 L487.00 751.01 L487.50 751.00 L488.00 750.98 L488.50 750.96 L489.00 750.95 L489.50 750.93 L490.00 750.92 L490.50 750.91 L491.00 750.90 L491.50 750.89 L492.00 750.88 L492.50 750.87 L493.00 750.86 L493.50 750.86 L494.00 750.85 L494.50 750.84 L495.00 750.84 L495.50 750.83 L496.00 750.82 L496.50 750.82 L497.00 750.81 L497.50 750.80 L498.00 750.79 L498.50 750.78 L499.00 750.77 L499.50 750.76 L500.00 750.75 L500.50 750.73 L501.00 750.71 L501.50 750.69 L502.00 750.67 L502.50 750.65 L503.00 750.63 L503.50 750.61 L504.00 750.58 L504.50 750.56 L505.00 750.53 L505.50 750.50 L506.00 750.47 L506.50 750.44 L507.00 750.41 L507.50 750.38 L508.00 750.35 L508.50 750.32 L509.00 750.29 L509.50 750.26 L510.00 750.22 L510.50 750.19 L511.00 750.15 L511.50 750.12 L512.00 750.09 L512.50 750.05 L513.00 750.02 L513.50 749.98 L514.00 749.95 L514.50 749.92 L515.00 749.88 L515.50 749.85 L516.00 749.82 L516.50 749.78 L517.00 749.75 L517.50 749.72 L518.00 749.69 L518.50 749.66 L519.00 749.63 L519.50 749.60 L520.00 749.56 L520.50 749.53 L521.00 749.50 L521.50 749.47 L522.00 749.43 L522.50 749.39 L523.00 749.35 L523.50 749.31 L524.00 749.27 L524.50 749.22 L525.00 749.17 L525.50 749.11 L526.00 749.05 L526.50 748.99 L527.00 748.92 L527.50 748.85 L528.00 748.77 L528.50 748.69 L529.00 748.60 L529.50 748.52 L530.00 748.43 L530.50 748.33 L531.00 748.24 L531.50 748.14 L532.00 748.04 L532.50 747.94 L533.00 747.84 L533.50 747.74 L534.00 747.64 L534.50 747.55 L535.00 747.45 L535.50 747.35 L536.00 747.25 L536.50 747.16 L537.00 747.07 L537.50 746.98 L538.00 746.88 L538.50 746.79 L539.00 746.70 L539.50 746.61 L540.00 746.51 L540.50 746.42 L541.00 746.32 L541.50 746.22 L542.00 746.12 L542.50 746.02 L543.00 745.91 L543.50 745.80 L544.00 745.68 L544.50 745.56 L545.00 745.43 L545.50 745.30 L546.00 745.17 L546.50 745.02 L547.00 744.88 L547.50 744.72 L548.00 744.56 L548.50 744.40 L549.00 744.22 L549.50 744.04 L550.00 743.85 L550.50 743.66 L551.00 743.45 L551.50 743.24 L552.00 743.02 L552.50 742.79 L553.00 742.56 L553.50 742.31 L554.00 742.06 L554.50 741.79 L555.00 741.52 L555.50 741.24 L556.00 740.95 L556.50 740.65 L557.00 740.34 L557.50 740.03 L558.00 739.70 L558.50 739.37 L559.00 739.03 L559.50 738.69 L560.00 738.33 L560.50 737.97 L561.00 737.60 L561.50 737.23 L562.00 736.85 L562.50 736.46 L563.00 736.06 L563.50 735.66 L564.00 735.25 L564.50 734.83 L565.00 734.40 L565.50 733.96 L566.00 733.50 L566.50 733.04 L567.00 732.55 L567.50 732.05 L568.00 731.54 L568.50 731.00 L569.00 730.45 L569.50 729.87 L570.00 729.28 L570.50 728.66 L571.00 728.02 L571.50 727.35 L572.00 726.65 L572.50 725.93 L573.00 725.18 L573.50 724.41 L574.00 723.60 L574.50 722.77 L575.00 721.92 L575.50 721.03 L576.00 720.12 L576.50 719.17 L577.00 718.20 L577.50 717.20 L578.00 716.17 L578.50 715.11 L579.00 714.03 L579.50 712.91 L580.00 711.76 L580.50 710.58 L581.00 709.38 L581.50 708.14 L582.00 706.87 L582.50 705.57 L583.00 704.23 L583.50 702.87 L584.00 701.47 L584.50 700.03 L585.00 698.56 L585.50 697.06 L586.00 695.52 L586.50 693.95 L587.00 692.34 L587.50 690.69 L588.00 689.00 L588.50 687.28 L589.00 685.51 L589.50 683.71 L590.00 681.87 L590.50 679.99 L591.00 678.07 L591.50 676.10 L592.00 674.10 L592.50 672.06 L593.00 669.99 L593.50 667.87 L594.00 665.71 L594.50 663.52 L595.00 661.29 L595.50 659.01 L596.00 656.71 L596.50 654.36 L597.00 651.98 L597.50 649.56 L598.00 647.10 L598.50 644.60 L599.00 642.07 L599.50 639.51 L600.00 636.92 L600.50 634.30 L601.00 631.67 L601.50 629.03 L602.00 626.38 L602.50 623.72 L603.00 621.07 L603.50 618.43 L604.00 615.80 L604.50 613.19 L605.00 610.60 L605.50 608.04 L606.00 605.51 L606.50 603.02 L607.00 600.57 L607.50 598.17 L608.00 595.83 L608.50 593.55 L609.00 591.34 L609.50 589.20 L610.00 587.16 L610.50 585.22 L611.00 583.39 L611.50 581.67 L612.00 580.08 L612.50 578.62 L613.00 577.31 L613.50 576.16 L614.00 575.17 L614.50 574.35 L615.00 573.71 L615.50 573.27 L616.00 573.02 L616.50 572.99 L617.00 573.17 L617.50 573.56 L618.00 574.16 L618.50 574.96 L619.00 575.95 L619.50 577.13 L620.00 578.47 L620.50 579.99 L621.00 581.66 L621.50 583.48 L622.00 585.45 L622.50 587.55 L623.00 589.78 L623.50 592.13 L624.00 594.59 L624.50 597.16 L625.00 599.82 L625.50 602.56 L626.00 605.39 L626.50 608.29 L627.00 611.26 L627.50 614.28 L628.00 617.34 L628.50 620.44 L629.00 623.58 L629.50 626.73 L630.00 629.90 L630.50 633.07 L631.00 636.23 L631.50 639.39 L632.00 642.52 L632.50 645.62 L633.00 648.69 L633.50 651.71 L634.00 654.67 L634.50 657.57 L635.00 660.40 L635.50 663.16 L636.00 665.85 L636.50 668.46 L637.00 671.02 L637.50 673.50 L638.00 675.92 L638.50 678.27 L639.00 680.56 L639.50 682.79 L640.00 684.96 L640.50 687.07 L641.00 689.12 L641.50 691.11 L642.00 693.05 L642.50 694.93 L643.00 696.76 L643.50 698.53 L644.00 700.25 L644.50 701.93 L645.00 703.55 L645.50 705.13 L646.00 706.66 L646.50 708.14 L647.00 709.58 L647.50 710.98 L648.00 712.34 L648.50 713.66 L649.00 714.94 L649.50 716.18 L650.00 717.38 L650.50 718.55 L651.00 719.68 L651.50 720.79 L652.00 721.86 L652.50 722.90 L653.00 723.91 L653.50 724.90 L654.00 725.85 L654.50 726.78 L655.00 727.68 L655.50 728.55 L656.00 729.40 L656.50 730.22 L657.00 731.01 L657.50 731.78 L658.00 732.52 L658.50 733.24 L659.00 733.93 L659.50 734.60 L660.00 735.24 L660.50 735.86 L661.00 736.45 L661.50 737.02 L662.00 737.57 L662.50 738.10 L663.00 738.60 L663.50 739.09 L664.00 739.55 L664.50 739.99 L665.00 740.42 L665.50 740.83 L666.00 741.22 L666.50 741.60 L667.00 741.96 L667.50 742.31 L668.00 742.64 L668.50 742.96 L669.00 743.26 L669.50 743.56 L670.00 743.85 L670.50 744.12 L671.00 744.39 L671.50 744.65 L672.00 744.89 L672.50 745.14 L673.00 745.37 L673.50 745.59 L674.00 745.81 L674.50 746.02 L675.00 746.23 L675.50 746.43 L676.00 746.62 L676.50 746.80 L677.00 746.99 L677.50 747.16 L678.00 747.33 L678.50 747.50 L679.00 747.66 L679.50 747.82 L680.00 747.97 L680.50 748.12 L681.00 748.27 L681.50 748.42 L682.00 748.56 L682.50 748.69 L683.00 748.83 L683.50 748.96 L684.00 749.09 L684.50 749.21 L685.00 749.34 L685.50 749.45 L686.00 749.57 L686.50 749.69 L687.00 749.80 L687.50 749.91 L688.00 750.01 L688.50 750.12 L689.00 750.22 L689.50 750.32 L690.00 750.41 L690.50 750.51 L691.00 750.60 L691.50 750.69 L692.00 750.78 L692.50 750.86 L693.00 750.94 L693.50 751.02 L694.00 751.09 L694.50 751.16 L695.00 751.23 L695.50 751.29 L696.00 751.35 L696.50 751.41 L697.00 751.46 L697.50 751.51 L698.00 751.55 L698.50 751.60 L699.00 751.63 L699.50 751.67 L700.00 751.70 L700.50 751.73 L701.00 751.76 L701.50 751.79 L702.00 751.81 L702.50 751.83 L703.00 751.86 L703.50 751.88 L704.00 751.90 L704.50 751.92 L705.00 751.94 L705.50 751.96 L706.00 751.98 L706.50 752.01 L707.00 752.03 L707.50 752.05 L708.00 752.08 L708.50 752.11 L709.00 752.13 L709.50 752.16 L710.00 752.18 L710.50 752.21 L711.00 752.24 L711.50 752.26 L712.00 752.28 L712.50 752.31 L713.00 752.33 L713.50 752.35 L714.00 752.36 L714.50 752.38 L715.00 752.39 L715.50 752.40 L716.00 752.41 L716.50 752.42 L717.00 752.42 L717.50 752.42 L718.00 752.42 L718.50 752.42 L719.00 752.42 L719.50 752.42 L720.00 752.42 L720.50 752.41 L721.00 752.41 L721.50 752.41 L722.00 752.40 L722.50 752.40 L723.00 752.40 L723.50 752.40 L724.00 752.40 L724.50 752.40 L725.00 752.40 L725.50 752.41 L726.00 752.42 L726.50 752.42 L727.00 752.43 L727.50 752.44 L728.00 752.45 L728.50 752.47 L729.00 752.48 L729.50 752.49 L730.00 752.51 L730.50 752.52 L731.00 752.53 L731.50 752.55 L732.00 752.56 L732.50 752.58 L733.00 752.59 L733.50 752.60 L734.00 752.62 L734.50 752.63 L735.00 752.64 L735.50 752.65 L736.00 752.67 L736.50 752.68 L737.00 752.69 L737.50 752.69 L738.00 752.70 L738.50 752.71 L739.00 752.72 L739.50 752.73 L740.00 752.73 L740.50 752.74 L741.00 752.74 L741.50 752.75 L742.00 752.75 L742.50 752.75 L743.00 752.75 L743.50 752.75 L744.00 752.75 L744.50 752.75 L745.00 752.75 L745.50 752.75 L746.00 752.75 L746.50 752.75 L747.00 752.75 L747.50 752.75 L748.00 752.75 L748.50 752.74 L749.00 752.74 L749.50 752.74 L750.00 752.75 L750.50 752.75 L751.00 752.75 L751.50 752.75 L752.00 752.76 L752.50 752.76 L753.00 752.76 L753.50 752.77 L754.00 752.78 L754.50 752.78 L755.00 752.79 L755.50 752.80 L756.00 752.81 L756.50 752.82 L757.00 752.83 L757.50 752.84 L758.00 752.85 L758.50 752.86 L759.00 752.87 L759.50 752.88 L760.00 752.89 L760.50 752.91 L761.00 752.92 L761.50 752.93 L762.00 752.94 L762.50 752.95 L763.00 752.96 L763.50 752.97 L764.00 752.99 L764.50 753.00 L765.00 753.01 L765.50 753.02 L766.00 753.03 L766.50 753.04 L767.00 753.05 L767.50 753.06 L768.00 753.07 L768.50 753.08 L769.00 753.10 L769.50 753.11 L770.00 753.12 L770.50 753.13 L771.00 753.14 L771.50 753.15 L772.00 753.15 L772.50 753.16 L773.00 753.17 L773.50 753.18 L774.00 753.19 L774.50 753.20 L775.00 753.21 L775.50 753.21 L776.00 753.22 L776.50 753.23 L777.00 753.23 L777.50 753.24 L778.00 753.25 L782.60 753.85" fill="none" stroke="#000" stroke-width="2.50" stroke-dasharray="3.8 1.1" stroke-linejoin="round"/>
<circle cx="428.00" cy="752.80" r="1.95" fill="#fff" stroke="#000" stroke-width="1.20"/>
<circle cx="436.98" cy="752.53" r="1.95" fill="#fff" stroke="#000" stroke-width="1.20"/>
<circle cx="445.96" cy="752.27" r="1.95" fill="#fff" stroke="#000" stroke-width="1.20"/>
<circle cx="454.94" cy="752.00" r="1.95" fill="#fff" stroke="#000" stroke-width="1.20"/>
<circle cx="463.92" cy="751.73" r="1.95" fill="#fff" stroke="#000" stroke-width="1.20"/>
<circle cx="472.90" cy="751.47" r="1.95" fill="#fff" stroke="#000" stroke-width="1.20"/>
<circle cx="481.88" cy="751.20" r="1.95" fill="#fff" stroke="#000" stroke-width="1.20"/>
<circle cx="490.86" cy="750.90" r="1.95" fill="#fff" stroke="#000" stroke-width="1.20"/>
<circle cx="499.84" cy="750.75" r="1.95" fill="#fff" stroke="#000" stroke-width="1.20"/>
<circle cx="508.82" cy="750.30" r="1.95" fill="#fff" stroke="#000" stroke-width="1.20"/>
<circle cx="517.80" cy="749.70" r="1.95" fill="#fff" stroke="#000" stroke-width="1.20"/>
<circle cx="526.78" cy="748.95" r="1.95" fill="#fff" stroke="#000" stroke-width="1.20"/>
<circle cx="535.76" cy="747.30" r="1.95" fill="#fff" stroke="#000" stroke-width="1.20"/>
<circle cx="544.74" cy="745.50" r="1.95" fill="#fff" stroke="#000" stroke-width="1.20"/>
<circle cx="553.72" cy="742.20" r="1.95" fill="#fff" stroke="#000" stroke-width="1.20"/>
<circle cx="562.70" cy="736.30" r="1.95" fill="#fff" stroke="#000" stroke-width="1.20"/>
<circle cx="571.68" cy="727.10" r="1.95" fill="#fff" stroke="#000" stroke-width="1.20"/>
<circle cx="580.66" cy="710.20" r="1.95" fill="#fff" stroke="#000" stroke-width="1.20"/>
<circle cx="589.64" cy="683.20" r="1.95" fill="#fff" stroke="#000" stroke-width="1.20"/>
<circle cx="598.62" cy="644.00" r="1.95" fill="#fff" stroke="#000" stroke-width="1.20"/>
<circle cx="607.60" cy="597.70" r="1.95" fill="#fff" stroke="#000" stroke-width="1.20"/>
<circle cx="616.58" cy="573.00" r="1.95" fill="#fff" stroke="#000" stroke-width="1.20"/>
<circle cx="625.56" cy="602.90" r="1.95" fill="#fff" stroke="#000" stroke-width="1.20"/>
<circle cx="634.54" cy="657.80" r="1.95" fill="#fff" stroke="#000" stroke-width="1.20"/>
<circle cx="643.52" cy="698.60" r="1.95" fill="#fff" stroke="#000" stroke-width="1.20"/>
<circle cx="652.50" cy="722.90" r="1.95" fill="#fff" stroke="#000" stroke-width="1.20"/>
<circle cx="661.48" cy="737.00" r="1.95" fill="#fff" stroke="#000" stroke-width="1.20"/>
<circle cx="670.46" cy="744.10" r="1.95" fill="#fff" stroke="#000" stroke-width="1.20"/>
<circle cx="679.44" cy="747.80" r="1.95" fill="#fff" stroke="#000" stroke-width="1.20"/>
<circle cx="688.42" cy="750.10" r="1.95" fill="#fff" stroke="#000" stroke-width="1.20"/>
<circle cx="697.40" cy="751.50" r="1.95" fill="#fff" stroke="#000" stroke-width="1.20"/>
<circle cx="706.38" cy="752.00" r="1.95" fill="#fff" stroke="#000" stroke-width="1.20"/>
<circle cx="715.36" cy="752.40" r="1.95" fill="#fff" stroke="#000" stroke-width="1.20"/>
<circle cx="724.34" cy="752.40" r="1.95" fill="#fff" stroke="#000" stroke-width="1.20"/>
<circle cx="733.32" cy="752.60" r="1.95" fill="#fff" stroke="#000" stroke-width="1.20"/>
<circle cx="742.30" cy="752.75" r="1.95" fill="#fff" stroke="#000" stroke-width="1.20"/>
<circle cx="751.28" cy="752.75" r="1.95" fill="#fff" stroke="#000" stroke-width="1.20"/>
<circle cx="760.26" cy="752.90" r="1.95" fill="#fff" stroke="#000" stroke-width="1.20"/>
<circle cx="769.24" cy="753.10" r="1.95" fill="#fff" stroke="#000" stroke-width="1.20"/>
<circle cx="778.22" cy="753.25" r="1.95" fill="#fff" stroke="#000" stroke-width="1.20"/>
<path d="M425.00 499.30 L450.00 499.80 L475.00 500.60 L500.00 501.60 L520.00 502.80 L535.00 503.60 L545.00 503.30 L553.00 502.20 L562.50 499.80 L571.90 497.50 L581.25 498.50 L589.40 502.90 L598.75 502.90 L607.30 496.50 L616.75 504.75 L625.75 499.50 L634.30 497.00 L643.75 505.50 L652.75 504.00 L661.75 500.25 L670.75 497.50 L679.75 497.00 L691.00 497.25 L724.40 500.00 L742.25 500.35 L782.10 500.90" fill="none" stroke="#000" stroke-width="2.50" stroke-linejoin="round" stroke-linecap="butt"/>
<line x1="20.70" y1="783.50" x2="379.50" y2="783.50" stroke="#000" stroke-width="2.1"/>
<line x1="42.02" y1="783.50" x2="42.02" y2="787.10" stroke="#000" stroke-width="1.7"/>
<line x1="62.44" y1="783.50" x2="62.44" y2="787.10" stroke="#000" stroke-width="1.7"/>
<line x1="82.86" y1="783.50" x2="82.86" y2="787.10" stroke="#000" stroke-width="1.7"/>
<line x1="103.28" y1="783.50" x2="103.28" y2="787.10" stroke="#000" stroke-width="1.7"/>
<line x1="144.12" y1="783.50" x2="144.12" y2="787.10" stroke="#000" stroke-width="1.7"/>
<line x1="164.54" y1="783.50" x2="164.54" y2="787.10" stroke="#000" stroke-width="1.7"/>
<line x1="184.96" y1="783.50" x2="184.96" y2="787.10" stroke="#000" stroke-width="1.7"/>
<line x1="205.38" y1="783.50" x2="205.38" y2="787.10" stroke="#000" stroke-width="1.7"/>
<line x1="246.22" y1="783.50" x2="246.22" y2="787.10" stroke="#000" stroke-width="1.7"/>
<line x1="266.64" y1="783.50" x2="266.64" y2="787.10" stroke="#000" stroke-width="1.7"/>
<line x1="287.06" y1="783.50" x2="287.06" y2="787.10" stroke="#000" stroke-width="1.7"/>
<line x1="307.48" y1="783.50" x2="307.48" y2="787.10" stroke="#000" stroke-width="1.7"/>
<line x1="348.32" y1="783.50" x2="348.32" y2="787.10" stroke="#000" stroke-width="1.7"/>
<line x1="368.74" y1="783.50" x2="368.74" y2="787.10" stroke="#000" stroke-width="1.7"/>
<line x1="21.60" y1="783.50" x2="21.60" y2="788.10" stroke="#000" stroke-width="1.9"/>
<line x1="123.70" y1="783.50" x2="123.70" y2="788.10" stroke="#000" stroke-width="1.9"/>
<line x1="225.80" y1="783.50" x2="225.80" y2="788.10" stroke="#000" stroke-width="1.9"/>
<line x1="327.90" y1="783.50" x2="327.90" y2="788.10" stroke="#000" stroke-width="1.9"/>
<text transform="translate(21.00 810.20) scale(1 1.110)" text-anchor="middle" class="tl">23</text>
<text transform="translate(123.10 810.20) scale(1 1.110)" text-anchor="middle" class="tl">25</text>
<text transform="translate(225.20 810.20) scale(1 1.110)" text-anchor="middle" class="tl">27</text>
<text transform="translate(327.30 810.20) scale(1 1.110)" text-anchor="middle" class="tl">29</text>
<text x="200.00" y="836.00" text-anchor="middle" class="tt">Temp (<tspan class="sup" dy="-6">o</tspan><tspan dy="6">C)</tspan></text>
<line x1="424.60" y1="782.75" x2="783.90" y2="782.75" stroke="#000" stroke-width="2.1"/>
<line x1="443.38" y1="782.75" x2="443.38" y2="786.35" stroke="#000" stroke-width="1.7"/>
<line x1="461.25" y1="782.75" x2="461.25" y2="786.35" stroke="#000" stroke-width="1.7"/>
<line x1="479.12" y1="782.75" x2="479.12" y2="786.35" stroke="#000" stroke-width="1.7"/>
<line x1="497.00" y1="782.75" x2="497.00" y2="786.35" stroke="#000" stroke-width="1.7"/>
<line x1="532.75" y1="782.75" x2="532.75" y2="786.35" stroke="#000" stroke-width="1.7"/>
<line x1="550.62" y1="782.75" x2="550.62" y2="786.35" stroke="#000" stroke-width="1.7"/>
<line x1="568.50" y1="782.75" x2="568.50" y2="786.35" stroke="#000" stroke-width="1.7"/>
<line x1="586.38" y1="782.75" x2="586.38" y2="786.35" stroke="#000" stroke-width="1.7"/>
<line x1="622.12" y1="782.75" x2="622.12" y2="786.35" stroke="#000" stroke-width="1.7"/>
<line x1="640.00" y1="782.75" x2="640.00" y2="786.35" stroke="#000" stroke-width="1.7"/>
<line x1="657.88" y1="782.75" x2="657.88" y2="786.35" stroke="#000" stroke-width="1.7"/>
<line x1="675.75" y1="782.75" x2="675.75" y2="786.35" stroke="#000" stroke-width="1.7"/>
<line x1="711.50" y1="782.75" x2="711.50" y2="786.35" stroke="#000" stroke-width="1.7"/>
<line x1="729.38" y1="782.75" x2="729.38" y2="786.35" stroke="#000" stroke-width="1.7"/>
<line x1="747.25" y1="782.75" x2="747.25" y2="786.35" stroke="#000" stroke-width="1.7"/>
<line x1="765.12" y1="782.75" x2="765.12" y2="786.35" stroke="#000" stroke-width="1.7"/>
<line x1="425.50" y1="782.75" x2="425.50" y2="787.35" stroke="#000" stroke-width="1.9"/>
<line x1="514.88" y1="782.75" x2="514.88" y2="787.35" stroke="#000" stroke-width="1.9"/>
<line x1="604.25" y1="782.75" x2="604.25" y2="787.35" stroke="#000" stroke-width="1.9"/>
<line x1="693.62" y1="782.75" x2="693.62" y2="787.35" stroke="#000" stroke-width="1.9"/>
<line x1="783.00" y1="782.75" x2="783.00" y2="787.35" stroke="#000" stroke-width="1.9"/>
<text transform="translate(424.90 809.40) scale(1 1.110)" text-anchor="middle" class="tl">28</text>
<text transform="translate(514.27 809.40) scale(1 1.110)" text-anchor="middle" class="tl">29</text>
<text transform="translate(603.65 809.40) scale(1 1.110)" text-anchor="middle" class="tl">30</text>
<text transform="translate(693.02 809.40) scale(1 1.110)" text-anchor="middle" class="tl">31</text>
<text transform="translate(782.40 809.40) scale(1 1.110)" text-anchor="middle" class="tl">32</text>
<text x="603.50" y="834.60" text-anchor="middle" class="tt">Temp (<tspan class="sup" dy="-6">o</tspan><tspan dy="6">C)</tspan></text>
<text transform="translate(6.65 34.00) scale(1.060 1.100)" class="pl">A</text>
<text transform="translate(7.95 469.40) scale(1.030 1.110)" class="pl">B</text>
<text transform="translate(410.50 34.50) scale(1.000 1.130)" class="pl">C</text>
<text transform="translate(411.25 469.60) scale(1.070 1.100)" class="pl">D</text>
<text x="7.0" y="128.0" class="lb">Residuals x 10</text>
<text x="18.6" y="550.0" class="lb">Residuals x 10</text>
<text x="421.8" y="129.3" class="lb">Residuals x 10</text>
<text x="426.8" y="548.8" class="lb">Residuals x 10</text>
<text x="14.00" y="268.80" class="lb it">X</text><text x="27.60" y="273.80" class="sub">PE</text><text x="49.80" y="268.80" class="lb">= 0.40</text><text x="6.8" y="294.7" class="lb">(2-component fit)</text>
<text x="27.80" y="660.50" class="lb it">X</text><text x="41.40" y="665.50" class="sub">PE</text><text x="63.60" y="660.50" class="lb">= 0.40</text><text x="20.4" y="686.3" class="lb">(3-component fit)</text>
<text x="422.80" y="205.00" class="lb it">X</text><text x="436.40" y="210.00" class="sub">PE</text><text x="458.60" y="205.00" class="lb">= 0.70</text><text x="415.3" y="230.8" class="lb">(2-component fit)</text>
<text x="428.30" y="600.00" class="lb it">X</text><text x="441.90" y="605.00" class="sub">PE</text><text x="464.10" y="600.00" class="lb">= 0.70</text><text x="421.0" y="625.6" class="lb">(3-component fit)</text>
</g>
</svg>
</body></html>
